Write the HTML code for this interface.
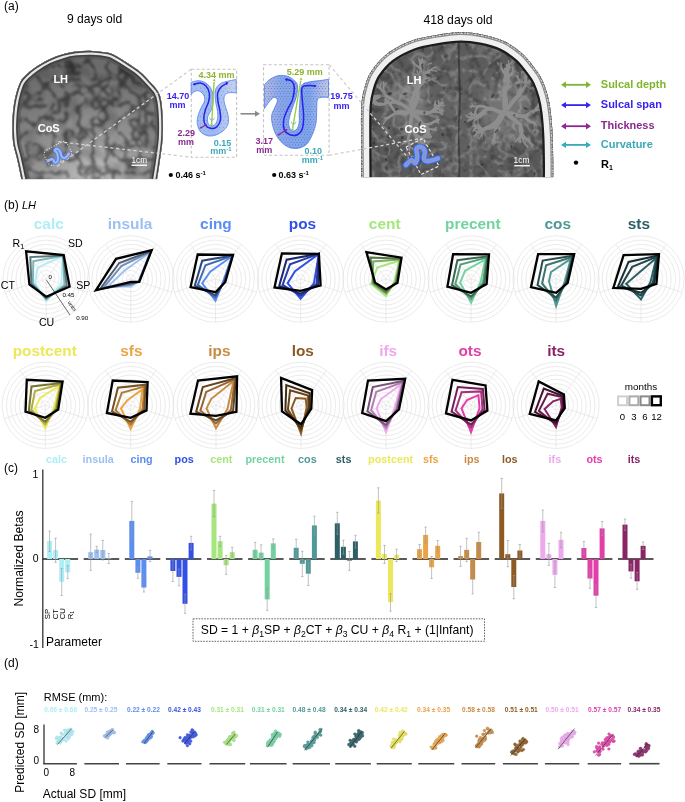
<!DOCTYPE html>
<html><head><meta charset="utf-8"><style>
html,body{margin:0;padding:0;background:#fff;}
svg{display:block;font-family:"Liberation Sans", sans-serif;will-change:transform;}
</style></head><body>
<svg width="685" height="802" viewBox="0 0 685 802" font-family='"Liberation Sans", sans-serif'>
<rect width="685" height="802" fill="#fff"/>
<text x="4.0" y="9.9" font-size="12" fill="#000" text-anchor="start" >(a)</text>
<text x="67.0" y="23.1" font-size="12.1" fill="#000" text-anchor="start" >9 days old</text>
<text x="423.4" y="23.7" font-size="12.2" fill="#000" text-anchor="start" >418 days old</text>
<clipPath id="clL"><path d="M21.5,179.8 C20.8,176.2 18.3,164.2 17.0,158.5 C15.7,152.8 14.4,149.8 13.6,145.4 C12.8,141.1 12.6,136.8 12.4,132.4 C12.2,128.1 12.3,123.7 12.5,119.3 C12.7,114.9 13.0,110.6 13.7,106.2 C14.3,101.8 15.3,97.1 16.4,93.1 C17.5,89.1 18.8,84.9 20.3,82.0 C21.8,79.1 23.0,77.9 25.5,75.5 C28.0,73.1 31.4,70.1 35.2,67.5 C39.0,64.9 43.9,61.9 48.4,59.7 C52.9,57.5 57.4,55.9 62.0,54.5 C66.6,53.1 71.0,52.2 76.0,51.6 C81.0,51.0 86.7,50.7 92.1,50.9 C97.5,51.1 104.2,51.9 108.2,52.8 C112.2,53.7 112.7,54.2 116.2,56.1 C119.7,58.0 125.0,61.4 129.0,64.1 C133.0,66.8 136.8,69.1 140.3,72.1 C143.8,75.0 147.0,78.6 149.9,81.8 C152.8,85.0 156.1,88.2 158.0,91.4 C159.9,94.6 160.4,96.2 161.2,101.0 C162.0,105.8 162.6,113.5 162.8,120.0 C163.0,126.5 163.0,133.3 162.5,140.0 C162.0,146.7 160.9,153.4 160.0,160.0 C159.1,166.6 157.5,176.2 157.0,179.5 Z"/></clipPath>
<radialGradient id="gL" cx="0.55" cy="1.0" r="0.8"><stop offset="0" stop-color="#c6c6c6"/><stop offset="0.35" stop-color="#9a9a9a"/><stop offset="0.75" stop-color="#7c7c7c"/><stop offset="1" stop-color="#6c6c6c"/></radialGradient>
<filter id="tL" x="0" y="0" width="100%" height="100%"><feTurbulence type="turbulence" baseFrequency="0.075" numOctaves="2" seed="3"/><feColorMatrix type="matrix" values="0 0 0 0 0  0 0 0 0 0  0 0 0 0 0  -3.6 0 0 0 1.05"/><feGaussianBlur stdDeviation="0.8"/></filter>
<filter id="tL2" x="0" y="0" width="100%" height="100%"><feTurbulence type="fractalNoise" baseFrequency="0.05" numOctaves="2" seed="5"/><feColorMatrix type="matrix" values="0 0 0 0 0  0 0 0 0 0  0 0 0 0 0  -2.5 0 0 0 1.3"/></filter>
<g clip-path="url(#clL)"><rect x="0" y="40" width="175" height="140" fill="url(#gL)"/><rect x="0" y="40" width="175" height="140" filter="url(#tL2)" opacity="0.25"/><rect x="0" y="40" width="175" height="140" filter="url(#tL)" opacity="0.5"/></g>
<g clip-path="url(#clL)" fill="none"><path d="M21.5,179.8 C20.8,176.2 18.3,164.2 17.0,158.5 C15.7,152.8 14.4,149.8 13.6,145.4 C12.8,141.1 12.6,136.8 12.4,132.4 C12.2,128.1 12.3,123.7 12.5,119.3 C12.7,114.9 13.0,110.6 13.7,106.2 C14.3,101.8 15.3,97.1 16.4,93.1 C17.5,89.1 18.8,84.9 20.3,82.0 C21.8,79.1 23.0,77.9 25.5,75.5 C28.0,73.1 31.4,70.1 35.2,67.5 C39.0,64.9 43.9,61.9 48.4,59.7 C52.9,57.5 57.4,55.9 62.0,54.5 C66.6,53.1 71.0,52.2 76.0,51.6 C81.0,51.0 86.7,50.7 92.1,50.9 C97.5,51.1 104.2,51.9 108.2,52.8 C112.2,53.7 112.7,54.2 116.2,56.1 C119.7,58.0 125.0,61.4 129.0,64.1 C133.0,66.8 136.8,69.1 140.3,72.1 C143.8,75.0 147.0,78.6 149.9,81.8 C152.8,85.0 156.1,88.2 158.0,91.4 C159.9,94.6 160.4,96.2 161.2,101.0 C162.0,105.8 162.6,113.5 162.8,120.0 C163.0,126.5 163.0,133.3 162.5,140.0 C162.0,146.7 160.9,153.4 160.0,160.0 C159.1,166.6 157.5,176.2 157.0,179.5" stroke="#555" stroke-width="16" opacity="0.6"/><path d="M21.5,179.8 C20.8,176.2 18.3,164.2 17.0,158.5 C15.7,152.8 14.4,149.8 13.6,145.4 C12.8,141.1 12.6,136.8 12.4,132.4 C12.2,128.1 12.3,123.7 12.5,119.3 C12.7,114.9 13.0,110.6 13.7,106.2 C14.3,101.8 15.3,97.1 16.4,93.1 C17.5,89.1 18.8,84.9 20.3,82.0 C21.8,79.1 23.0,77.9 25.5,75.5 C28.0,73.1 31.4,70.1 35.2,67.5 C39.0,64.9 43.9,61.9 48.4,59.7 C52.9,57.5 57.4,55.9 62.0,54.5 C66.6,53.1 71.0,52.2 76.0,51.6 C81.0,51.0 86.7,50.7 92.1,50.9 C97.5,51.1 104.2,51.9 108.2,52.8 C112.2,53.7 112.7,54.2 116.2,56.1 C119.7,58.0 125.0,61.4 129.0,64.1 C133.0,66.8 136.8,69.1 140.3,72.1 C143.8,75.0 147.0,78.6 149.9,81.8 C152.8,85.0 156.1,88.2 158.0,91.4 C159.9,94.6 160.4,96.2 161.2,101.0 C162.0,105.8 162.6,113.5 162.8,120.0 C163.0,126.5 163.0,133.3 162.5,140.0 C162.0,146.7 160.9,153.4 160.0,160.0 C159.1,166.6 157.5,176.2 157.0,179.5" stroke="#404040" stroke-width="11"/><path d="M21.5,179.8 C20.8,176.2 18.3,164.2 17.0,158.5 C15.7,152.8 14.4,149.8 13.6,145.4 C12.8,141.1 12.6,136.8 12.4,132.4 C12.2,128.1 12.3,123.7 12.5,119.3 C12.7,114.9 13.0,110.6 13.7,106.2 C14.3,101.8 15.3,97.1 16.4,93.1 C17.5,89.1 18.8,84.9 20.3,82.0 C21.8,79.1 23.0,77.9 25.5,75.5 C28.0,73.1 31.4,70.1 35.2,67.5 C39.0,64.9 43.9,61.9 48.4,59.7 C52.9,57.5 57.4,55.9 62.0,54.5 C66.6,53.1 71.0,52.2 76.0,51.6 C81.0,51.0 86.7,50.7 92.1,50.9 C97.5,51.1 104.2,51.9 108.2,52.8 C112.2,53.7 112.7,54.2 116.2,56.1 C119.7,58.0 125.0,61.4 129.0,64.1 C133.0,66.8 136.8,69.1 140.3,72.1 C143.8,75.0 147.0,78.6 149.9,81.8 C152.8,85.0 156.1,88.2 158.0,91.4 C159.9,94.6 160.4,96.2 161.2,101.0 C162.0,105.8 162.6,113.5 162.8,120.0 C163.0,126.5 163.0,133.3 162.5,140.0 C162.0,146.7 160.9,153.4 160.0,160.0 C159.1,166.6 157.5,176.2 157.0,179.5" stroke="#e6e6e6" stroke-width="7.6"/><path d="M21.5,179.8 C20.8,176.2 18.3,164.2 17.0,158.5 C15.7,152.8 14.4,149.8 13.6,145.4 C12.8,141.1 12.6,136.8 12.4,132.4 C12.2,128.1 12.3,123.7 12.5,119.3 C12.7,114.9 13.0,110.6 13.7,106.2 C14.3,101.8 15.3,97.1 16.4,93.1 C17.5,89.1 18.8,84.9 20.3,82.0 C21.8,79.1 23.0,77.9 25.5,75.5 C28.0,73.1 31.4,70.1 35.2,67.5 C39.0,64.9 43.9,61.9 48.4,59.7 C52.9,57.5 57.4,55.9 62.0,54.5 C66.6,53.1 71.0,52.2 76.0,51.6 C81.0,51.0 86.7,50.7 92.1,50.9 C97.5,51.1 104.2,51.9 108.2,52.8 C112.2,53.7 112.7,54.2 116.2,56.1 C119.7,58.0 125.0,61.4 129.0,64.1 C133.0,66.8 136.8,69.1 140.3,72.1 C143.8,75.0 147.0,78.6 149.9,81.8 C152.8,85.0 156.1,88.2 158.0,91.4 C159.9,94.6 160.4,96.2 161.2,101.0 C162.0,105.8 162.6,113.5 162.8,120.0 C163.0,126.5 163.0,133.3 162.5,140.0 C162.0,146.7 160.9,153.4 160.0,160.0 C159.1,166.6 157.5,176.2 157.0,179.5" stroke="#4a4a4a" stroke-width="3.2"/></g>
<rect x="0" y="179.3" width="170" height="3" fill="#fff"/>
<text x="53.4" y="83.4" font-size="11" fill="#fff" text-anchor="start" font-weight="bold" >LH</text>
<text x="37.7" y="132.3" font-size="11" fill="#fff" text-anchor="start" font-weight="bold" >CoS</text>
<text x="131.5" y="163.0" font-size="8.2" fill="#fff" text-anchor="start" >1cm</text>
<rect x="131.5" y="164.6" width="15.5" height="1.3" fill="#fff"/>
<clipPath id="clR"><path d="M361.2,177.6 C361.2,171.3 361.0,152.1 361.0,140.0 C361.0,127.9 360.8,113.9 361.4,105.1 C362.0,96.3 363.0,93.0 364.6,87.4 C366.2,81.8 367.4,77.0 371.1,71.4 C374.9,65.8 380.4,58.8 387.1,53.7 C393.8,48.6 403.2,43.9 411.2,40.8 C419.2,37.7 427.2,36.6 435.3,35.2 C443.4,33.8 452.2,32.4 460.0,32.3 C467.8,32.2 474.6,33.0 481.9,34.5 C489.2,36.0 497.2,38.1 503.8,41.1 C510.4,44.1 516.4,48.6 521.3,52.7 C526.2,56.8 529.6,61.5 533.0,65.9 C536.4,70.3 539.4,74.1 541.8,79.0 C544.2,83.9 546.1,89.5 547.6,95.1 C549.1,100.7 550.0,105.9 550.8,112.6 C551.6,119.2 552.2,127.1 552.6,135.0 C553.0,142.9 553.1,152.9 553.2,160.0 C553.3,167.1 553.2,174.7 553.2,177.6 Z"/></clipPath>
<radialGradient id="gR" cx="0.5" cy="0.55" r="0.6"><stop offset="0" stop-color="#646464"/><stop offset="1" stop-color="#575757"/></radialGradient>
<filter id="tR" x="0" y="0" width="100%" height="100%"><feTurbulence type="fractalNoise" baseFrequency="0.13" numOctaves="2" seed="8"/><feColorMatrix type="matrix" values="0 0 0 0 0  0 0 0 0 0  0 0 0 0 0  -3.0 0 0 0 1.45"/></filter>
<filter id="bl1"><feGaussianBlur stdDeviation="0.7"/></filter>
<filter id="tR2" x="0" y="0" width="100%" height="100%"><feTurbulence type="turbulence" baseFrequency="0.07" numOctaves="2" seed="17"/><feColorMatrix type="matrix" values="0 0 0 0 1  0 0 0 0 1  0 0 0 0 1  -4.0 0 0 0 1.0"/><feGaussianBlur stdDeviation="0.6"/></filter>
<filter id="bl3"><feGaussianBlur stdDeviation="4"/></filter>
<g clip-path="url(#clR)"><rect x="355" y="25" width="205" height="155" fill="url(#gR)"/>
<ellipse cx="412" cy="105" rx="16" ry="32" fill="#7a7a7a" filter="url(#bl3)" opacity="0.8"/>
<ellipse cx="505" cy="108" rx="24" ry="34" fill="#7a7a7a" filter="url(#bl3)" opacity="0.8"/>
<rect x="355" y="25" width="205" height="155" filter="url(#tR)" opacity="0.24"/>
<rect x="355" y="25" width="205" height="155" filter="url(#tR2)" opacity="0.22"/>
<g stroke="#8e8e8e" fill="none" stroke-linecap="round" filter="url(#bl1)"><path d="M412.0,112.0 C412.0,110.7 411.8,106.6 412.1,103.9 C412.3,101.3 412.7,98.6 413.5,96.0 C414.2,93.4 416.0,89.8 416.5,88.5" stroke-width="3.8"/><path d="M416.5,88.5 C417.1,87.9 419.1,86.1 420.1,84.6 C421.1,83.2 421.8,81.5 422.3,79.9 C422.9,78.2 423.2,75.5 423.4,74.7" stroke-width="2.7"/><path d="M423.4,74.7 C423.5,74.2 423.7,72.8 423.9,71.8 C424.1,70.9 424.5,69.9 424.5,69.0 C424.6,68.0 424.3,66.6 424.2,66.1" stroke-width="2.0"/><path d="M424.2,66.1 C424.2,65.8 424.2,65.1 424.2,64.6 C424.2,64.0 424.1,63.5 424.1,63.0 C424.1,62.5 424.2,61.7 424.3,61.5" stroke-width="1.4"/><path d="M424.2,66.1 C424.3,65.9 424.4,65.1 424.7,64.6 C424.9,64.1 425.2,63.7 425.6,63.3 C425.9,62.9 426.6,62.5 426.8,62.3" stroke-width="1.4"/><path d="M423.4,74.7 C423.1,74.1 422.7,72.3 422.0,71.3 C421.4,70.2 420.5,69.4 419.7,68.5 C418.9,67.6 417.6,66.3 417.1,65.8" stroke-width="2.0"/><path d="M417.1,65.8 C416.9,65.6 416.0,65.0 415.5,64.6 C415.0,64.1 414.4,63.7 413.9,63.2 C413.4,62.7 412.7,62.0 412.4,61.8" stroke-width="1.4"/><path d="M417.1,65.8 C416.9,65.6 416.0,65.1 415.5,64.7 C415.0,64.2 414.7,63.6 414.2,63.1 C413.8,62.6 413.1,61.9 412.8,61.6" stroke-width="1.4"/><path d="M423.4,74.7 C423.1,74.2 422.0,72.6 421.5,71.5 C421.0,70.4 420.5,69.3 420.3,68.1 C420.1,66.9 420.2,65.0 420.1,64.4" stroke-width="2.0"/><path d="M420.1,64.4 C420.0,64.1 419.7,63.1 419.6,62.4 C419.4,61.7 419.5,61.0 419.4,60.4 C419.2,59.7 418.8,58.7 418.7,58.4" stroke-width="1.4"/><path d="M420.1,64.4 C420.4,64.2 421.2,63.6 421.8,63.2 C422.3,62.8 422.9,62.4 423.5,62.0 C424.0,61.5 424.7,60.8 425.0,60.6" stroke-width="1.4"/><path d="M420.1,64.4 C420.2,64.1 420.5,63.2 420.8,62.7 C421.1,62.1 421.7,61.7 422.0,61.2 C422.3,60.7 422.5,59.7 422.6,59.4" stroke-width="1.4"/><path d="M416.5,88.5 C416.6,87.6 416.7,84.9 417.1,83.2 C417.4,81.4 417.8,79.6 418.6,78.0 C419.3,76.4 421.1,74.2 421.6,73.5" stroke-width="2.7"/><path d="M421.6,73.5 C421.4,73.0 420.8,71.5 420.7,70.5 C420.5,69.4 420.7,68.4 420.5,67.3 C420.4,66.3 420.1,64.7 420.0,64.2" stroke-width="2.0"/><path d="M420.0,64.2 C420.0,63.9 420.3,62.9 420.5,62.3 C420.6,61.7 420.7,61.0 421.0,60.4 C421.3,59.8 421.9,59.0 422.1,58.8" stroke-width="1.4"/><path d="M420.0,64.2 C420.1,63.9 420.7,63.1 421.0,62.5 C421.3,61.9 421.6,61.3 421.8,60.7 C422.0,60.1 422.1,59.1 422.1,58.8" stroke-width="1.4"/><path d="M420.0,64.2 C419.9,63.9 419.7,63.2 419.7,62.6 C419.6,62.1 419.5,61.6 419.4,61.0 C419.4,60.5 419.4,59.7 419.4,59.4" stroke-width="1.4"/><path d="M421.6,73.5 C422.1,73.4 423.7,73.1 424.7,72.8 C425.7,72.5 426.7,72.1 427.7,71.7 C428.7,71.3 430.0,70.4 430.5,70.1" stroke-width="2.0"/><path d="M430.5,70.1 C430.8,70.2 431.8,70.5 432.5,70.6 C433.1,70.7 433.8,70.7 434.5,70.8 C435.1,70.9 436.1,71.1 436.5,71.2" stroke-width="1.4"/><path d="M430.5,70.1 C430.7,69.9 431.4,69.2 432.0,68.9 C432.5,68.5 433.1,68.2 433.7,68.0 C434.3,67.8 435.3,67.7 435.6,67.7" stroke-width="1.4"/><path d="M430.5,70.1 C430.8,69.9 431.7,69.3 432.3,68.9 C432.9,68.5 433.5,68.0 434.1,67.7 C434.8,67.3 435.9,67.1 436.2,67.0" stroke-width="1.4"/><path d="M421.6,73.5 C421.9,73.0 422.8,71.6 423.4,70.7 C424.0,69.7 424.6,68.8 425.1,67.8 C425.6,66.8 426.1,65.1 426.3,64.6" stroke-width="2.0"/><path d="M426.3,64.6 C426.6,64.5 427.4,64.3 428.0,64.2 C428.6,64.0 429.1,63.8 429.7,63.7 C430.3,63.5 431.1,63.3 431.4,63.3" stroke-width="1.4"/><path d="M426.3,64.6 C426.1,64.3 425.6,63.5 425.2,63.0 C424.8,62.5 424.5,61.9 424.0,61.5 C423.5,61.0 422.7,60.5 422.4,60.3" stroke-width="1.4"/><path d="M412.0,112.0 C411.2,111.3 408.7,109.1 406.9,107.8 C405.2,106.4 403.4,105.1 401.5,104.1 C399.5,103.1 396.3,102.3 395.2,101.9" stroke-width="3.8"/><path d="M395.2,101.9 C394.7,101.4 393.3,99.9 392.2,99.1 C391.1,98.3 389.7,97.8 388.5,97.2 C387.3,96.5 385.6,95.3 385.0,94.9" stroke-width="2.7"/><path d="M385.0,94.9 C384.9,94.5 384.7,93.1 384.4,92.1 C384.2,91.2 383.7,90.3 383.5,89.4 C383.4,88.5 383.5,87.0 383.5,86.5" stroke-width="2.0"/><path d="M383.5,86.5 C383.5,86.2 383.5,85.4 383.6,84.9 C383.6,84.4 383.7,83.8 383.7,83.3 C383.7,82.7 383.7,81.9 383.7,81.6" stroke-width="1.4"/><path d="M383.5,86.5 C383.6,86.3 384.0,85.6 384.3,85.3 C384.6,84.9 385.1,84.5 385.4,84.2 C385.7,83.8 386.1,83.1 386.3,82.9" stroke-width="1.4"/><path d="M385.0,94.9 C384.6,95.0 383.3,95.0 382.4,95.2 C381.6,95.3 380.8,95.6 379.9,95.8 C379.0,95.9 377.7,95.8 377.3,95.8" stroke-width="2.0"/><path d="M377.3,95.8 C377.2,96.1 376.8,96.8 376.4,97.1 C376.1,97.5 375.6,97.8 375.2,98.1 C374.7,98.4 374.0,98.7 373.8,98.8" stroke-width="1.4"/><path d="M377.3,95.8 C377.0,95.9 376.1,96.0 375.5,95.9 C374.9,95.8 374.3,95.7 373.7,95.5 C373.2,95.3 372.4,94.8 372.1,94.7" stroke-width="1.4"/><path d="M377.3,95.8 C377.0,95.9 376.2,96.0 375.7,96.1 C375.1,96.3 374.6,96.5 374.1,96.6 C373.5,96.7 372.7,96.8 372.4,96.9" stroke-width="1.4"/><path d="M385.0,94.9 C384.7,94.6 383.8,93.7 383.3,93.1 C382.8,92.4 382.5,91.6 382.0,90.9 C381.6,90.2 380.9,89.1 380.6,88.8" stroke-width="2.0"/><path d="M380.6,88.8 C380.6,88.5 380.6,87.7 380.6,87.1 C380.6,86.5 380.6,86.0 380.7,85.4 C380.8,84.9 381.1,84.1 381.2,83.8" stroke-width="1.4"/><path d="M380.6,88.8 C380.5,88.6 380.2,87.9 379.9,87.5 C379.7,87.0 379.3,86.7 378.9,86.3 C378.6,85.9 378.3,85.3 378.1,85.1" stroke-width="1.4"/><path d="M380.6,88.8 C380.4,88.7 379.8,88.6 379.4,88.4 C379.0,88.2 378.7,87.9 378.3,87.6 C377.9,87.4 377.4,87.1 377.2,87.0" stroke-width="1.4"/><path d="M395.2,101.9 C394.7,101.4 393.0,99.8 391.8,98.9 C390.5,98.1 389.1,97.5 387.7,96.9 C386.3,96.3 384.1,95.7 383.4,95.5" stroke-width="2.7"/><path d="M383.4,95.5 C382.9,95.6 381.5,96.0 380.7,96.4 C379.8,96.7 379.1,97.4 378.2,97.8 C377.4,98.3 376.1,98.9 375.7,99.1" stroke-width="2.0"/><path d="M375.7,99.1 C375.4,99.1 374.5,99.3 373.9,99.4 C373.4,99.6 372.8,99.8 372.3,100.0 C371.7,100.2 370.8,100.5 370.5,100.6" stroke-width="1.4"/><path d="M375.7,99.1 C375.5,99.3 374.9,100.0 374.4,100.3 C374.0,100.6 373.4,100.8 372.8,101.1 C372.3,101.3 371.6,101.8 371.3,102.0" stroke-width="1.4"/><path d="M383.4,95.5 C382.8,95.5 381.3,95.4 380.2,95.5 C379.2,95.5 378.1,95.7 377.1,96.0 C376.2,96.4 374.8,97.2 374.4,97.5" stroke-width="2.0"/><path d="M374.4,97.5 C374.2,97.8 373.4,98.5 373.1,99.1 C372.7,99.6 372.4,100.3 372.2,100.9 C371.9,101.5 371.7,102.5 371.7,102.9" stroke-width="1.4"/><path d="M374.4,97.5 C374.3,97.8 373.9,98.8 373.7,99.5 C373.4,100.1 373.2,100.8 373.0,101.5 C372.8,102.2 372.6,103.2 372.5,103.5" stroke-width="1.4"/><path d="M383.4,95.5 C382.8,95.6 381.3,95.6 380.2,95.9 C379.2,96.1 378.2,96.4 377.3,96.8 C376.3,97.3 375.1,98.3 374.6,98.6" stroke-width="2.0"/><path d="M374.6,98.6 C374.3,98.6 373.5,98.5 373.0,98.5 C372.4,98.5 371.8,98.6 371.3,98.7 C370.8,98.8 370.0,99.0 369.7,99.1" stroke-width="1.4"/><path d="M374.6,98.6 C374.3,98.7 373.5,99.3 373.0,99.6 C372.4,100.0 371.9,100.4 371.4,100.9 C371.0,101.4 370.6,102.3 370.4,102.5" stroke-width="1.4"/><path d="M374.6,98.6 C374.4,98.7 373.9,99.3 373.5,99.7 C373.1,100.1 372.8,100.5 372.4,100.8 C372.0,101.2 371.3,101.6 371.1,101.8" stroke-width="1.4"/><path d="M395.2,101.9 C394.6,102.0 392.7,102.4 391.4,102.6 C390.1,102.7 388.7,102.5 387.5,102.8 C386.2,103.1 384.4,103.9 383.8,104.2" stroke-width="2.7"/><path d="M383.8,104.2 C383.4,104.1 382.3,103.6 381.6,103.5 C380.8,103.4 380.0,103.6 379.2,103.5 C378.5,103.5 377.4,103.1 377.0,103.0" stroke-width="2.0"/><path d="M377.0,103.0 C376.8,102.9 376.4,102.5 376.1,102.2 C375.8,102.0 375.5,101.8 375.2,101.5 C374.9,101.2 374.6,100.8 374.4,100.6" stroke-width="1.4"/><path d="M377.0,103.0 C376.8,102.9 376.2,102.6 375.9,102.3 C375.6,102.0 375.3,101.7 375.0,101.4 C374.6,101.1 374.1,100.8 373.9,100.7" stroke-width="1.4"/><path d="M377.0,103.0 C376.8,102.8 376.5,102.2 376.2,101.8 C375.9,101.4 375.5,101.1 375.1,100.7 C374.8,100.4 374.2,100.0 374.0,99.8" stroke-width="1.4"/><path d="M383.8,104.2 C383.4,104.1 382.0,104.1 381.1,104.1 C380.2,104.1 379.3,104.3 378.4,104.2 C377.6,104.1 376.3,103.5 375.9,103.4" stroke-width="2.0"/><path d="M375.9,103.4 C375.6,103.3 374.9,102.9 374.4,102.8 C373.9,102.7 373.3,102.6 372.8,102.6 C372.3,102.6 371.5,102.8 371.2,102.9" stroke-width="1.4"/><path d="M375.9,103.4 C375.6,103.2 374.9,102.8 374.5,102.4 C374.0,102.1 373.7,101.6 373.3,101.2 C372.8,100.9 372.0,100.6 371.8,100.5" stroke-width="1.4"/><path d="M383.8,104.2 C383.5,104.3 382.5,104.7 381.8,104.8 C381.1,104.9 380.4,104.9 379.7,104.9 C379.0,104.8 378.0,104.5 377.6,104.5" stroke-width="2.0"/><path d="M377.6,104.5 C377.4,104.4 376.7,104.2 376.3,104.0 C375.8,103.8 375.5,103.5 375.1,103.3 C374.6,103.0 373.9,102.8 373.7,102.7" stroke-width="1.4"/><path d="M377.6,104.5 C377.5,104.5 376.9,104.6 376.5,104.6 C376.2,104.6 375.8,104.6 375.4,104.6 C375.1,104.5 374.5,104.4 374.4,104.3" stroke-width="1.4"/><path d="M412.0,112.0 C412.4,111.0 413.8,108.0 414.6,105.9 C415.4,103.9 416.3,101.8 416.8,99.7 C417.2,97.6 417.2,94.2 417.3,93.1" stroke-width="3.8"/><path d="M417.3,93.1 C417.5,92.4 417.8,90.3 418.3,89.0 C418.9,87.8 419.8,86.6 420.6,85.5 C421.4,84.3 422.8,82.8 423.3,82.2" stroke-width="2.7"/><path d="M423.3,82.2 C423.1,81.8 422.8,80.5 422.4,79.7 C422.0,78.9 421.5,78.1 421.0,77.3 C420.5,76.6 419.6,75.6 419.3,75.3" stroke-width="2.0"/><path d="M419.3,75.3 C419.3,75.0 419.4,74.3 419.5,73.9 C419.5,73.4 419.4,73.0 419.5,72.5 C419.6,72.0 419.8,71.4 419.8,71.1" stroke-width="1.4"/><path d="M419.3,75.3 C419.1,75.0 418.5,74.4 418.2,73.9 C417.9,73.4 417.7,72.8 417.6,72.2 C417.4,71.6 417.3,70.7 417.2,70.4" stroke-width="1.4"/><path d="M419.3,75.3 C419.0,75.2 418.2,74.8 417.7,74.7 C417.1,74.6 416.5,74.7 416.0,74.6 C415.4,74.5 414.6,74.3 414.3,74.2" stroke-width="1.4"/><path d="M423.3,82.2 C423.8,82.1 425.2,81.9 426.1,81.6 C427.0,81.3 427.9,80.8 428.8,80.4 C429.7,80.0 431.0,79.3 431.4,79.1" stroke-width="2.0"/><path d="M431.4,79.1 C431.5,78.8 431.8,78.0 432.0,77.5 C432.2,77.0 432.6,76.6 432.8,76.0 C433.0,75.5 433.1,74.7 433.2,74.4" stroke-width="1.4"/><path d="M431.4,79.1 C431.7,79.0 432.5,79.0 433.1,78.9 C433.6,78.8 434.2,78.7 434.8,78.6 C435.3,78.4 436.1,78.2 436.4,78.1" stroke-width="1.4"/><path d="M431.4,79.1 C431.6,79.2 432.4,79.7 432.9,80.0 C433.4,80.3 433.8,80.8 434.3,81.0 C434.8,81.3 435.7,81.5 436.0,81.6" stroke-width="1.4"/><path d="M423.3,82.2 C423.4,81.8 423.6,80.6 423.9,79.8 C424.2,79.0 424.7,78.3 425.0,77.6 C425.4,76.8 425.7,75.6 425.8,75.2" stroke-width="2.0"/><path d="M425.8,75.2 C426.0,75.0 426.5,74.3 426.9,73.9 C427.2,73.5 427.7,73.2 428.1,72.9 C428.6,72.6 429.3,72.2 429.6,72.1" stroke-width="1.4"/><path d="M425.8,75.2 C425.9,75.0 426.0,74.4 426.0,73.9 C425.9,73.5 425.8,73.1 425.7,72.7 C425.7,72.3 425.7,71.6 425.7,71.4" stroke-width="1.4"/><path d="M425.8,75.2 C425.9,75.0 426.0,74.3 426.1,73.9 C426.2,73.5 426.4,73.1 426.5,72.7 C426.5,72.3 426.5,71.6 426.5,71.4" stroke-width="1.4"/><path d="M417.3,93.1 C417.4,92.5 417.6,90.5 417.8,89.2 C418.1,87.9 418.6,86.7 418.9,85.4 C419.2,84.1 419.6,82.2 419.8,81.5" stroke-width="2.7"/><path d="M419.8,81.5 C419.9,81.1 420.1,79.8 420.3,79.0 C420.5,78.1 420.7,77.3 421.0,76.4 C421.2,75.6 421.8,74.4 422.0,74.0" stroke-width="2.0"/><path d="M422.0,74.0 C421.9,73.8 421.8,73.1 421.6,72.7 C421.5,72.3 421.3,71.9 421.2,71.4 C421.0,71.0 420.8,70.4 420.8,70.2" stroke-width="1.4"/><path d="M422.0,74.0 C422.2,73.8 422.9,73.3 423.4,72.9 C423.9,72.6 424.4,72.3 425.0,72.1 C425.5,71.8 426.4,71.7 426.7,71.6" stroke-width="1.4"/><path d="M419.8,81.5 C420.1,81.3 421.1,80.7 421.8,80.3 C422.4,79.9 423.2,79.7 423.9,79.3 C424.6,79.0 425.5,78.4 425.9,78.2" stroke-width="2.0"/><path d="M425.9,78.2 C426.1,78.2 426.8,78.3 427.3,78.3 C427.8,78.2 428.3,78.0 428.7,78.0 C429.2,77.9 429.9,77.9 430.2,77.8" stroke-width="1.4"/><path d="M425.9,78.2 C426.1,78.2 426.7,78.3 427.1,78.4 C427.5,78.4 427.9,78.3 428.3,78.3 C428.6,78.2 429.2,78.3 429.4,78.3" stroke-width="1.4"/><path d="M412.0,112.0 C411.2,112.1 408.6,112.8 406.9,112.9 C405.3,112.9 403.6,112.1 401.9,112.0 C400.2,112.0 397.6,112.3 396.7,112.4" stroke-width="3.8"/><path d="M396.7,112.4 C396.3,112.6 395.2,113.4 394.3,113.9 C393.5,114.4 392.7,114.9 391.9,115.4 C391.1,115.9 389.9,116.7 389.5,117.0" stroke-width="2.7"/><path d="M389.5,117.0 C389.2,117.1 388.4,117.4 387.8,117.5 C387.2,117.7 386.5,117.6 386.0,117.8 C385.4,118.0 384.6,118.4 384.4,118.6" stroke-width="2.0"/><path d="M384.4,118.6 C384.3,118.7 384.1,119.3 384.1,119.6 C384.0,120.0 384.1,120.3 384.1,120.7 C384.1,121.1 384.1,121.6 384.1,121.8" stroke-width="1.4"/><path d="M384.4,118.6 C384.3,118.7 384.1,119.2 384.0,119.5 C384.0,119.8 384.0,120.1 383.9,120.4 C383.9,120.7 383.8,121.2 383.7,121.4" stroke-width="1.4"/><path d="M384.4,118.6 C384.2,118.7 383.9,119.2 383.6,119.5 C383.4,119.9 383.1,120.2 382.8,120.5 C382.5,120.7 382.0,121.0 381.8,121.2" stroke-width="1.4"/><path d="M389.5,117.0 C389.3,117.2 388.6,117.9 388.1,118.3 C387.6,118.7 387.0,119.0 386.5,119.4 C386.0,119.8 385.3,120.5 385.1,120.8" stroke-width="2.0"/><path d="M385.1,120.8 C384.9,120.9 384.6,121.3 384.4,121.5 C384.2,121.8 384.0,122.1 383.8,122.4 C383.6,122.7 383.3,123.0 383.2,123.2" stroke-width="1.4"/><path d="M385.1,120.8 C385.0,120.9 384.8,121.6 384.6,121.9 C384.4,122.3 384.1,122.7 383.9,123.0 C383.7,123.4 383.5,124.0 383.4,124.2" stroke-width="1.4"/><path d="M385.1,120.8 C384.9,120.9 384.6,121.3 384.3,121.6 C384.1,121.8 383.8,122.1 383.6,122.4 C383.4,122.7 383.2,123.2 383.1,123.4" stroke-width="1.4"/><path d="M389.5,117.0 C389.3,117.1 388.6,117.5 388.1,117.7 C387.6,117.8 387.1,117.8 386.6,118.0 C386.1,118.1 385.4,118.5 385.2,118.5" stroke-width="2.0"/><path d="M385.2,118.5 C385.1,118.7 384.8,119.1 384.6,119.4 C384.4,119.6 384.1,119.8 383.9,120.1 C383.6,120.3 383.3,120.7 383.2,120.9" stroke-width="1.4"/><path d="M385.2,118.5 C385.1,118.7 385.0,119.2 384.9,119.6 C384.7,119.9 384.5,120.2 384.3,120.5 C384.2,120.8 384.2,121.4 384.2,121.6" stroke-width="1.4"/><path d="M396.7,112.4 C396.3,112.1 395.0,111.3 394.2,110.6 C393.5,109.8 393.0,108.9 392.4,108.1 C391.9,107.2 391.1,105.9 390.9,105.4" stroke-width="2.7"/><path d="M390.9,105.4 C390.7,105.2 389.9,104.6 389.6,104.2 C389.2,103.7 388.8,103.2 388.5,102.7 C388.2,102.2 388.0,101.3 387.9,101.0" stroke-width="2.0"/><path d="M387.9,101.0 C388.0,100.9 388.2,100.5 388.5,100.2 C388.7,99.9 389.0,99.7 389.2,99.5 C389.5,99.3 390.0,99.1 390.2,99.0" stroke-width="1.4"/><path d="M387.9,101.0 C387.7,100.9 387.4,100.5 387.1,100.3 C386.8,100.1 386.5,100.0 386.2,99.8 C385.9,99.6 385.4,99.4 385.3,99.4" stroke-width="1.4"/><path d="M387.9,101.0 C387.7,100.9 387.3,100.6 387.1,100.3 C386.9,100.0 386.8,99.7 386.6,99.4 C386.4,99.1 386.1,98.7 385.9,98.6" stroke-width="1.4"/><path d="M390.9,105.4 C390.7,105.2 390.2,104.6 389.9,104.2 C389.6,103.7 389.4,103.2 389.0,102.8 C388.6,102.5 387.9,102.1 387.7,101.9" stroke-width="2.0"/><path d="M387.7,101.9 C387.6,101.9 387.2,101.8 386.9,101.8 C386.6,101.8 386.3,101.8 386.1,101.8 C385.8,101.9 385.4,102.0 385.3,102.0" stroke-width="1.4"/><path d="M387.7,101.9 C387.6,101.8 387.2,101.6 386.9,101.5 C386.6,101.4 386.3,101.3 386.1,101.1 C385.9,100.9 385.6,100.5 385.5,100.4" stroke-width="1.4"/><path d="M387.7,101.9 C387.6,101.8 387.3,101.5 387.0,101.4 C386.7,101.3 386.5,101.2 386.2,101.2 C385.9,101.2 385.4,101.2 385.3,101.3" stroke-width="1.4"/><path d="M412.0,112.0 C411.9,113.0 411.5,115.9 411.3,117.8 C411.1,119.8 410.5,121.7 410.6,123.7 C410.7,125.6 411.6,128.4 411.8,129.4" stroke-width="3.8"/><path d="M411.8,129.4 C411.5,130.0 410.7,131.7 410.1,132.9 C409.6,134.0 408.9,135.2 408.6,136.4 C408.3,137.6 408.2,139.6 408.1,140.2" stroke-width="2.7"/><path d="M408.1,140.2 C407.8,140.4 407.0,141.2 406.5,141.7 C405.9,142.1 405.3,142.6 404.6,142.9 C404.0,143.2 402.9,143.4 402.5,143.5" stroke-width="2.0"/><path d="M402.5,143.5 C402.3,143.5 401.7,143.4 401.3,143.2 C401.0,143.0 400.7,142.7 400.3,142.5 C399.9,142.4 399.3,142.3 399.1,142.2" stroke-width="1.4"/><path d="M402.5,143.5 C402.3,143.6 401.7,143.9 401.4,144.2 C401.1,144.4 400.8,144.8 400.5,145.1 C400.3,145.5 400.1,146.1 400.0,146.3" stroke-width="1.4"/><path d="M402.5,143.5 C402.3,143.5 401.7,143.4 401.3,143.3 C400.9,143.1 400.5,142.9 400.1,142.7 C399.8,142.5 399.2,142.3 399.0,142.2" stroke-width="1.4"/><path d="M408.1,140.2 C408.2,140.6 408.4,141.8 408.6,142.5 C408.9,143.3 409.4,144.0 409.6,144.8 C409.8,145.5 409.8,146.8 409.9,147.2" stroke-width="2.0"/><path d="M409.9,147.2 C409.7,147.4 409.3,148.0 409.0,148.5 C408.6,148.9 408.4,149.4 408.0,149.8 C407.6,150.1 406.9,150.6 406.7,150.7" stroke-width="1.4"/><path d="M409.9,147.2 C410.1,147.3 410.8,147.5 411.2,147.8 C411.6,148.0 412.0,148.3 412.4,148.6 C412.8,148.9 413.4,149.4 413.6,149.5" stroke-width="1.4"/><path d="M409.9,147.2 C409.8,147.4 409.7,148.0 409.7,148.4 C409.6,148.8 409.6,149.2 409.6,149.6 C409.6,150.0 409.6,150.6 409.6,150.8" stroke-width="1.4"/><path d="M411.8,129.4 C412.2,129.9 413.3,131.1 413.9,132.1 C414.5,133.1 414.7,134.3 415.2,135.3 C415.7,136.4 416.7,137.9 416.9,138.4" stroke-width="2.7"/><path d="M416.9,138.4 C417.2,138.6 417.8,139.3 418.2,139.7 C418.7,140.1 419.3,140.3 419.7,140.8 C420.1,141.2 420.6,142.0 420.8,142.3" stroke-width="2.0"/><path d="M420.8,142.3 C420.8,142.4 421.0,142.9 421.1,143.2 C421.2,143.5 421.3,143.8 421.3,144.1 C421.4,144.4 421.6,144.9 421.6,145.1" stroke-width="1.4"/><path d="M420.8,142.3 C420.8,142.4 420.9,142.9 420.9,143.2 C420.9,143.6 421.0,143.9 421.0,144.2 C421.1,144.5 421.1,145.0 421.1,145.2" stroke-width="1.4"/><path d="M416.9,138.4 C417.0,138.7 417.2,139.6 417.4,140.2 C417.6,140.8 417.9,141.4 418.2,142.0 C418.5,142.6 419.0,143.4 419.2,143.7" stroke-width="2.0"/><path d="M419.2,143.7 C419.3,143.8 419.8,144.2 420.1,144.5 C420.4,144.8 420.6,145.2 420.8,145.5 C421.0,145.9 421.3,146.5 421.4,146.6" stroke-width="1.4"/><path d="M419.2,143.7 C419.2,143.8 419.2,144.3 419.2,144.7 C419.3,145.0 419.3,145.3 419.4,145.6 C419.4,146.0 419.4,146.5 419.4,146.6" stroke-width="1.4"/><path d="M419.2,143.7 C419.2,143.9 419.1,144.4 419.2,144.8 C419.3,145.2 419.4,145.5 419.6,145.9 C419.8,146.2 420.1,146.6 420.3,146.8" stroke-width="1.4"/><path d="M416.9,138.4 C417.2,138.5 418.0,139.0 418.5,139.4 C419.0,139.8 419.5,140.2 420.0,140.5 C420.6,140.9 421.4,141.3 421.7,141.4" stroke-width="2.0"/><path d="M421.7,141.4 C421.8,141.5 422.2,141.9 422.5,142.1 C422.8,142.3 423.2,142.4 423.5,142.5 C423.9,142.6 424.4,142.8 424.5,142.8" stroke-width="1.4"/><path d="M421.7,141.4 C421.8,141.6 421.9,142.2 422.1,142.5 C422.3,142.8 422.5,143.2 422.7,143.5 C422.8,143.8 423.1,144.4 423.2,144.5" stroke-width="1.4"/><path d="M411.8,129.4 C412.1,130.0 413.0,131.8 413.9,132.8 C414.7,133.8 415.8,134.6 416.9,135.4 C417.9,136.2 419.6,137.2 420.2,137.6" stroke-width="2.7"/><path d="M420.2,137.6 C420.5,137.8 421.6,138.3 422.3,138.7 C423.0,139.1 423.6,139.7 424.3,140.0 C425.0,140.4 426.2,140.8 426.6,141.0" stroke-width="2.0"/><path d="M426.6,141.0 C426.7,141.2 427.2,141.6 427.5,141.9 C427.8,142.3 428.0,142.7 428.3,143.0 C428.5,143.4 428.8,144.0 429.0,144.2" stroke-width="1.4"/><path d="M426.6,141.0 C426.8,141.0 427.4,141.1 427.9,141.2 C428.3,141.3 428.7,141.4 429.1,141.5 C429.6,141.7 430.2,142.0 430.4,142.0" stroke-width="1.4"/><path d="M420.2,137.6 C420.5,137.5 421.7,137.3 422.4,137.3 C423.2,137.3 423.9,137.5 424.7,137.4 C425.4,137.3 426.5,136.9 426.9,136.9" stroke-width="2.0"/><path d="M426.9,136.9 C427.1,136.8 427.7,136.5 428.2,136.3 C428.6,136.1 429.0,135.9 429.5,135.8 C429.9,135.6 430.6,135.6 430.8,135.6" stroke-width="1.4"/><path d="M426.9,136.9 C427.1,136.9 427.7,136.8 428.1,136.8 C428.6,136.9 428.9,137.2 429.3,137.2 C429.8,137.3 430.4,137.2 430.6,137.2" stroke-width="1.4"/><path d="M420.2,137.6 C420.4,137.9 420.9,138.9 421.3,139.5 C421.7,140.2 422.1,140.8 422.5,141.5 C422.8,142.1 423.2,143.2 423.3,143.5" stroke-width="2.0"/><path d="M423.3,143.5 C423.5,143.6 424.2,143.8 424.6,143.9 C425.0,144.1 425.4,144.3 425.8,144.6 C426.2,144.8 426.7,145.3 426.9,145.4" stroke-width="1.4"/><path d="M423.3,143.5 C423.3,143.7 423.0,144.3 422.8,144.7 C422.7,145.0 422.4,145.4 422.2,145.8 C422.1,146.1 421.8,146.7 421.7,146.9" stroke-width="1.4"/><path d="M412.0,112.0 C412.9,111.9 415.4,111.4 417.1,111.5 C418.8,111.6 420.4,112.2 422.1,112.5 C423.8,112.7 426.4,113.0 427.2,113.0" stroke-width="3.8"/><path d="M427.2,113.0 C427.7,112.9 428.9,112.5 429.8,112.3 C430.6,112.0 431.5,111.7 432.4,111.6 C433.2,111.5 434.6,111.5 435.0,111.5" stroke-width="2.7"/><path d="M435.0,111.5 C435.3,111.5 436.1,111.7 436.6,111.9 C437.1,112.0 437.7,112.1 438.2,112.2 C438.7,112.2 439.5,112.4 439.8,112.4" stroke-width="2.0"/><path d="M439.8,112.4 C439.9,112.5 440.3,112.7 440.5,112.8 C440.7,113.0 441.0,113.1 441.2,113.3 C441.5,113.4 441.8,113.7 441.9,113.8" stroke-width="1.4"/><path d="M439.8,112.4 C439.9,112.5 440.3,112.8 440.6,113.0 C440.8,113.2 441.0,113.5 441.2,113.8 C441.5,114.0 441.9,114.3 442.0,114.4" stroke-width="1.4"/><path d="M435.0,111.5 C435.1,111.3 435.5,110.7 435.7,110.2 C436.0,109.8 436.2,109.4 436.4,108.9 C436.6,108.5 436.8,107.8 436.9,107.6" stroke-width="2.0"/><path d="M436.9,107.6 C436.9,107.4 436.8,106.9 436.8,106.6 C436.7,106.3 436.7,106.0 436.6,105.7 C436.5,105.4 436.3,105.0 436.2,104.8" stroke-width="1.4"/><path d="M436.9,107.6 C436.9,107.4 437.1,107.0 437.2,106.7 C437.4,106.4 437.6,106.2 437.8,105.9 C438.0,105.7 438.4,105.4 438.5,105.3" stroke-width="1.4"/><path d="M436.9,107.6 C437.0,107.5 437.3,107.1 437.6,107.0 C437.8,106.8 438.1,106.6 438.3,106.5 C438.6,106.3 439.0,106.0 439.1,106.0" stroke-width="1.4"/><path d="M427.2,113.0 C427.8,112.9 429.5,112.5 430.5,112.1 C431.5,111.6 432.5,110.9 433.5,110.4 C434.5,109.8 436.0,109.2 436.6,108.9" stroke-width="2.7"/><path d="M436.6,108.9 C436.8,108.7 437.5,108.1 437.8,107.7 C438.1,107.2 438.4,106.6 438.6,106.0 C438.7,105.4 438.8,104.5 438.9,104.2" stroke-width="2.0"/><path d="M438.9,104.2 C439.1,104.1 439.6,103.8 439.9,103.6 C440.2,103.4 440.5,103.2 440.9,103.0 C441.2,102.9 441.8,102.7 442.0,102.7" stroke-width="1.4"/><path d="M438.9,104.2 C438.8,104.0 438.7,103.4 438.6,103.0 C438.6,102.6 438.5,102.2 438.5,101.8 C438.5,101.4 438.6,100.8 438.6,100.6" stroke-width="1.4"/><path d="M438.9,104.2 C438.9,104.1 438.9,103.6 438.9,103.2 C438.8,102.9 438.6,102.6 438.5,102.3 C438.4,102.0 438.3,101.5 438.2,101.3" stroke-width="1.4"/><path d="M436.6,108.9 C436.8,108.7 437.4,108.0 437.8,107.6 C438.3,107.2 438.9,107.0 439.3,106.5 C439.7,106.1 440.2,105.3 440.3,105.1" stroke-width="2.0"/><path d="M440.3,105.1 C440.6,105.1 441.2,104.9 441.6,105.0 C442.0,105.0 442.4,105.1 442.8,105.2 C443.2,105.3 443.8,105.5 444.0,105.6" stroke-width="1.4"/><path d="M440.3,105.1 C440.4,104.9 440.4,104.4 440.4,104.1 C440.3,103.7 440.2,103.4 440.1,103.1 C440.0,102.7 440.0,102.2 440.0,102.1" stroke-width="1.4"/><path d="M436.6,108.9 C436.8,108.7 437.4,107.9 437.8,107.4 C438.3,106.9 438.8,106.5 439.3,106.0 C439.7,105.6 440.4,104.8 440.6,104.6" stroke-width="2.0"/><path d="M440.6,104.6 C440.8,104.5 441.3,104.2 441.6,104.0 C441.9,103.8 442.2,103.5 442.5,103.3 C442.8,103.1 443.4,103.0 443.5,102.9" stroke-width="1.4"/><path d="M440.6,104.6 C440.7,104.4 441.0,104.0 441.2,103.7 C441.4,103.4 441.7,103.1 441.9,102.8 C442.1,102.5 442.3,102.0 442.4,101.8" stroke-width="1.4"/><path d="M440.6,104.6 C440.7,104.4 441.2,104.1 441.5,103.8 C441.7,103.5 441.9,103.2 442.1,102.9 C442.4,102.6 442.7,102.1 442.8,101.9" stroke-width="1.4"/><path d="M427.2,113.0 C427.7,112.9 429.3,112.7 430.2,112.3 C431.1,111.9 432.0,111.3 432.7,110.7 C433.5,110.0 434.4,108.8 434.7,108.4" stroke-width="2.7"/><path d="M434.7,108.4 C434.8,108.2 434.9,107.4 434.9,106.9 C435.0,106.4 434.9,105.8 434.9,105.3 C434.9,104.8 435.0,104.0 435.0,103.8" stroke-width="2.0"/><path d="M435.0,103.8 C435.1,103.6 435.1,103.2 435.1,102.9 C435.2,102.6 435.2,102.3 435.3,102.0 C435.3,101.8 435.6,101.4 435.7,101.3" stroke-width="1.4"/><path d="M434.7,108.4 C435.0,108.4 435.9,108.3 436.5,108.4 C437.0,108.5 437.6,108.6 438.1,108.9 C438.7,109.1 439.3,109.7 439.6,109.8" stroke-width="2.0"/><path d="M439.6,109.8 C439.8,109.9 440.2,110.1 440.6,110.1 C440.9,110.2 441.3,110.1 441.6,110.1 C441.9,110.2 442.4,110.3 442.6,110.4" stroke-width="1.4"/><path d="M439.6,109.8 C439.7,109.9 440.2,110.1 440.4,110.2 C440.7,110.3 441.0,110.5 441.3,110.6 C441.6,110.6 442.0,110.7 442.2,110.7" stroke-width="1.4"/><path d="M439.6,109.8 C439.7,110.0 440.1,110.4 440.4,110.7 C440.7,110.9 441.0,111.2 441.3,111.4 C441.7,111.6 442.2,111.9 442.4,112.0" stroke-width="1.4"/><path d="M412.0,112.0 C412.5,112.7 414.1,114.8 415.3,116.0 C416.5,117.2 418.1,117.9 419.2,119.2 C420.3,120.5 421.4,122.9 421.9,123.6" stroke-width="3.8"/><path d="M421.9,123.6 C422.4,123.8 423.8,124.3 424.8,124.4 C425.8,124.5 426.8,124.5 427.8,124.4 C428.8,124.3 430.3,123.8 430.8,123.7" stroke-width="2.7"/><path d="M430.8,123.7 C431.0,123.5 431.8,122.7 432.3,122.3 C432.9,121.9 433.5,121.5 434.1,121.3 C434.7,121.0 435.7,120.8 436.1,120.7" stroke-width="2.0"/><path d="M436.1,120.7 C436.3,120.7 436.8,120.7 437.2,120.6 C437.6,120.6 438.0,120.5 438.3,120.4 C438.7,120.3 439.1,119.9 439.3,119.8" stroke-width="1.4"/><path d="M436.1,120.7 C436.2,120.6 436.7,120.2 437.0,120.0 C437.3,119.8 437.6,119.7 438.0,119.5 C438.3,119.4 438.9,119.3 439.1,119.2" stroke-width="1.4"/><path d="M436.1,120.7 C436.2,120.5 436.6,120.1 436.8,119.7 C437.0,119.4 437.1,119.0 437.2,118.6 C437.3,118.2 437.4,117.6 437.5,117.4" stroke-width="1.4"/><path d="M430.8,123.7 C431.1,123.6 431.9,123.4 432.4,123.1 C432.9,122.9 433.4,122.5 433.9,122.2 C434.4,122.0 435.3,121.8 435.5,121.7" stroke-width="2.0"/><path d="M435.5,121.7 C435.7,121.6 436.3,121.5 436.6,121.3 C436.9,121.2 437.2,120.9 437.5,120.8 C437.9,120.6 438.4,120.5 438.6,120.5" stroke-width="1.4"/><path d="M435.5,121.7 C435.6,121.5 435.9,121.0 436.0,120.7 C436.2,120.3 436.4,120.0 436.6,119.7 C436.8,119.4 437.1,118.9 437.2,118.8" stroke-width="1.4"/><path d="M435.5,121.7 C435.7,121.7 436.2,121.9 436.6,122.0 C436.9,122.1 437.3,122.3 437.6,122.4 C437.9,122.6 438.4,122.8 438.6,122.9" stroke-width="1.4"/><path d="M430.8,123.7 C431.0,123.6 431.7,123.1 432.2,122.8 C432.7,122.6 433.2,122.3 433.7,122.1 C434.2,121.8 435.0,121.6 435.3,121.5" stroke-width="2.0"/><path d="M435.3,121.5 C435.4,121.3 435.8,121.0 436.0,120.7 C436.3,120.5 436.6,120.3 436.9,120.2 C437.2,120.0 437.6,119.7 437.8,119.6" stroke-width="1.4"/><path d="M435.3,121.5 C435.5,121.5 435.9,121.6 436.2,121.6 C436.5,121.7 436.9,121.7 437.2,121.7 C437.5,121.7 437.9,121.8 438.1,121.8" stroke-width="1.4"/><path d="M421.9,123.6 C422.1,124.0 423.0,125.1 423.6,125.9 C424.1,126.6 424.6,127.5 425.3,128.1 C426.0,128.8 427.1,129.6 427.5,129.9" stroke-width="2.7"/><path d="M427.5,129.9 C427.5,130.1 427.4,130.8 427.3,131.3 C427.3,131.8 427.3,132.3 427.2,132.8 C427.2,133.3 427.0,134.0 427.0,134.2" stroke-width="2.0"/><path d="M427.0,134.2 C427.0,134.4 427.0,134.8 427.0,135.1 C427.0,135.4 426.9,135.7 426.8,136.0 C426.8,136.3 426.8,136.8 426.8,136.9" stroke-width="1.4"/><path d="M427.0,134.2 C427.0,134.4 427.1,134.8 427.2,135.1 C427.3,135.4 427.5,135.6 427.6,135.9 C427.8,136.2 427.9,136.6 427.9,136.7" stroke-width="1.4"/><path d="M427.5,129.9 C427.6,130.1 428.0,130.9 428.2,131.4 C428.4,132.0 428.5,132.5 428.7,133.0 C428.9,133.6 429.4,134.3 429.5,134.5" stroke-width="2.0"/><path d="M429.5,134.5 C429.6,134.7 429.8,135.2 430.0,135.5 C430.2,135.8 430.5,136.0 430.8,136.3 C431.0,136.6 431.2,137.0 431.3,137.2" stroke-width="1.4"/><path d="M429.5,134.5 C429.5,134.7 429.6,135.3 429.5,135.7 C429.4,136.1 429.2,136.4 429.2,136.8 C429.2,137.2 429.2,137.8 429.3,138.0" stroke-width="1.4"/><path d="M427.5,129.9 C427.5,130.2 427.4,131.0 427.4,131.6 C427.4,132.2 427.4,132.7 427.5,133.3 C427.6,133.9 427.8,134.7 427.9,135.0" stroke-width="2.0"/><path d="M427.9,135.0 C427.9,135.1 428.0,135.6 428.1,136.0 C428.1,136.3 428.1,136.7 428.2,137.0 C428.3,137.3 428.5,137.8 428.6,137.9" stroke-width="1.4"/><path d="M427.9,135.0 C428.0,135.1 428.4,135.5 428.6,135.8 C428.9,136.0 429.2,136.2 429.6,136.3 C429.9,136.5 430.3,136.8 430.5,136.9" stroke-width="1.4"/><path d="M421.9,123.6 C422.3,123.8 423.7,124.3 424.5,124.8 C425.3,125.3 426.0,126.0 426.6,126.7 C427.3,127.4 428.1,128.6 428.4,128.9" stroke-width="2.7"/><path d="M428.4,128.9 C428.7,129.0 429.6,129.0 430.1,129.1 C430.7,129.2 431.3,129.2 431.9,129.3 C432.5,129.4 433.3,129.6 433.6,129.7" stroke-width="2.0"/><path d="M433.6,129.7 C433.8,129.5 434.2,129.2 434.5,129.0 C434.8,128.7 435.1,128.5 435.4,128.3 C435.7,128.0 436.3,127.8 436.4,127.7" stroke-width="1.4"/><path d="M433.6,129.7 C433.7,129.7 434.2,129.6 434.5,129.6 C434.8,129.6 435.0,129.7 435.3,129.8 C435.6,129.9 436.0,130.1 436.1,130.2" stroke-width="1.4"/><path d="M428.4,128.9 C428.5,129.2 428.8,130.2 428.9,130.8 C429.0,131.5 428.8,132.1 428.7,132.8 C428.7,133.4 428.6,134.4 428.5,134.7" stroke-width="2.0"/><path d="M428.5,134.7 C428.5,134.9 428.4,135.5 428.4,135.8 C428.4,136.2 428.6,136.6 428.7,136.9 C428.8,137.3 429.0,137.9 429.0,138.0" stroke-width="1.4"/><path d="M428.5,134.7 C428.5,134.9 428.3,135.4 428.2,135.8 C428.1,136.2 428.2,136.6 428.1,137.0 C428.1,137.4 428.0,138.0 427.9,138.2" stroke-width="1.4"/><path d="M428.5,134.7 C428.7,134.8 429.1,135.3 429.4,135.6 C429.7,135.8 430.1,136.1 430.4,136.3 C430.8,136.5 431.3,136.8 431.5,136.8" stroke-width="1.4"/><path d="M428.4,128.9 C428.3,129.2 427.9,130.0 427.7,130.5 C427.5,131.1 427.3,131.6 427.1,132.2 C426.8,132.7 426.4,133.4 426.2,133.7" stroke-width="2.0"/><path d="M426.2,133.7 C426.1,133.8 425.7,134.2 425.4,134.4 C425.1,134.6 424.9,134.9 424.6,135.1 C424.3,135.4 423.8,135.6 423.6,135.7" stroke-width="1.4"/><path d="M426.2,133.7 C426.2,133.9 426.1,134.4 426.0,134.7 C425.8,135.0 425.6,135.3 425.5,135.6 C425.3,135.9 425.0,136.3 424.9,136.4" stroke-width="1.4"/><path d="M426.2,133.7 C426.2,133.8 426.0,134.2 425.9,134.5 C425.7,134.8 425.6,135.0 425.4,135.3 C425.3,135.5 425.1,136.0 425.1,136.1" stroke-width="1.4"/><path d="M505.0,112.0 C505.2,110.8 506.4,107.2 506.4,104.8 C506.5,102.4 506.0,99.9 505.5,97.5 C505.1,95.1 504.1,91.6 503.8,90.4" stroke-width="3.8"/><path d="M503.8,90.4 C504.0,89.6 504.4,87.2 504.5,85.5 C504.7,83.9 504.7,82.3 504.9,80.6 C505.1,79.0 505.5,76.6 505.7,75.8" stroke-width="2.7"/><path d="M505.7,75.8 C505.7,75.2 505.7,73.5 505.9,72.4 C506.1,71.3 506.3,70.1 506.8,69.1 C507.2,68.1 508.3,66.7 508.6,66.3" stroke-width="2.0"/><path d="M508.6,66.3 C508.7,66.0 509.1,65.2 509.4,64.7 C509.7,64.3 510.2,63.9 510.6,63.5 C511.0,63.1 511.6,62.5 511.8,62.2" stroke-width="1.4"/><path d="M508.6,66.3 C508.6,65.9 508.9,65.0 508.9,64.4 C508.9,63.7 508.9,63.1 508.8,62.5 C508.7,61.8 508.5,60.9 508.4,60.6" stroke-width="1.4"/><path d="M505.7,75.8 C505.5,75.3 504.9,73.8 504.5,72.9 C504.0,72.0 503.5,71.1 502.9,70.3 C502.3,69.4 501.3,68.3 501.0,67.9" stroke-width="2.0"/><path d="M501.0,67.9 C500.8,67.6 500.4,66.8 500.0,66.3 C499.7,65.8 499.3,65.3 499.1,64.7 C498.8,64.2 498.7,63.2 498.6,62.9" stroke-width="1.4"/><path d="M501.0,67.9 C500.9,67.6 500.6,66.9 500.5,66.3 C500.3,65.8 500.1,65.3 499.9,64.8 C499.8,64.3 499.7,63.5 499.6,63.2" stroke-width="1.4"/><path d="M501.0,67.9 C500.8,67.6 500.1,66.8 499.7,66.2 C499.3,65.6 498.9,65.1 498.5,64.5 C498.1,63.9 497.7,63.0 497.5,62.7" stroke-width="1.4"/><path d="M505.7,75.8 C505.4,75.4 504.6,74.2 504.2,73.4 C503.7,72.5 503.3,71.7 502.8,70.9 C502.4,70.0 501.7,68.8 501.5,68.4" stroke-width="2.0"/><path d="M501.5,68.4 C501.4,68.1 501.2,67.3 501.0,66.8 C500.8,66.3 500.5,65.8 500.4,65.3 C500.3,64.8 500.3,64.0 500.3,63.7" stroke-width="1.4"/><path d="M501.5,68.4 C501.5,68.1 501.4,67.2 501.4,66.6 C501.4,66.0 501.4,65.4 501.5,64.8 C501.6,64.3 501.9,63.4 502.0,63.1" stroke-width="1.4"/><path d="M501.5,68.4 C501.4,68.1 501.0,67.3 500.9,66.7 C500.8,66.1 500.8,65.5 500.8,65.0 C500.8,64.4 500.8,63.5 500.8,63.2" stroke-width="1.4"/><path d="M503.8,90.4 C503.8,89.7 503.3,87.6 503.3,86.2 C503.3,84.9 503.5,83.5 503.7,82.1 C504.0,80.7 504.7,78.7 504.9,78.1" stroke-width="2.7"/><path d="M504.9,78.1 C505.0,77.7 505.3,76.7 505.5,75.9 C505.6,75.2 505.5,74.5 505.6,73.8 C505.7,73.0 506.0,72.0 506.0,71.6" stroke-width="2.0"/><path d="M506.0,71.6 C506.0,71.4 505.9,70.9 505.9,70.5 C505.9,70.1 506.0,69.8 506.0,69.4 C506.1,69.0 506.2,68.5 506.2,68.3" stroke-width="1.4"/><path d="M506.0,71.6 C506.0,71.4 505.7,70.9 505.5,70.5 C505.4,70.2 505.1,69.9 504.9,69.5 C504.8,69.2 504.5,68.7 504.5,68.5" stroke-width="1.4"/><path d="M504.9,78.1 C505.2,77.9 506.2,77.2 506.9,76.8 C507.6,76.4 508.4,76.0 509.1,75.6 C509.8,75.2 510.9,74.6 511.2,74.4" stroke-width="2.0"/><path d="M511.2,74.4 C511.4,74.3 512.1,73.8 512.5,73.4 C512.9,73.1 513.2,72.7 513.7,72.3 C514.1,72.0 514.8,71.6 515.0,71.4" stroke-width="1.4"/><path d="M511.2,74.4 C511.5,74.4 512.2,74.2 512.7,74.0 C513.2,73.8 513.6,73.5 514.1,73.2 C514.5,72.9 515.1,72.4 515.3,72.2" stroke-width="1.4"/><path d="M511.2,74.4 C511.4,74.4 512.0,74.2 512.5,74.2 C512.9,74.2 513.3,74.3 513.8,74.4 C514.2,74.4 514.8,74.5 515.0,74.6" stroke-width="1.4"/><path d="M503.8,90.4 C504.0,89.7 504.4,87.7 504.7,86.4 C504.9,85.0 504.9,83.6 505.3,82.3 C505.6,81.0 506.5,79.1 506.7,78.4" stroke-width="2.7"/><path d="M506.7,78.4 C506.8,78.0 507.1,76.7 507.3,75.9 C507.5,75.1 507.9,74.3 508.0,73.5 C508.2,72.6 508.1,71.3 508.1,70.9" stroke-width="2.0"/><path d="M508.1,70.9 C508.2,70.7 508.3,70.0 508.4,69.6 C508.5,69.1 508.7,68.7 508.8,68.2 C509.0,67.8 509.4,67.2 509.5,67.0" stroke-width="1.4"/><path d="M508.1,70.9 C508.2,70.6 508.3,69.8 508.4,69.2 C508.5,68.7 508.6,68.1 508.8,67.6 C508.9,67.1 509.2,66.3 509.3,66.0" stroke-width="1.4"/><path d="M506.7,78.4 C506.8,78.1 507.4,77.1 507.6,76.3 C507.7,75.6 507.7,74.8 507.7,74.1 C507.7,73.3 507.5,72.2 507.4,71.8" stroke-width="2.0"/><path d="M507.4,71.8 C507.3,71.6 506.9,71.0 506.6,70.6 C506.3,70.2 506.0,69.8 505.7,69.4 C505.4,69.0 504.9,68.5 504.7,68.4" stroke-width="1.4"/><path d="M507.4,71.8 C507.5,71.7 507.8,71.2 508.0,70.8 C508.2,70.5 508.6,70.2 508.7,69.9 C508.9,69.5 509.0,68.9 509.1,68.8" stroke-width="1.4"/><path d="M507.4,71.8 C507.3,71.6 507.1,71.0 506.9,70.7 C506.7,70.3 506.4,70.0 506.1,69.6 C505.8,69.3 505.5,68.7 505.4,68.5" stroke-width="1.4"/><path d="M506.7,78.4 C507.0,78.1 507.9,77.1 508.6,76.5 C509.2,76.0 510.1,75.6 510.8,75.0 C511.4,74.5 512.2,73.3 512.4,73.0" stroke-width="2.0"/><path d="M512.4,73.0 C512.7,73.0 513.6,73.2 514.1,73.4 C514.7,73.6 515.2,73.9 515.7,74.2 C516.1,74.6 516.6,75.3 516.8,75.5" stroke-width="1.4"/><path d="M512.4,73.0 C512.7,73.0 513.7,73.0 514.3,72.9 C514.9,72.9 515.4,72.6 516.1,72.5 C516.7,72.5 517.6,72.7 517.9,72.7" stroke-width="1.4"/><path d="M512.4,73.0 C512.6,72.8 513.2,72.4 513.6,72.2 C514.1,72.0 514.6,72.0 515.0,71.9 C515.5,71.7 516.0,71.2 516.2,71.1" stroke-width="1.4"/><path d="M505.0,112.0 C504.9,110.8 504.3,107.1 504.2,104.7 C504.1,102.3 504.1,99.8 504.3,97.4 C504.5,95.0 505.2,91.3 505.4,90.1" stroke-width="3.8"/><path d="M505.4,90.1 C506.1,89.6 508.0,88.2 509.3,87.2 C510.6,86.2 511.7,85.0 513.1,84.3 C514.5,83.5 516.9,82.9 517.6,82.7" stroke-width="2.7"/><path d="M517.6,82.7 C518.1,82.6 519.4,82.5 520.3,82.5 C521.2,82.4 522.2,82.2 523.1,82.2 C523.9,82.3 525.2,82.8 525.7,82.9" stroke-width="2.0"/><path d="M525.7,82.9 C525.9,83.1 526.6,83.7 527.1,84.1 C527.6,84.4 528.2,84.6 528.8,84.8 C529.4,85.0 530.3,85.3 530.6,85.3" stroke-width="1.4"/><path d="M525.7,82.9 C525.9,82.9 526.6,83.2 527.0,83.4 C527.5,83.6 527.9,83.9 528.3,84.1 C528.8,84.2 529.5,84.3 529.8,84.4" stroke-width="1.4"/><path d="M525.7,82.9 C525.8,83.1 526.2,83.8 526.4,84.3 C526.6,84.8 526.7,85.3 527.0,85.8 C527.3,86.2 527.8,86.8 528.0,87.0" stroke-width="1.4"/><path d="M517.6,82.7 C517.9,82.3 518.7,81.3 519.4,80.8 C520.0,80.2 520.8,79.8 521.5,79.3 C522.2,78.8 523.2,78.0 523.5,77.7" stroke-width="2.0"/><path d="M523.5,77.7 C523.7,77.5 524.1,76.9 524.3,76.5 C524.5,76.0 524.6,75.6 524.7,75.1 C524.9,74.6 525.0,73.9 525.1,73.7" stroke-width="1.4"/><path d="M523.5,77.7 C523.7,77.7 524.4,77.5 524.8,77.4 C525.3,77.3 525.7,77.1 526.1,76.9 C526.5,76.7 526.9,76.2 527.1,76.0" stroke-width="1.4"/><path d="M505.4,90.1 C505.8,89.5 506.9,87.6 507.4,86.3 C507.9,85.0 508.3,83.5 508.5,82.1 C508.6,80.7 508.3,78.5 508.3,77.8" stroke-width="2.7"/><path d="M508.3,77.8 C508.5,77.5 509.2,76.4 509.7,75.8 C510.2,75.1 510.7,74.4 511.2,73.8 C511.7,73.1 512.6,72.3 512.9,72.0" stroke-width="2.0"/><path d="M512.9,72.0 C513.1,71.9 513.7,71.7 514.1,71.5 C514.6,71.4 515.0,71.4 515.4,71.3 C515.9,71.2 516.5,70.9 516.7,70.8" stroke-width="1.4"/><path d="M512.9,72.0 C512.9,71.7 513.0,70.9 513.0,70.4 C513.0,69.8 512.9,69.3 512.8,68.8 C512.8,68.2 512.9,67.4 513.0,67.2" stroke-width="1.4"/><path d="M508.3,77.8 C508.2,77.4 507.9,76.0 507.8,75.0 C507.6,74.1 507.7,73.2 507.5,72.2 C507.3,71.3 506.9,70.0 506.7,69.5" stroke-width="2.0"/><path d="M506.7,69.5 C506.8,69.2 507.2,68.4 507.3,67.8 C507.5,67.2 507.7,66.6 507.7,66.0 C507.8,65.4 507.7,64.5 507.7,64.2" stroke-width="1.4"/><path d="M506.7,69.5 C506.8,69.2 506.9,68.4 506.9,67.8 C506.9,67.3 506.7,66.7 506.7,66.1 C506.7,65.6 507.0,64.8 507.0,64.5" stroke-width="1.4"/><path d="M508.3,77.8 C508.2,77.4 507.7,76.2 507.5,75.4 C507.3,74.6 507.1,73.7 507.1,72.9 C507.0,72.0 507.2,70.7 507.2,70.3" stroke-width="2.0"/><path d="M507.2,70.3 C507.1,70.1 507.0,69.3 507.0,68.8 C506.9,68.3 506.8,67.8 506.7,67.3 C506.6,66.8 506.3,66.1 506.3,65.8" stroke-width="1.4"/><path d="M507.2,70.3 C507.4,70.1 507.9,69.6 508.3,69.2 C508.7,68.8 509.0,68.4 509.4,68.0 C509.7,67.6 510.3,67.1 510.5,66.9" stroke-width="1.4"/><path d="M507.2,70.3 C507.4,70.2 507.9,69.7 508.3,69.4 C508.6,69.1 509.0,68.8 509.3,68.4 C509.6,68.1 509.9,67.5 510.0,67.3" stroke-width="1.4"/><path d="M505.0,112.0 C505.7,111.0 507.9,108.1 509.4,106.2 C510.9,104.2 512.5,102.3 514.0,100.5 C515.6,98.6 518.0,95.8 518.8,94.9" stroke-width="3.8"/><path d="M518.8,94.9 C519.0,94.3 519.7,92.3 520.0,91.0 C520.4,89.7 520.6,88.4 520.8,87.1 C521.0,85.7 521.2,83.7 521.2,83.0" stroke-width="2.7"/><path d="M521.2,83.0 C521.0,82.7 520.4,81.9 520.0,81.4 C519.6,80.8 519.3,80.2 518.9,79.6 C518.6,79.0 518.1,78.1 518.0,77.8" stroke-width="2.0"/><path d="M518.0,77.8 C518.0,77.6 518.0,77.1 518.0,76.7 C517.9,76.4 517.8,76.1 517.7,75.7 C517.7,75.4 517.8,74.8 517.8,74.7" stroke-width="1.4"/><path d="M518.0,77.8 C517.9,77.6 517.5,77.2 517.3,76.9 C517.1,76.6 516.8,76.3 516.6,76.1 C516.3,75.9 515.8,75.6 515.6,75.6" stroke-width="1.4"/><path d="M518.0,77.8 C517.8,77.7 517.4,77.4 517.1,77.2 C516.8,77.0 516.5,76.7 516.2,76.5 C515.9,76.4 515.4,76.2 515.2,76.1" stroke-width="1.4"/><path d="M521.2,83.0 C521.4,82.7 521.9,81.6 522.1,80.9 C522.3,80.1 522.3,79.3 522.5,78.5 C522.7,77.8 523.4,76.8 523.6,76.4" stroke-width="2.0"/><path d="M523.6,76.4 C523.5,76.2 523.5,75.6 523.4,75.3 C523.3,74.9 523.1,74.5 522.9,74.2 C522.7,73.9 522.2,73.5 522.1,73.3" stroke-width="1.4"/><path d="M523.6,76.4 C523.8,76.3 524.4,75.9 524.8,75.5 C525.1,75.2 525.4,74.7 525.7,74.4 C526.1,74.0 526.7,73.6 526.9,73.4" stroke-width="1.4"/><path d="M523.6,76.4 C523.7,76.3 524.3,75.7 524.6,75.3 C524.9,74.9 525.2,74.4 525.5,74.0 C525.9,73.7 526.5,73.1 526.7,73.0" stroke-width="1.4"/><path d="M521.2,83.0 C521.3,82.6 521.2,81.4 521.3,80.5 C521.4,79.7 521.6,78.9 521.7,78.1 C521.7,77.2 521.6,76.0 521.6,75.6" stroke-width="2.0"/><path d="M521.6,75.6 C521.8,75.4 522.2,74.8 522.4,74.3 C522.7,73.9 522.7,73.4 523.0,72.9 C523.2,72.5 523.8,72.0 523.9,71.8" stroke-width="1.4"/><path d="M521.6,75.6 C521.6,75.4 521.5,74.7 521.5,74.2 C521.5,73.8 521.7,73.3 521.8,72.9 C521.9,72.5 522.0,71.8 522.1,71.6" stroke-width="1.4"/><path d="M521.6,75.6 C521.7,75.4 521.9,74.8 522.0,74.4 C522.1,73.9 522.1,73.5 522.2,73.1 C522.2,72.7 522.2,72.0 522.2,71.8" stroke-width="1.4"/><path d="M518.8,94.9 C519.2,94.3 519.9,92.4 520.8,91.3 C521.6,90.3 522.8,89.5 523.7,88.5 C524.6,87.5 525.6,85.8 526.0,85.2" stroke-width="2.7"/><path d="M526.0,85.2 C526.3,84.9 527.2,84.2 527.8,83.6 C528.3,83.0 528.6,82.3 529.1,81.6 C529.5,81.0 530.3,80.1 530.6,79.8" stroke-width="2.0"/><path d="M530.6,79.8 C530.8,79.7 531.4,79.3 531.7,79.1 C532.0,78.8 532.3,78.4 532.7,78.1 C533.0,77.8 533.5,77.3 533.7,77.2" stroke-width="1.4"/><path d="M530.6,79.8 C530.6,79.6 530.9,78.9 531.0,78.4 C531.0,77.9 531.0,77.4 531.0,77.0 C531.1,76.5 531.5,75.8 531.5,75.6" stroke-width="1.4"/><path d="M530.6,79.8 C530.8,79.9 531.4,79.9 531.8,79.9 C532.2,80.0 532.6,80.1 533.1,80.1 C533.5,80.2 534.1,80.2 534.3,80.2" stroke-width="1.4"/><path d="M526.0,85.2 C526.4,85.1 527.7,84.5 528.5,84.3 C529.3,84.0 530.3,84.0 531.1,83.7 C531.9,83.4 533.0,82.7 533.4,82.5" stroke-width="2.0"/><path d="M533.4,82.5 C533.7,82.5 534.6,82.7 535.2,82.6 C535.8,82.6 536.4,82.4 537.0,82.2 C537.6,82.0 538.4,81.6 538.6,81.4" stroke-width="1.4"/><path d="M533.4,82.5 C533.7,82.4 534.4,82.2 534.9,82.0 C535.3,81.8 535.8,81.6 536.2,81.3 C536.6,81.0 537.0,80.3 537.2,80.1" stroke-width="1.4"/><path d="M533.4,82.5 C533.6,82.3 534.3,81.9 534.6,81.5 C535.0,81.2 535.4,80.8 535.7,80.4 C536.0,80.0 536.3,79.3 536.4,79.0" stroke-width="1.4"/><path d="M526.0,85.2 C526.1,84.8 526.4,83.4 526.4,82.5 C526.5,81.6 526.4,80.7 526.3,79.8 C526.3,78.9 526.2,77.5 526.2,77.1" stroke-width="2.0"/><path d="M526.2,77.1 C526.3,76.8 526.9,76.1 527.3,75.7 C527.7,75.3 528.2,75.0 528.7,74.7 C529.1,74.3 529.8,73.8 530.1,73.6" stroke-width="1.4"/><path d="M526.2,77.1 C526.0,76.8 525.4,76.2 525.1,75.7 C524.8,75.3 524.6,74.7 524.4,74.2 C524.2,73.7 523.9,72.8 523.8,72.6" stroke-width="1.4"/><path d="M526.2,77.1 C526.0,76.8 525.6,76.1 525.4,75.5 C525.1,75.0 525.0,74.4 524.8,73.9 C524.6,73.3 524.2,72.6 524.0,72.3" stroke-width="1.4"/><path d="M518.8,94.9 C519.3,94.3 520.9,92.6 521.8,91.4 C522.8,90.2 523.8,89.0 524.5,87.7 C525.2,86.3 525.8,84.1 526.1,83.4" stroke-width="2.7"/><path d="M526.1,83.4 C525.9,83.0 525.4,81.9 525.2,81.1 C524.9,80.3 525.0,79.5 524.7,78.7 C524.5,77.9 523.9,76.8 523.8,76.5" stroke-width="2.0"/><path d="M523.8,76.5 C523.7,76.2 523.6,75.5 523.6,75.0 C523.6,74.5 523.7,74.1 523.6,73.6 C523.6,73.1 523.6,72.4 523.5,72.1" stroke-width="1.4"/><path d="M523.8,76.5 C523.7,76.2 523.6,75.4 523.5,74.9 C523.4,74.4 523.2,73.9 523.2,73.4 C523.1,72.9 523.2,72.1 523.2,71.8" stroke-width="1.4"/><path d="M523.8,76.5 C523.7,76.2 523.3,75.5 523.2,75.0 C523.1,74.5 523.0,73.9 523.0,73.4 C522.9,72.9 523.1,72.1 523.1,71.8" stroke-width="1.4"/><path d="M526.1,83.4 C526.5,83.1 527.6,82.3 528.5,82.0 C529.3,81.6 530.2,81.5 531.1,81.2 C532.0,81.0 533.3,80.6 533.7,80.5" stroke-width="2.0"/><path d="M533.7,80.5 C534.0,80.5 534.8,80.5 535.3,80.4 C535.8,80.3 536.3,80.2 536.8,79.9 C537.2,79.7 537.9,79.3 538.1,79.2" stroke-width="1.4"/><path d="M533.7,80.5 C534.0,80.3 534.7,79.7 535.2,79.5 C535.7,79.2 536.3,79.1 536.9,78.9 C537.4,78.6 538.2,78.1 538.4,77.9" stroke-width="1.4"/><path d="M533.7,80.5 C534.0,80.3 534.9,79.9 535.3,79.5 C535.8,79.1 536.1,78.5 536.5,78.0 C537.0,77.6 537.7,77.0 537.9,76.7" stroke-width="1.4"/><path d="M526.1,83.4 C526.0,82.9 525.8,81.7 525.7,80.8 C525.6,80.0 525.6,79.1 525.6,78.3 C525.7,77.5 525.8,76.2 525.8,75.8" stroke-width="2.0"/><path d="M525.8,75.8 C525.9,75.6 526.0,74.9 526.1,74.5 C526.2,74.1 526.4,73.7 526.5,73.2 C526.6,72.8 526.8,72.2 526.9,72.0" stroke-width="1.4"/><path d="M525.8,75.8 C525.9,75.5 526.1,74.7 526.1,74.1 C526.1,73.5 526.0,73.0 525.8,72.4 C525.7,71.9 525.4,71.1 525.4,70.8" stroke-width="1.4"/><path d="M525.8,75.8 C526.0,75.6 526.5,75.0 526.9,74.7 C527.2,74.3 527.6,74.0 528.0,73.6 C528.3,73.2 528.7,72.6 528.9,72.4" stroke-width="1.4"/><path d="M505.0,112.0 C506.1,112.3 509.3,113.0 511.4,113.6 C513.5,114.2 515.6,115.0 517.7,115.5 C519.9,115.9 523.2,116.2 524.3,116.4" stroke-width="3.8"/><path d="M524.3,116.4 C524.7,116.9 526.0,118.4 527.0,119.3 C528.0,120.2 529.1,121.0 530.3,121.6 C531.5,122.2 533.5,122.6 534.1,122.8" stroke-width="2.7"/><path d="M534.1,122.8 C534.2,123.2 534.5,124.2 534.6,124.8 C534.7,125.5 534.4,126.2 534.5,126.9 C534.6,127.5 535.0,128.5 535.0,128.8" stroke-width="2.0"/><path d="M535.0,128.8 C535.2,129.0 535.6,129.5 535.9,129.8 C536.3,130.0 536.7,130.2 537.1,130.4 C537.4,130.5 538.1,130.8 538.2,130.8" stroke-width="1.4"/><path d="M535.0,128.8 C534.9,129.0 534.6,129.5 534.4,129.7 C534.1,130.0 533.8,130.1 533.5,130.3 C533.3,130.6 533.0,131.1 532.9,131.2" stroke-width="1.4"/><path d="M535.0,128.8 C535.2,128.9 535.7,129.3 536.0,129.5 C536.3,129.6 536.7,129.8 537.1,129.9 C537.4,130.0 538.0,129.9 538.2,130.0" stroke-width="1.4"/><path d="M534.1,122.8 C534.3,123.1 535.1,123.8 535.5,124.3 C535.9,124.9 536.2,125.5 536.4,126.1 C536.6,126.8 536.7,127.8 536.8,128.1" stroke-width="2.0"/><path d="M536.8,128.1 C536.9,128.3 537.4,128.8 537.7,129.2 C537.9,129.6 538.1,130.0 538.3,130.4 C538.5,130.8 538.9,131.5 539.0,131.7" stroke-width="1.4"/><path d="M536.8,128.1 C536.9,128.3 537.1,128.9 537.2,129.3 C537.3,129.7 537.4,130.1 537.4,130.5 C537.4,130.9 537.3,131.5 537.3,131.7" stroke-width="1.4"/><path d="M524.3,116.4 C524.8,116.2 526.4,115.6 527.5,115.2 C528.5,114.9 529.7,114.6 530.7,114.2 C531.7,113.7 533.2,112.8 533.7,112.6" stroke-width="2.7"/><path d="M533.7,112.6 C533.8,112.3 534.4,111.7 534.7,111.2 C534.9,110.7 534.9,110.0 535.2,109.5 C535.4,109.0 536.0,108.3 536.2,108.1" stroke-width="2.0"/><path d="M536.2,108.1 C536.3,108.0 536.8,107.8 537.1,107.7 C537.4,107.5 537.8,107.4 538.1,107.2 C538.4,107.0 538.7,106.6 538.8,106.5" stroke-width="1.4"/><path d="M536.2,108.1 C536.3,108.0 536.7,107.8 536.9,107.6 C537.2,107.5 537.5,107.3 537.7,107.1 C538.0,107.0 538.3,106.6 538.4,106.5" stroke-width="1.4"/><path d="M533.7,112.6 C533.8,112.3 534.3,111.3 534.7,110.7 C535.1,110.2 535.5,109.6 535.9,109.1 C536.4,108.5 537.0,107.7 537.2,107.4" stroke-width="2.0"/><path d="M537.2,107.4 C537.3,107.2 537.7,106.7 538.0,106.3 C538.2,105.9 538.5,105.5 538.6,105.0 C538.7,104.6 538.8,103.9 538.8,103.6" stroke-width="1.4"/><path d="M537.2,107.4 C537.2,107.2 537.4,106.5 537.5,106.0 C537.7,105.6 537.8,105.1 538.0,104.7 C538.1,104.2 538.4,103.6 538.5,103.4" stroke-width="1.4"/><path d="M524.3,116.4 C524.9,116.0 527.0,114.8 528.3,114.0 C529.6,113.2 530.7,112.1 532.1,111.4 C533.5,110.8 535.8,110.3 536.5,110.1" stroke-width="2.7"/><path d="M536.5,110.1 C537.0,110.0 538.4,109.9 539.3,109.6 C540.2,109.4 541.1,109.1 542.0,108.6 C542.8,108.2 544.0,107.3 544.4,107.1" stroke-width="2.0"/><path d="M544.4,107.1 C544.6,107.1 545.4,107.2 545.9,107.2 C546.5,107.2 547.0,107.3 547.5,107.3 C548.0,107.3 548.8,107.2 549.0,107.2" stroke-width="1.4"/><path d="M544.4,107.1 C544.6,107.1 545.4,107.1 545.9,106.9 C546.4,106.8 546.8,106.5 547.2,106.3 C547.7,106.0 548.3,105.6 548.5,105.5" stroke-width="1.4"/><path d="M536.5,110.1 C536.7,109.6 537.0,108.3 537.5,107.5 C538.0,106.7 538.8,106.1 539.3,105.4 C539.9,104.6 540.4,103.3 540.7,102.9" stroke-width="2.0"/><path d="M540.7,102.9 C540.8,102.7 541.2,102.1 541.5,101.6 C541.7,101.1 541.9,100.6 542.2,100.2 C542.4,99.7 542.8,99.0 543.0,98.8" stroke-width="1.4"/><path d="M540.7,102.9 C540.9,102.9 541.8,102.7 542.4,102.5 C542.9,102.3 543.4,102.1 543.9,101.8 C544.4,101.5 545.1,100.9 545.4,100.8" stroke-width="1.4"/><path d="M540.7,102.9 C540.8,102.7 541.2,102.0 541.6,101.6 C541.9,101.1 542.2,100.7 542.6,100.2 C542.9,99.8 543.5,99.2 543.7,99.0" stroke-width="1.4"/><path d="M536.5,110.1 C536.9,110.0 538.2,109.9 539.1,109.8 C539.9,109.7 540.7,109.5 541.6,109.4 C542.4,109.3 543.7,109.4 544.2,109.4" stroke-width="2.0"/><path d="M544.2,109.4 C544.4,109.4 545.1,109.1 545.5,108.9 C546.0,108.7 546.4,108.5 546.8,108.2 C547.1,107.9 547.6,107.3 547.8,107.1" stroke-width="1.4"/><path d="M544.2,109.4 C544.4,109.4 545.3,109.2 545.8,109.1 C546.4,109.1 546.9,109.2 547.5,109.2 C548.0,109.2 548.9,109.2 549.1,109.2" stroke-width="1.4"/><path d="M505.0,112.0 C505.8,112.8 508.1,115.2 509.8,116.6 C511.5,117.9 513.5,119.0 515.2,120.3 C516.9,121.7 519.4,123.9 520.2,124.6" stroke-width="3.8"/><path d="M520.2,124.6 C520.4,125.1 521.2,126.6 521.5,127.7 C521.9,128.7 522.3,129.8 522.4,130.9 C522.4,132.0 522.1,133.6 522.0,134.2" stroke-width="2.7"/><path d="M522.0,134.2 C521.8,134.4 521.0,135.1 520.5,135.5 C520.0,136.0 519.6,136.5 519.2,137.1 C518.7,137.6 518.2,138.5 518.0,138.8" stroke-width="2.0"/><path d="M518.0,138.8 C517.8,138.9 517.3,139.3 517.0,139.7 C516.7,140.0 516.4,140.4 516.1,140.7 C515.8,141.0 515.3,141.5 515.2,141.6" stroke-width="1.4"/><path d="M518.0,138.8 C517.9,138.9 517.5,139.2 517.2,139.4 C517.0,139.7 516.9,140.0 516.7,140.3 C516.5,140.6 516.2,141.0 516.2,141.2" stroke-width="1.4"/><path d="M518.0,138.8 C517.9,139.0 517.6,139.5 517.3,139.9 C517.0,140.3 516.7,140.6 516.5,140.9 C516.2,141.3 515.8,141.9 515.7,142.1" stroke-width="1.4"/><path d="M522.0,134.2 C522.3,134.4 523.1,135.0 523.6,135.5 C524.1,136.0 524.3,136.7 524.8,137.2 C525.2,137.7 526.0,138.4 526.3,138.6" stroke-width="2.0"/><path d="M526.3,138.6 C526.5,138.6 527.2,138.7 527.6,138.6 C528.0,138.5 528.4,138.3 528.8,138.1 C529.1,137.9 529.6,137.4 529.7,137.3" stroke-width="1.4"/><path d="M526.3,138.6 C526.3,138.8 526.2,139.3 526.1,139.7 C526.1,140.0 526.0,140.4 525.9,140.7 C525.9,141.1 525.9,141.6 525.9,141.8" stroke-width="1.4"/><path d="M526.3,138.6 C526.5,138.7 527.2,138.9 527.7,139.0 C528.1,139.2 528.6,139.3 529.0,139.5 C529.5,139.7 530.1,140.0 530.3,140.1" stroke-width="1.4"/><path d="M522.0,134.2 C521.9,134.4 521.5,135.3 521.3,135.8 C521.0,136.4 520.8,136.9 520.5,137.5 C520.3,138.0 520.0,138.9 519.8,139.1" stroke-width="2.0"/><path d="M519.8,139.1 C519.9,139.3 519.9,140.0 519.9,140.4 C520.0,140.8 520.1,141.2 520.1,141.6 C520.1,142.0 520.0,142.6 520.0,142.8" stroke-width="1.4"/><path d="M519.8,139.1 C519.9,139.3 520.1,139.8 520.3,140.2 C520.4,140.5 520.6,140.8 520.7,141.2 C520.9,141.5 521.1,142.1 521.1,142.2" stroke-width="1.4"/><path d="M519.8,139.1 C519.8,139.3 519.6,139.7 519.4,140.0 C519.3,140.3 519.1,140.6 519.0,140.9 C518.8,141.3 518.7,141.7 518.6,141.9" stroke-width="1.4"/><path d="M520.2,124.6 C520.1,125.4 519.7,127.6 519.8,129.0 C519.8,130.4 520.3,131.8 520.8,133.2 C521.2,134.6 522.2,136.6 522.5,137.2" stroke-width="2.7"/><path d="M522.5,137.2 C522.9,137.5 524.1,138.2 525.0,138.7 C525.8,139.2 526.7,139.6 527.5,140.1 C528.3,140.7 529.3,141.7 529.7,142.0" stroke-width="2.0"/><path d="M529.7,142.0 C529.8,142.3 530.3,143.1 530.6,143.7 C530.9,144.3 531.1,144.9 531.5,145.4 C531.8,146.0 532.3,146.8 532.4,147.1" stroke-width="1.4"/><path d="M529.7,142.0 C529.9,142.2 530.6,142.7 531.0,143.1 C531.5,143.4 531.9,143.8 532.3,144.2 C532.8,144.5 533.4,145.1 533.7,145.3" stroke-width="1.4"/><path d="M522.5,137.2 C522.6,137.6 522.8,138.9 523.1,139.7 C523.3,140.5 523.6,141.3 524.0,142.0 C524.3,142.7 525.1,143.7 525.3,144.1" stroke-width="2.0"/><path d="M525.3,144.1 C525.5,144.3 525.7,144.9 526.0,145.2 C526.3,145.6 526.7,145.8 527.0,146.1 C527.3,146.5 527.6,147.0 527.8,147.2" stroke-width="1.4"/><path d="M525.3,144.1 C525.5,144.2 526.0,144.7 526.2,145.0 C526.5,145.3 526.7,145.7 527.0,146.0 C527.2,146.3 527.7,146.8 527.8,147.0" stroke-width="1.4"/><path d="M505.0,112.0 C504.5,112.8 503.0,115.4 502.1,117.1 C501.1,118.8 500.2,120.6 499.1,122.1 C498.0,123.7 495.9,125.8 495.2,126.5" stroke-width="3.8"/><path d="M495.2,126.5 C495.3,127.1 495.6,128.6 495.6,129.7 C495.6,130.7 495.5,131.8 495.3,132.8 C495.1,133.9 494.6,135.3 494.5,135.9" stroke-width="2.7"/><path d="M494.5,135.9 C494.4,136.1 494.4,137.0 494.3,137.6 C494.1,138.1 493.9,138.7 493.6,139.2 C493.4,139.7 492.9,140.4 492.7,140.7" stroke-width="2.0"/><path d="M492.7,140.7 C492.7,140.9 492.5,141.4 492.5,141.8 C492.4,142.2 492.3,142.6 492.2,143.0 C492.2,143.4 492.3,143.9 492.3,144.1" stroke-width="1.4"/><path d="M492.7,140.7 C492.7,140.8 492.7,141.3 492.7,141.6 C492.7,141.9 492.7,142.2 492.6,142.5 C492.6,142.7 492.4,143.2 492.4,143.3" stroke-width="1.4"/><path d="M494.5,135.9 C494.5,136.2 494.6,137.1 494.6,137.7 C494.6,138.3 494.4,138.9 494.4,139.5 C494.4,140.1 494.5,141.1 494.5,141.4" stroke-width="2.0"/><path d="M494.5,141.4 C494.5,141.5 494.6,142.0 494.5,142.3 C494.5,142.7 494.4,143.0 494.4,143.3 C494.3,143.6 494.3,144.1 494.3,144.3" stroke-width="1.4"/><path d="M494.5,141.4 C494.7,141.4 495.1,141.7 495.4,141.8 C495.7,142.0 496.0,142.1 496.4,142.1 C496.7,142.1 497.2,142.0 497.4,142.0" stroke-width="1.4"/><path d="M494.5,135.9 C494.4,136.2 494.3,137.0 494.3,137.6 C494.3,138.2 494.4,138.8 494.3,139.4 C494.2,140.0 494.0,140.9 493.9,141.2" stroke-width="2.0"/><path d="M493.9,141.2 C493.8,141.3 493.6,141.8 493.5,142.2 C493.3,142.5 493.2,142.9 493.1,143.2 C493.0,143.6 492.9,144.1 492.9,144.3" stroke-width="1.4"/><path d="M493.9,141.2 C493.9,141.3 494.2,141.9 494.2,142.3 C494.2,142.7 494.1,143.0 494.1,143.4 C494.1,143.8 494.3,144.4 494.3,144.6" stroke-width="1.4"/><path d="M493.9,141.2 C494.0,141.3 494.2,141.7 494.3,142.0 C494.5,142.3 494.8,142.5 495.0,142.7 C495.2,142.9 495.7,143.2 495.8,143.3" stroke-width="1.4"/><path d="M495.2,126.5 C494.6,126.7 492.7,127.4 491.4,127.7 C490.2,128.1 488.9,128.5 487.6,128.7 C486.3,128.9 484.3,129.1 483.7,129.1" stroke-width="2.7"/><path d="M483.7,129.1 C483.3,129.0 482.3,128.6 481.6,128.4 C480.9,128.1 480.1,128.2 479.4,127.9 C478.7,127.7 477.8,126.9 477.5,126.8" stroke-width="2.0"/><path d="M477.5,126.8 C477.3,126.6 476.8,126.0 476.5,125.7 C476.1,125.3 475.6,125.1 475.3,124.8 C474.9,124.4 474.6,123.7 474.4,123.5" stroke-width="1.4"/><path d="M477.5,126.8 C477.2,126.7 476.4,126.7 475.9,126.6 C475.4,126.6 474.9,126.4 474.4,126.3 C473.9,126.3 473.1,126.2 472.9,126.1" stroke-width="1.4"/><path d="M483.7,129.1 C483.3,129.1 482.3,128.9 481.6,128.7 C480.9,128.5 480.3,128.1 479.6,127.9 C479.0,127.7 477.9,127.7 477.5,127.7" stroke-width="2.0"/><path d="M477.5,127.7 C477.4,127.7 476.8,127.7 476.4,127.8 C476.1,127.9 475.7,128.2 475.4,128.3 C475.0,128.4 474.5,128.4 474.3,128.5" stroke-width="1.4"/><path d="M477.5,127.7 C477.3,127.8 476.7,128.0 476.3,128.2 C475.9,128.4 475.5,128.7 475.1,128.9 C474.7,129.2 474.2,129.6 474.0,129.7" stroke-width="1.4"/><path d="M505.0,112.0 C504.3,112.6 501.8,114.4 500.5,115.8 C499.3,117.3 498.5,119.2 497.2,120.6 C496.0,122.1 493.7,124.0 493.0,124.7" stroke-width="3.8"/><path d="M493.0,124.7 C492.5,125.1 491.2,126.5 490.2,127.1 C489.2,127.8 487.9,128.0 486.8,128.5 C485.7,129.0 484.1,130.0 483.5,130.3" stroke-width="2.7"/><path d="M483.5,130.3 C483.2,130.1 482.1,129.3 481.3,129.1 C480.5,128.8 479.6,128.9 478.8,128.7 C478.0,128.5 476.8,128.0 476.4,127.9" stroke-width="2.0"/><path d="M476.4,127.9 C476.1,128.0 475.4,128.4 475.0,128.8 C474.6,129.1 474.3,129.5 473.9,130.0 C473.6,130.4 473.1,131.0 473.0,131.2" stroke-width="1.4"/><path d="M476.4,127.9 C476.2,127.7 476.0,127.0 475.7,126.6 C475.4,126.2 475.0,125.9 474.6,125.6 C474.2,125.4 473.5,125.1 473.3,125.0" stroke-width="1.4"/><path d="M483.5,130.3 C483.2,130.3 482.3,130.2 481.6,130.2 C481.0,130.3 480.4,130.4 479.8,130.6 C479.2,130.9 478.4,131.5 478.2,131.6" stroke-width="2.0"/><path d="M478.2,131.6 C478.0,131.7 477.5,132.0 477.2,132.2 C476.9,132.4 476.7,132.7 476.5,133.1 C476.3,133.4 476.1,133.9 476.1,134.1" stroke-width="1.4"/><path d="M478.2,131.6 C478.0,131.6 477.3,131.6 477.0,131.4 C476.6,131.3 476.2,131.0 475.9,130.8 C475.5,130.6 475.1,130.2 474.9,130.1" stroke-width="1.4"/><path d="M493.0,124.7 C492.4,125.0 490.9,125.8 489.8,126.3 C488.7,126.7 487.5,126.8 486.5,127.3 C485.4,127.8 484.0,128.9 483.5,129.2" stroke-width="2.7"/><path d="M483.5,129.2 C483.1,129.1 482.0,128.8 481.2,128.6 C480.4,128.5 479.6,128.6 478.8,128.5 C478.0,128.3 476.9,127.8 476.5,127.7" stroke-width="2.0"/><path d="M476.5,127.7 C476.4,127.5 476.1,126.8 475.7,126.4 C475.4,126.0 474.9,125.7 474.6,125.3 C474.2,124.9 473.9,124.1 473.8,123.9" stroke-width="1.4"/><path d="M476.5,127.7 C476.4,127.6 475.8,127.3 475.4,127.1 C475.0,126.9 474.6,126.7 474.2,126.5 C473.8,126.3 473.3,126.0 473.1,125.9" stroke-width="1.4"/><path d="M476.5,127.7 C476.4,127.6 475.9,127.1 475.5,126.7 C475.2,126.4 474.8,126.0 474.5,125.7 C474.2,125.4 473.7,124.8 473.5,124.7" stroke-width="1.4"/><path d="M483.5,129.2 C483.3,129.5 482.6,130.4 482.3,131.0 C482.0,131.7 481.8,132.4 481.7,133.1 C481.6,133.8 481.7,134.9 481.7,135.3" stroke-width="2.0"/><path d="M481.7,135.3 C481.7,135.5 482.0,136.2 482.1,136.6 C482.2,137.0 482.2,137.5 482.2,138.0 C482.2,138.4 482.1,139.1 482.1,139.3" stroke-width="1.4"/><path d="M481.7,135.3 C481.5,135.4 481.0,135.9 480.7,136.2 C480.4,136.6 480.2,137.0 480.0,137.4 C479.7,137.7 479.4,138.3 479.3,138.5" stroke-width="1.4"/><path d="M483.5,129.2 C483.2,129.5 482.2,130.2 481.5,130.6 C480.9,131.1 480.2,131.5 479.5,131.9 C478.8,132.3 477.7,132.7 477.3,132.9" stroke-width="2.0"/><path d="M477.3,132.9 C477.1,133.1 476.7,133.8 476.4,134.1 C476.0,134.5 475.6,134.7 475.2,135.0 C474.7,135.3 474.1,135.8 473.9,135.9" stroke-width="1.4"/><path d="M477.3,132.9 C477.1,133.1 476.7,133.7 476.4,134.1 C476.1,134.5 475.8,134.9 475.5,135.3 C475.2,135.7 474.7,136.3 474.5,136.5" stroke-width="1.4"/><path d="M505.0,112.0 C504.0,112.0 501.0,112.1 499.1,111.7 C497.3,111.3 495.6,110.0 493.7,109.4 C491.9,108.9 488.9,108.6 487.9,108.5" stroke-width="3.8"/><path d="M487.9,108.5 C487.4,108.2 486.0,107.4 485.0,107.0 C483.9,106.6 482.8,106.3 481.7,106.2 C480.6,106.1 478.9,106.3 478.4,106.3" stroke-width="2.7"/><path d="M478.4,106.3 C478.1,106.6 477.3,107.3 476.9,107.9 C476.5,108.5 476.3,109.2 476.0,109.9 C475.7,110.6 475.4,111.6 475.2,112.0" stroke-width="2.0"/><path d="M475.2,112.0 C475.1,112.1 474.8,112.6 474.6,113.0 C474.5,113.3 474.5,113.7 474.4,114.1 C474.3,114.5 474.1,115.0 474.0,115.2" stroke-width="1.4"/><path d="M475.2,112.0 C475.3,112.1 475.5,112.7 475.6,113.0 C475.8,113.3 476.1,113.6 476.3,113.9 C476.4,114.2 476.6,114.7 476.6,114.9" stroke-width="1.4"/><path d="M475.2,112.0 C475.2,112.1 474.9,112.7 474.8,113.1 C474.7,113.4 474.6,113.8 474.4,114.2 C474.3,114.5 474.0,115.1 473.9,115.2" stroke-width="1.4"/><path d="M478.4,106.3 C478.1,106.3 477.3,106.5 476.7,106.5 C476.1,106.5 475.6,106.6 475.0,106.5 C474.5,106.5 473.6,106.3 473.4,106.2" stroke-width="2.0"/><path d="M473.4,106.2 C473.2,106.1 472.9,105.7 472.7,105.3 C472.5,105.0 472.5,104.7 472.3,104.3 C472.2,104.0 471.9,103.6 471.8,103.4" stroke-width="1.4"/><path d="M473.4,106.2 C473.2,106.2 472.7,106.0 472.3,105.9 C471.9,105.9 471.6,106.0 471.2,106.0 C470.9,106.0 470.3,105.9 470.1,105.9" stroke-width="1.4"/><path d="M473.4,106.2 C473.2,106.2 472.7,106.3 472.3,106.4 C472.0,106.5 471.7,106.7 471.4,106.8 C471.2,107.0 470.7,107.3 470.6,107.4" stroke-width="1.4"/><path d="M487.9,108.5 C487.3,108.8 485.5,109.6 484.4,110.4 C483.3,111.1 482.3,112.1 481.3,113.0 C480.3,113.9 478.9,115.3 478.4,115.8" stroke-width="2.7"/><path d="M478.4,115.8 C478.3,116.2 478.2,117.6 478.1,118.5 C478.0,119.4 477.8,120.4 477.9,121.3 C477.9,122.2 478.1,123.6 478.2,124.0" stroke-width="2.0"/><path d="M478.2,124.0 C478.0,124.2 477.5,124.9 477.2,125.3 C476.9,125.8 476.8,126.3 476.5,126.8 C476.2,127.2 475.7,127.9 475.6,128.1" stroke-width="1.4"/><path d="M478.2,124.0 C478.3,124.3 478.5,125.0 478.8,125.5 C479.0,125.9 479.4,126.3 479.7,126.7 C480.0,127.2 480.4,127.8 480.6,128.0" stroke-width="1.4"/><path d="M478.2,124.0 C478.4,124.3 479.0,125.0 479.3,125.5 C479.7,126.0 480.0,126.5 480.4,127.0 C480.8,127.5 481.4,128.1 481.7,128.3" stroke-width="1.4"/><path d="M478.4,115.8 C478.0,115.9 476.8,116.4 476.1,116.7 C475.3,117.0 474.5,117.3 473.8,117.7 C473.1,118.1 472.0,118.8 471.7,119.1" stroke-width="2.0"/><path d="M471.7,119.1 C471.5,119.0 470.9,118.7 470.5,118.4 C470.1,118.2 469.8,117.9 469.5,117.6 C469.1,117.4 468.5,117.1 468.3,117.0" stroke-width="1.4"/><path d="M471.7,119.1 C471.5,119.2 470.9,119.8 470.4,120.0 C470.0,120.3 469.4,120.3 469.0,120.5 C468.5,120.8 467.8,121.2 467.6,121.3" stroke-width="1.4"/><path d="M471.7,119.1 C471.4,119.2 470.7,119.6 470.3,119.8 C469.8,120.1 469.2,120.2 468.8,120.4 C468.3,120.7 467.8,121.3 467.6,121.5" stroke-width="1.4"/><path d="M478.4,115.8 C478.0,115.9 476.9,116.5 476.2,116.8 C475.4,117.0 474.6,117.1 473.9,117.4 C473.1,117.6 472.0,118.1 471.6,118.2" stroke-width="2.0"/><path d="M471.6,118.2 C471.3,118.1 470.5,118.0 470.0,117.8 C469.5,117.6 469.1,117.3 468.6,117.1 C468.1,116.9 467.3,116.7 467.0,116.7" stroke-width="1.4"/><path d="M471.6,118.2 C471.4,118.3 470.8,118.4 470.4,118.6 C470.0,118.8 469.7,119.1 469.4,119.4 C469.0,119.6 468.5,119.9 468.3,120.0" stroke-width="1.4"/><path d="M487.9,108.5 C487.4,108.9 485.8,109.9 484.9,110.9 C484.1,111.8 483.6,113.1 482.8,114.1 C482.0,115.0 480.5,116.3 480.0,116.7" stroke-width="2.7"/><path d="M480.0,116.7 C479.7,116.8 478.7,117.1 478.0,117.3 C477.3,117.5 476.6,117.6 475.9,117.7 C475.1,117.8 474.1,117.9 473.7,118.0" stroke-width="2.0"/><path d="M473.7,118.0 C473.5,117.9 472.9,117.8 472.4,117.7 C472.0,117.6 471.6,117.4 471.2,117.2 C470.8,117.0 470.3,116.7 470.1,116.6" stroke-width="1.4"/><path d="M473.7,118.0 C473.6,117.8 473.2,117.4 472.9,117.2 C472.7,117.0 472.4,116.7 472.1,116.5 C471.8,116.3 471.4,115.9 471.3,115.8" stroke-width="1.4"/><path d="M473.7,118.0 C473.5,118.1 473.0,118.4 472.6,118.6 C472.2,118.8 471.8,118.8 471.4,119.0 C471.0,119.2 470.4,119.5 470.3,119.7" stroke-width="1.4"/><path d="M480.0,116.7 C479.8,116.9 479.0,117.8 478.4,118.2 C477.8,118.6 477.1,118.7 476.5,119.1 C475.8,119.5 475.0,120.2 474.7,120.4" stroke-width="2.0"/><path d="M474.7,120.4 C474.6,120.6 474.4,121.1 474.2,121.5 C474.0,121.8 473.7,122.2 473.5,122.5 C473.2,122.8 472.8,123.2 472.7,123.4" stroke-width="1.4"/><path d="M474.7,120.4 C474.6,120.6 474.4,121.4 474.3,121.9 C474.3,122.4 474.3,122.9 474.3,123.4 C474.4,123.9 474.5,124.6 474.5,124.9" stroke-width="1.4"/><path d="M474.7,120.4 C474.7,120.6 474.5,121.3 474.4,121.8 C474.3,122.3 474.2,122.8 474.2,123.3 C474.2,123.7 474.4,124.5 474.4,124.7" stroke-width="1.4"/><path d="M480.0,116.7 C479.7,116.7 478.6,116.6 478.0,116.4 C477.3,116.2 476.7,115.8 476.0,115.6 C475.4,115.3 474.3,115.1 474.0,115.0" stroke-width="2.0"/><path d="M474.0,115.0 C473.8,114.9 473.3,114.4 472.9,114.1 C472.6,113.8 472.3,113.5 471.9,113.2 C471.6,112.8 471.1,112.4 470.9,112.2" stroke-width="1.4"/><path d="M474.0,115.0 C473.8,115.0 473.1,114.9 472.6,114.8 C472.2,114.7 471.8,114.4 471.4,114.3 C470.9,114.2 470.2,114.2 470.0,114.2" stroke-width="1.4"/></g>
<filter id="bl2"><feGaussianBlur stdDeviation="1.1"/></filter>
<g fill="none" stroke="#2c2c2c" stroke-width="2.6" stroke-linecap="round" filter="url(#bl2)" opacity="0.45" stroke-dasharray="7,5"><path d="M363.8,108.2 C364.5,108.2 366.7,107.9 368.1,108.1 C369.5,108.4 370.9,109.7 372.3,110.0 C373.7,110.2 375.1,109.5 376.5,109.6 C378.0,109.7 380.1,110.4 380.8,110.5"/><path d="M369.9,86.0 C370.3,86.7 371.3,89.3 372.3,90.4 C373.3,91.4 374.6,91.8 375.9,92.1 C377.2,92.4 379.0,91.6 380.1,92.3 C381.3,93.0 382.3,95.7 382.7,96.4"/><path d="M373.5,68.2 C374.2,69.0 376.2,71.7 377.7,73.4 C379.1,75.1 380.1,77.2 382.2,78.2 C384.3,79.2 388.8,77.8 390.3,79.4 C391.7,81.1 390.9,86.7 391.0,88.2"/><path d="M394.4,49.9 C394.9,51.3 396.1,55.6 397.5,58.3 C398.9,61.0 402.1,63.2 402.6,66.1 C403.2,69.1 400.6,73.2 400.8,76.3 C401.0,79.4 403.2,83.3 403.7,84.7"/><path d="M410.5,67.0 C410.1,67.4 409.0,68.8 408.3,69.8 C407.7,70.7 406.1,71.9 406.4,72.7 C406.7,73.6 409.5,74.1 410.2,74.9 C410.9,75.7 410.4,77.1 410.5,77.5"/><path d="M426.3,63.5 C426.1,64.1 425.4,65.9 425.0,67.0 C424.5,68.2 424.3,69.5 423.6,70.6 C423.0,71.7 421.4,72.5 421.0,73.6 C420.6,74.8 421.1,77.0 421.2,77.7"/><path d="M444.6,66.6 C443.9,67.5 442.8,70.7 440.9,71.9 C439.0,73.1 434.8,72.5 433.1,73.8 C431.3,75.1 431.4,77.9 430.4,79.9 C429.4,81.9 427.9,84.8 427.4,85.8"/><path d="M448.1,68.1 C447.8,69.4 448.0,74.3 446.5,75.7 C445.1,77.1 441.3,75.8 439.4,76.7 C437.4,77.6 436.3,79.4 434.9,80.9 C433.5,82.4 431.6,84.8 430.9,85.6"/><path d="M459.1,81.6 C458.4,82.6 456.8,86.8 455.0,88.0 C453.2,89.1 450.1,87.2 448.3,88.4 C446.5,89.7 446.2,94.1 444.4,95.3 C442.6,96.5 438.9,95.7 437.7,95.8"/><path d="M370.5,144.8 C371.4,144.6 374.6,145.0 375.9,143.9 C377.2,142.8 377.1,139.5 378.4,138.4 C379.6,137.3 381.9,137.8 383.6,137.3 C385.2,136.7 387.4,135.5 388.2,135.1"/><path d="M363.9,132.0 C364.6,130.8 366.2,126.1 367.7,124.6 C369.1,123.2 371.0,123.1 372.9,123.2 C374.8,123.3 377.3,125.7 379.0,125.1 C380.8,124.5 382.6,120.4 383.3,119.5"/><path d="M448.1,129.7 C447.8,129.3 447.0,127.6 446.2,126.9 C445.5,126.2 444.6,125.9 443.9,125.5 C443.1,125.0 442.2,124.7 441.5,124.1 C440.7,123.5 439.6,122.4 439.2,122.1"/><path d="M435.8,157.1 C436.2,155.8 438.5,150.9 438.3,149.1 C438.1,147.3 436.3,146.9 434.8,146.1 C433.3,145.4 430.3,145.7 429.2,144.7 C428.1,143.6 428.3,140.5 428.1,139.7"/><path d="M417.0,165.4 C417.8,164.4 422.1,161.1 422.0,159.5 C421.9,157.9 417.1,157.2 416.1,155.8 C415.2,154.3 416.0,152.5 416.4,150.8 C416.7,149.2 417.8,146.5 418.1,145.6"/><path d="M387.7,167.4 C388.4,166.4 390.1,163.0 391.7,161.0 C393.4,159.0 396.3,157.6 397.5,155.3 C398.7,153.1 398.4,150.1 399.0,147.5 C399.6,145.0 400.7,141.3 401.1,140.0"/><path d="M453.8,89.1 C455.1,89.1 459.3,88.7 461.7,89.5 C464.1,90.3 465.9,92.3 468.0,93.8 C470.1,95.4 472.0,97.4 474.1,98.8 C476.2,100.2 479.7,101.7 480.8,102.2"/><path d="M475.4,60.9 C476.1,62.1 478.5,65.5 479.6,68.1 C480.8,70.7 481.0,74.0 482.2,76.5 C483.5,79.0 485.7,80.7 487.0,83.3 C488.2,85.8 489.3,90.3 489.7,91.7"/><path d="M493.3,56.2 C493.2,57.3 492.2,60.9 492.9,62.9 C493.6,65.0 496.4,66.4 497.4,68.3 C498.3,70.3 498.8,72.3 498.6,74.6 C498.4,76.9 496.6,80.7 496.2,81.9"/><path d="M498.6,59.7 C498.8,60.7 499.6,63.8 499.7,65.9 C499.8,68.0 499.2,70.3 499.4,72.4 C499.5,74.5 500.2,76.5 500.7,78.5 C501.3,80.6 502.3,83.6 502.6,84.7"/><path d="M515.5,58.3 C516.2,59.6 519.6,64.2 519.7,66.6 C519.8,68.9 517.0,70.2 516.1,72.2 C515.3,74.2 515.2,76.6 514.7,78.7 C514.2,80.8 513.3,84.0 513.0,85.1"/><path d="M530.9,66.4 C530.5,67.5 530.5,71.1 528.9,72.6 C527.4,74.1 522.7,73.4 521.6,75.2 C520.6,77.0 523.5,81.3 522.8,83.3 C522.0,85.2 518.1,86.3 517.2,87.0"/><path d="M533.6,83.6 C533.3,84.0 533.1,85.8 532.0,86.0 C530.9,86.2 528.0,84.4 527.0,84.7 C526.1,85.1 526.5,86.8 526.4,88.1 C526.3,89.3 526.3,91.5 526.3,92.2"/><path d="M555.6,94.1 C554.5,94.4 551.0,94.8 548.9,95.7 C546.7,96.6 544.8,98.1 542.8,99.3 C540.7,100.5 538.7,101.5 536.6,102.8 C534.6,104.1 531.7,106.4 530.7,107.1"/><path d="M546.2,111.7 C545.6,112.2 543.7,114.9 542.5,115.0 C541.2,115.2 539.9,112.5 538.6,112.4 C537.3,112.3 536.1,114.2 534.9,114.5 C533.6,114.7 531.7,114.1 531.0,114.1"/><path d="M549.0,135.6 C548.1,135.6 544.9,136.8 543.4,135.9 C542.0,135.0 541.5,131.5 540.2,130.1 C538.9,128.7 537.4,127.9 535.7,127.6 C533.9,127.4 530.9,128.5 529.9,128.7"/><path d="M545.8,148.9 C544.8,148.4 542.0,147.0 540.1,146.0 C538.2,145.0 536.0,144.4 534.5,142.9 C533.0,141.3 532.6,138.2 531.1,136.6 C529.6,135.0 526.5,134.0 525.6,133.4"/><path d="M519.4,166.0 C519.6,164.8 520.8,160.9 520.8,158.7 C520.8,156.5 520.3,154.4 519.4,152.6 C518.4,150.8 516.1,149.6 515.1,147.9 C514.1,146.1 513.5,143.0 513.2,142.0"/><path d="M512.1,174.1 C511.8,173.1 510.1,170.4 510.3,168.5 C510.4,166.5 513.2,164.0 512.9,162.1 C512.6,160.2 509.1,158.8 508.6,156.9 C508.0,155.1 509.4,151.9 509.6,150.9"/><path d="M485.0,171.1 C485.0,169.8 484.2,165.4 485.5,163.4 C486.8,161.4 491.7,161.0 492.7,158.9 C493.7,156.8 491.1,153.0 491.5,150.6 C491.9,148.2 494.7,145.6 495.3,144.5"/><path d="M477.3,147.4 C477.5,146.9 478.7,145.9 478.9,144.5 C479.2,143.1 478.2,140.2 478.8,139.2 C479.3,138.2 481.2,139.0 482.2,138.6 C483.3,138.2 484.5,137.2 484.9,137.0"/><path d="M466.7,123.4 C467.3,123.5 469.3,124.3 470.4,124.0 C471.6,123.7 472.4,121.8 473.6,121.5 C474.7,121.3 476.2,122.9 477.4,122.5 C478.5,122.2 480.0,120.1 480.5,119.6"/></g>
<g fill="#262626" filter="url(#bl1)" opacity="0.55"><ellipse cx="427.7" cy="75.0" rx="2.4" ry="1.1" transform="rotate(5 427.7 75.0)"/><ellipse cx="369.8" cy="47.1" rx="2.2" ry="1.1" transform="rotate(20 369.8 47.1)"/><ellipse cx="511.4" cy="146.7" rx="2.0" ry="1.1" transform="rotate(78 511.4 146.7)"/><ellipse cx="492.6" cy="95.9" rx="2.5" ry="1.1" transform="rotate(121 492.6 95.9)"/><ellipse cx="534.6" cy="173.8" rx="1.9" ry="0.8" transform="rotate(95 534.6 173.8)"/><ellipse cx="533.4" cy="72.2" rx="1.4" ry="0.9" transform="rotate(42 533.4 72.2)"/><ellipse cx="514.2" cy="115.2" rx="1.1" ry="1.1" transform="rotate(125 514.2 115.2)"/><ellipse cx="372.8" cy="70.7" rx="1.0" ry="1.2" transform="rotate(72 372.8 70.7)"/><ellipse cx="370.5" cy="77.4" rx="1.3" ry="1.1" transform="rotate(77 370.5 77.4)"/><ellipse cx="443.8" cy="88.2" rx="1.1" ry="0.9" transform="rotate(114 443.8 88.2)"/><ellipse cx="464.8" cy="122.0" rx="1.3" ry="0.7" transform="rotate(137 464.8 122.0)"/><ellipse cx="496.4" cy="131.2" rx="2.5" ry="0.9" transform="rotate(132 496.4 131.2)"/><ellipse cx="419.9" cy="123.5" rx="2.5" ry="1.0" transform="rotate(111 419.9 123.5)"/><ellipse cx="545.7" cy="109.2" rx="1.4" ry="1.4" transform="rotate(121 545.7 109.2)"/><ellipse cx="426.6" cy="81.0" rx="1.0" ry="0.8" transform="rotate(176 426.6 81.0)"/><ellipse cx="468.6" cy="147.0" rx="1.4" ry="1.3" transform="rotate(127 468.6 147.0)"/><ellipse cx="525.5" cy="108.6" rx="2.5" ry="1.1" transform="rotate(26 525.5 108.6)"/><ellipse cx="531.6" cy="84.5" rx="2.5" ry="1.1" transform="rotate(72 531.6 84.5)"/><ellipse cx="461.5" cy="93.8" rx="1.1" ry="0.7" transform="rotate(15 461.5 93.8)"/><ellipse cx="530.5" cy="90.7" rx="1.0" ry="1.0" transform="rotate(114 530.5 90.7)"/><ellipse cx="482.2" cy="164.7" rx="1.6" ry="1.4" transform="rotate(2 482.2 164.7)"/><ellipse cx="396.5" cy="109.3" rx="2.0" ry="1.0" transform="rotate(141 396.5 109.3)"/><ellipse cx="466.3" cy="45.0" rx="1.6" ry="1.1" transform="rotate(46 466.3 45.0)"/><ellipse cx="401.5" cy="129.3" rx="1.7" ry="1.4" transform="rotate(171 401.5 129.3)"/><ellipse cx="423.3" cy="49.3" rx="1.3" ry="1.0" transform="rotate(76 423.3 49.3)"/><ellipse cx="445.8" cy="56.3" rx="1.5" ry="1.0" transform="rotate(136 445.8 56.3)"/><ellipse cx="388.8" cy="128.0" rx="1.6" ry="1.2" transform="rotate(122 388.8 128.0)"/><ellipse cx="402.5" cy="137.5" rx="1.6" ry="1.3" transform="rotate(4 402.5 137.5)"/><ellipse cx="424.4" cy="112.8" rx="1.5" ry="1.0" transform="rotate(104 424.4 112.8)"/><ellipse cx="410.9" cy="157.6" rx="1.5" ry="1.2" transform="rotate(173 410.9 157.6)"/><ellipse cx="385.9" cy="159.8" rx="1.3" ry="1.0" transform="rotate(21 385.9 159.8)"/><ellipse cx="535.0" cy="85.7" rx="1.8" ry="1.4" transform="rotate(26 535.0 85.7)"/><ellipse cx="382.1" cy="136.0" rx="1.1" ry="0.8" transform="rotate(46 382.1 136.0)"/><ellipse cx="369.9" cy="89.9" rx="1.1" ry="1.4" transform="rotate(92 369.9 89.9)"/><ellipse cx="373.6" cy="143.1" rx="1.4" ry="1.3" transform="rotate(6 373.6 143.1)"/><ellipse cx="389.9" cy="93.6" rx="2.3" ry="1.4" transform="rotate(174 389.9 93.6)"/><ellipse cx="405.1" cy="93.8" rx="2.4" ry="1.3" transform="rotate(169 405.1 93.8)"/><ellipse cx="382.6" cy="50.0" rx="1.6" ry="1.3" transform="rotate(124 382.6 50.0)"/><ellipse cx="442.7" cy="134.4" rx="1.7" ry="1.3" transform="rotate(52 442.7 134.4)"/><ellipse cx="503.4" cy="64.9" rx="1.9" ry="0.9" transform="rotate(61 503.4 64.9)"/></g>
<path d="M459,34 C457,60 462,90 459,120 C457,140 461,160 459,177" fill="none" stroke="#2a2a2a" stroke-width="1.8" filter="url(#bl1)" opacity="0.6"/>
<path d="M361.2,177.6 C361.2,171.3 361.0,152.1 361.0,140.0 C361.0,127.9 360.8,113.9 361.4,105.1 C362.0,96.3 363.0,93.0 364.6,87.4 C366.2,81.8 367.4,77.0 371.1,71.4 C374.9,65.8 380.4,58.8 387.1,53.7 C393.8,48.6 403.2,43.9 411.2,40.8 C419.2,37.7 427.2,36.6 435.3,35.2 C443.4,33.8 452.2,32.4 460.0,32.3 C467.8,32.2 474.6,33.0 481.9,34.5 C489.2,36.0 497.2,38.1 503.8,41.1 C510.4,44.1 516.4,48.6 521.3,52.7 C526.2,56.8 529.6,61.5 533.0,65.9 C536.4,70.3 539.4,74.1 541.8,79.0 C544.2,83.9 546.1,89.5 547.6,95.1 C549.1,100.7 550.0,105.9 550.8,112.6 C551.6,119.2 552.2,127.1 552.6,135.0 C553.0,142.9 553.1,152.9 553.2,160.0 C553.3,167.1 553.2,174.7 553.2,177.6" fill="none" stroke="#1c1c1c" stroke-width="21"/><path d="M361.2,177.6 C361.2,171.3 361.0,152.1 361.0,140.0 C361.0,127.9 360.8,113.9 361.4,105.1 C362.0,96.3 363.0,93.0 364.6,87.4 C366.2,81.8 367.4,77.0 371.1,71.4 C374.9,65.8 380.4,58.8 387.1,53.7 C393.8,48.6 403.2,43.9 411.2,40.8 C419.2,37.7 427.2,36.6 435.3,35.2 C443.4,33.8 452.2,32.4 460.0,32.3 C467.8,32.2 474.6,33.0 481.9,34.5 C489.2,36.0 497.2,38.1 503.8,41.1 C510.4,44.1 516.4,48.6 521.3,52.7 C526.2,56.8 529.6,61.5 533.0,65.9 C536.4,70.3 539.4,74.1 541.8,79.0 C544.2,83.9 546.1,89.5 547.6,95.1 C549.1,100.7 550.0,105.9 550.8,112.6 C551.6,119.2 552.2,127.1 552.6,135.0 C553.0,142.9 553.1,152.9 553.2,160.0 C553.3,167.1 553.2,174.7 553.2,177.6" fill="none" stroke="#f0f0f0" stroke-width="16.5"/><path d="M361.2,177.6 C361.2,171.3 361.0,152.1 361.0,140.0 C361.0,127.9 360.8,113.9 361.4,105.1 C362.0,96.3 363.0,93.0 364.6,87.4 C366.2,81.8 367.4,77.0 371.1,71.4 C374.9,65.8 380.4,58.8 387.1,53.7 C393.8,48.6 403.2,43.9 411.2,40.8 C419.2,37.7 427.2,36.6 435.3,35.2 C443.4,33.8 452.2,32.4 460.0,32.3 C467.8,32.2 474.6,33.0 481.9,34.5 C489.2,36.0 497.2,38.1 503.8,41.1 C510.4,44.1 516.4,48.6 521.3,52.7 C526.2,56.8 529.6,61.5 533.0,65.9 C536.4,70.3 539.4,74.1 541.8,79.0 C544.2,83.9 546.1,89.5 547.6,95.1 C549.1,100.7 550.0,105.9 550.8,112.6 C551.6,119.2 552.2,127.1 552.6,135.0 C553.0,142.9 553.1,152.9 553.2,160.0 C553.3,167.1 553.2,174.7 553.2,177.6" fill="none" stroke="#8a8a8a" stroke-width="5.4"/><path d="M361.2,177.6 C361.2,171.3 361.0,152.1 361.0,140.0 C361.0,127.9 360.8,113.9 361.4,105.1 C362.0,96.3 363.0,93.0 364.6,87.4 C366.2,81.8 367.4,77.0 371.1,71.4 C374.9,65.8 380.4,58.8 387.1,53.7 C393.8,48.6 403.2,43.9 411.2,40.8 C419.2,37.7 427.2,36.6 435.3,35.2 C443.4,33.8 452.2,32.4 460.0,32.3 C467.8,32.2 474.6,33.0 481.9,34.5 C489.2,36.0 497.2,38.1 503.8,41.1 C510.4,44.1 516.4,48.6 521.3,52.7 C526.2,56.8 529.6,61.5 533.0,65.9 C536.4,70.3 539.4,74.1 541.8,79.0 C544.2,83.9 546.1,89.5 547.6,95.1 C549.1,100.7 550.0,105.9 550.8,112.6 C551.6,119.2 552.2,127.1 552.6,135.0 C553.0,142.9 553.1,152.9 553.2,160.0 C553.3,167.1 553.2,174.7 553.2,177.6" fill="none" stroke="#d0d0d0" stroke-width="3.2" stroke-dasharray="1.5,1.2,3,1.4"/><path d="M361.2,177.6 C361.2,171.3 361.0,152.1 361.0,140.0 C361.0,127.9 360.8,113.9 361.4,105.1 C362.0,96.3 363.0,93.0 364.6,87.4 C366.2,81.8 367.4,77.0 371.1,71.4 C374.9,65.8 380.4,58.8 387.1,53.7 C393.8,48.6 403.2,43.9 411.2,40.8 C419.2,37.7 427.2,36.6 435.3,35.2 C443.4,33.8 452.2,32.4 460.0,32.3 C467.8,32.2 474.6,33.0 481.9,34.5 C489.2,36.0 497.2,38.1 503.8,41.1 C510.4,44.1 516.4,48.6 521.3,52.7 C526.2,56.8 529.6,61.5 533.0,65.9 C536.4,70.3 539.4,74.1 541.8,79.0 C544.2,83.9 546.1,89.5 547.6,95.1 C549.1,100.7 550.0,105.9 550.8,112.6 C551.6,119.2 552.2,127.1 552.6,135.0 C553.0,142.9 553.1,152.9 553.2,160.0 C553.3,167.1 553.2,174.7 553.2,177.6" fill="none" stroke="#444" stroke-width="1.2" stroke-dasharray="1.2,0.8,2.5,1"/></g>
<rect x="355" y="177.5" width="205" height="5" fill="#fff"/>
<text x="406.7" y="83.9" font-size="11" fill="#fff" text-anchor="start" font-weight="bold" >LH</text>
<text x="404.6" y="132.9" font-size="11" fill="#fff" text-anchor="start" font-weight="bold" >CoS</text>
<text x="513.6" y="163.1" font-size="8.4" fill="#fff" text-anchor="start" >1cm</text>
<rect x="514.3" y="165.1" width="15.6" height="1.3" fill="#fff"/>
<g stroke="#d0d0d0" stroke-width="1.3" stroke-dasharray="3.2,2.6" fill="none"><line x1="58.4" y1="141.7" x2="191.3" y2="157.2"/><line x1="57" y1="166.5" x2="191.3" y2="69.2"/><line x1="329.1" y1="155.3" x2="421" y2="138.4"/><line x1="329.1" y1="64.7" x2="415" y2="166"/></g>
<rect x="191.3" y="69.2" width="45.3" height="88" fill="none" stroke="#c4c4c4" stroke-width="1.1" stroke-dasharray="3,2.2"/>
<rect x="263.5" y="64.7" width="65.6" height="90.6" fill="none" stroke="#c4c4c4" stroke-width="1.1" stroke-dasharray="3,2.2"/>
<line x1="240.5" y1="113.8" x2="256" y2="113.8" stroke="#8a8a8a" stroke-width="1.6"/>
<path d="M260,113.8 l-5,-3 v6 z" fill="#8a8a8a"/>
<linearGradient id="ribL" x1="0" x2="1" y1="0" y2="0"><stop offset="0" stop-color="#a6c0f2"/><stop offset="0.5" stop-color="#9ab9f1"/><stop offset="1" stop-color="#c9d2f1"/></linearGradient>
<path d="M191.2,82.3 C192.3,82.0 195.9,80.7 198.1,80.7 C200.3,80.7 202.7,81.4 204.6,82.3 C206.5,83.2 208.1,84.7 209.4,86.3 C210.7,87.9 211.7,89.8 212.3,92.0 C212.9,94.2 213.1,96.7 213.1,99.3 C213.1,101.9 212.9,105.1 212.3,107.4 C211.7,109.7 210.2,111.3 209.4,113.1 C208.6,114.9 207.6,116.2 207.4,118.0 C207.2,119.8 207.6,122.2 208.2,123.6 C208.8,124.9 209.9,126.0 211.1,126.1 C212.2,126.2 214.0,125.6 215.1,124.4 C216.2,123.2 217.2,121.0 217.6,118.8 C218.0,116.6 217.9,114.1 217.6,111.5 C217.3,108.9 216.3,106.1 215.9,103.4 C215.5,100.7 215.1,97.7 215.1,95.3 C215.1,92.9 215.1,90.7 215.9,88.8 C216.7,86.9 218.2,85.1 220.0,83.9 C221.8,82.7 223.8,82.2 226.5,81.5 C229.2,80.8 234.6,79.8 236.2,79.5 L236.2,92.8  C235.0,92.8 230.8,92.4 228.9,92.8 C227.0,93.2 225.6,93.9 224.8,95.3 C224.0,96.7 223.8,98.9 224.0,100.9 C224.2,102.9 225.0,105.0 225.7,107.4 C226.4,109.8 227.7,112.8 228.1,115.5 C228.5,118.2 228.8,121.2 228.1,123.6 C227.4,126.0 226.0,128.2 224.0,130.1 C222.0,132.0 218.6,134.1 215.9,135.0 C213.2,135.9 210.4,136.4 207.8,135.8 C205.2,135.2 202.2,133.7 200.5,131.7 C198.8,129.7 197.7,126.3 197.3,123.6 C196.9,120.9 197.4,118.2 198.1,115.5 C198.8,112.8 200.2,109.8 201.3,107.4 C202.4,105.0 204.2,102.9 204.6,100.9 C205.0,98.9 204.6,96.9 203.8,95.3 C203.0,93.7 201.2,91.9 199.7,91.2 C198.2,90.5 196.3,90.7 194.9,91.2 C193.5,91.7 191.8,93.9 191.2,94.4 Z" fill="url(#ribL)" stroke="#4f7ff0" stroke-width="0.8"/>
<clipPath id="dotL"><path d="M191.2,82.3 C192.3,82.0 195.9,80.7 198.1,80.7 C200.3,80.7 202.7,81.4 204.6,82.3 C206.5,83.2 208.1,84.7 209.4,86.3 C210.7,87.9 211.7,89.8 212.3,92.0 C212.9,94.2 213.1,96.7 213.1,99.3 C213.1,101.9 212.9,105.1 212.3,107.4 C211.7,109.7 210.2,111.3 209.4,113.1 C208.6,114.9 207.6,116.2 207.4,118.0 C207.2,119.8 207.6,122.2 208.2,123.6 C208.8,124.9 209.9,126.0 211.1,126.1 C212.2,126.2 214.0,125.6 215.1,124.4 C216.2,123.2 217.2,121.0 217.6,118.8 C218.0,116.6 217.9,114.1 217.6,111.5 C217.3,108.9 216.3,106.1 215.9,103.4 C215.5,100.7 215.1,97.7 215.1,95.3 C215.1,92.9 215.1,90.7 215.9,88.8 C216.7,86.9 218.2,85.1 220.0,83.9 C221.8,82.7 223.8,82.2 226.5,81.5 C229.2,80.8 234.6,79.8 236.2,79.5 L236.2,92.8  C235.0,92.8 230.8,92.4 228.9,92.8 C227.0,93.2 225.6,93.9 224.8,95.3 C224.0,96.7 223.8,98.9 224.0,100.9 C224.2,102.9 225.0,105.0 225.7,107.4 C226.4,109.8 227.7,112.8 228.1,115.5 C228.5,118.2 228.8,121.2 228.1,123.6 C227.4,126.0 226.0,128.2 224.0,130.1 C222.0,132.0 218.6,134.1 215.9,135.0 C213.2,135.9 210.4,136.4 207.8,135.8 C205.2,135.2 202.2,133.7 200.5,131.7 C198.8,129.7 197.7,126.3 197.3,123.6 C196.9,120.9 197.4,118.2 198.1,115.5 C198.8,112.8 200.2,109.8 201.3,107.4 C202.4,105.0 204.2,102.9 204.6,100.9 C205.0,98.9 204.6,96.9 203.8,95.3 C203.0,93.7 201.2,91.9 199.7,91.2 C198.2,90.5 196.3,90.7 194.9,91.2 C193.5,91.7 191.8,93.9 191.2,94.4 Z"/></clipPath>
<g clip-path="url(#dotL)" fill="#555"><circle cx="192.0" cy="81.0" r="0.33"/><circle cx="196.2" cy="81.0" r="0.33"/><circle cx="200.4" cy="81.0" r="0.33"/><circle cx="204.6" cy="81.0" r="0.33"/><circle cx="208.8" cy="81.0" r="0.33"/><circle cx="213.0" cy="81.0" r="0.33"/><circle cx="217.2" cy="81.0" r="0.33"/><circle cx="221.4" cy="81.0" r="0.33"/><circle cx="225.6" cy="81.0" r="0.33"/><circle cx="229.8" cy="81.0" r="0.33"/><circle cx="234.0" cy="81.0" r="0.33"/><circle cx="194.1" cy="84.6" r="0.33"/><circle cx="198.3" cy="84.6" r="0.33"/><circle cx="202.5" cy="84.6" r="0.33"/><circle cx="206.7" cy="84.6" r="0.33"/><circle cx="210.9" cy="84.6" r="0.33"/><circle cx="215.1" cy="84.6" r="0.33"/><circle cx="219.3" cy="84.6" r="0.33"/><circle cx="223.5" cy="84.6" r="0.33"/><circle cx="227.7" cy="84.6" r="0.33"/><circle cx="231.9" cy="84.6" r="0.33"/><circle cx="192.0" cy="88.1" r="0.33"/><circle cx="196.2" cy="88.1" r="0.33"/><circle cx="200.4" cy="88.1" r="0.33"/><circle cx="204.6" cy="88.1" r="0.33"/><circle cx="208.8" cy="88.1" r="0.33"/><circle cx="213.0" cy="88.1" r="0.33"/><circle cx="217.2" cy="88.1" r="0.33"/><circle cx="221.4" cy="88.1" r="0.33"/><circle cx="225.6" cy="88.1" r="0.33"/><circle cx="229.8" cy="88.1" r="0.33"/><circle cx="234.0" cy="88.1" r="0.33"/><circle cx="194.1" cy="91.7" r="0.33"/><circle cx="198.3" cy="91.7" r="0.33"/><circle cx="202.5" cy="91.7" r="0.33"/><circle cx="206.7" cy="91.7" r="0.33"/><circle cx="210.9" cy="91.7" r="0.33"/><circle cx="215.1" cy="91.7" r="0.33"/><circle cx="219.3" cy="91.7" r="0.33"/><circle cx="223.5" cy="91.7" r="0.33"/><circle cx="227.7" cy="91.7" r="0.33"/><circle cx="231.9" cy="91.7" r="0.33"/><circle cx="192.0" cy="95.3" r="0.33"/><circle cx="196.2" cy="95.3" r="0.33"/><circle cx="200.4" cy="95.3" r="0.33"/><circle cx="204.6" cy="95.3" r="0.33"/><circle cx="208.8" cy="95.3" r="0.33"/><circle cx="213.0" cy="95.3" r="0.33"/><circle cx="217.2" cy="95.3" r="0.33"/><circle cx="221.4" cy="95.3" r="0.33"/><circle cx="225.6" cy="95.3" r="0.33"/><circle cx="229.8" cy="95.3" r="0.33"/><circle cx="234.0" cy="95.3" r="0.33"/><circle cx="194.1" cy="98.8" r="0.33"/><circle cx="198.3" cy="98.8" r="0.33"/><circle cx="202.5" cy="98.8" r="0.33"/><circle cx="206.7" cy="98.8" r="0.33"/><circle cx="210.9" cy="98.8" r="0.33"/><circle cx="215.1" cy="98.8" r="0.33"/><circle cx="219.3" cy="98.8" r="0.33"/><circle cx="223.5" cy="98.8" r="0.33"/><circle cx="227.7" cy="98.8" r="0.33"/><circle cx="231.9" cy="98.8" r="0.33"/><circle cx="192.0" cy="102.4" r="0.33"/><circle cx="196.2" cy="102.4" r="0.33"/><circle cx="200.4" cy="102.4" r="0.33"/><circle cx="204.6" cy="102.4" r="0.33"/><circle cx="208.8" cy="102.4" r="0.33"/><circle cx="213.0" cy="102.4" r="0.33"/><circle cx="217.2" cy="102.4" r="0.33"/><circle cx="221.4" cy="102.4" r="0.33"/><circle cx="225.6" cy="102.4" r="0.33"/><circle cx="229.8" cy="102.4" r="0.33"/><circle cx="234.0" cy="102.4" r="0.33"/><circle cx="194.1" cy="106.0" r="0.33"/><circle cx="198.3" cy="106.0" r="0.33"/><circle cx="202.5" cy="106.0" r="0.33"/><circle cx="206.7" cy="106.0" r="0.33"/><circle cx="210.9" cy="106.0" r="0.33"/><circle cx="215.1" cy="106.0" r="0.33"/><circle cx="219.3" cy="106.0" r="0.33"/><circle cx="223.5" cy="106.0" r="0.33"/><circle cx="227.7" cy="106.0" r="0.33"/><circle cx="231.9" cy="106.0" r="0.33"/><circle cx="192.0" cy="109.6" r="0.33"/><circle cx="196.2" cy="109.6" r="0.33"/><circle cx="200.4" cy="109.6" r="0.33"/><circle cx="204.6" cy="109.6" r="0.33"/><circle cx="208.8" cy="109.6" r="0.33"/><circle cx="213.0" cy="109.6" r="0.33"/><circle cx="217.2" cy="109.6" r="0.33"/><circle cx="221.4" cy="109.6" r="0.33"/><circle cx="225.6" cy="109.6" r="0.33"/><circle cx="229.8" cy="109.6" r="0.33"/><circle cx="234.0" cy="109.6" r="0.33"/><circle cx="194.1" cy="113.1" r="0.33"/><circle cx="198.3" cy="113.1" r="0.33"/><circle cx="202.5" cy="113.1" r="0.33"/><circle cx="206.7" cy="113.1" r="0.33"/><circle cx="210.9" cy="113.1" r="0.33"/><circle cx="215.1" cy="113.1" r="0.33"/><circle cx="219.3" cy="113.1" r="0.33"/><circle cx="223.5" cy="113.1" r="0.33"/><circle cx="227.7" cy="113.1" r="0.33"/><circle cx="231.9" cy="113.1" r="0.33"/><circle cx="192.0" cy="116.7" r="0.33"/><circle cx="196.2" cy="116.7" r="0.33"/><circle cx="200.4" cy="116.7" r="0.33"/><circle cx="204.6" cy="116.7" r="0.33"/><circle cx="208.8" cy="116.7" r="0.33"/><circle cx="213.0" cy="116.7" r="0.33"/><circle cx="217.2" cy="116.7" r="0.33"/><circle cx="221.4" cy="116.7" r="0.33"/><circle cx="225.6" cy="116.7" r="0.33"/><circle cx="229.8" cy="116.7" r="0.33"/><circle cx="234.0" cy="116.7" r="0.33"/><circle cx="194.1" cy="120.3" r="0.33"/><circle cx="198.3" cy="120.3" r="0.33"/><circle cx="202.5" cy="120.3" r="0.33"/><circle cx="206.7" cy="120.3" r="0.33"/><circle cx="210.9" cy="120.3" r="0.33"/><circle cx="215.1" cy="120.3" r="0.33"/><circle cx="219.3" cy="120.3" r="0.33"/><circle cx="223.5" cy="120.3" r="0.33"/><circle cx="227.7" cy="120.3" r="0.33"/><circle cx="231.9" cy="120.3" r="0.33"/><circle cx="192.0" cy="123.8" r="0.33"/><circle cx="196.2" cy="123.8" r="0.33"/><circle cx="200.4" cy="123.8" r="0.33"/><circle cx="204.6" cy="123.8" r="0.33"/><circle cx="208.8" cy="123.8" r="0.33"/><circle cx="213.0" cy="123.8" r="0.33"/><circle cx="217.2" cy="123.8" r="0.33"/><circle cx="221.4" cy="123.8" r="0.33"/><circle cx="225.6" cy="123.8" r="0.33"/><circle cx="229.8" cy="123.8" r="0.33"/><circle cx="234.0" cy="123.8" r="0.33"/><circle cx="194.1" cy="127.4" r="0.33"/><circle cx="198.3" cy="127.4" r="0.33"/><circle cx="202.5" cy="127.4" r="0.33"/><circle cx="206.7" cy="127.4" r="0.33"/><circle cx="210.9" cy="127.4" r="0.33"/><circle cx="215.1" cy="127.4" r="0.33"/><circle cx="219.3" cy="127.4" r="0.33"/><circle cx="223.5" cy="127.4" r="0.33"/><circle cx="227.7" cy="127.4" r="0.33"/><circle cx="231.9" cy="127.4" r="0.33"/><circle cx="192.0" cy="131.0" r="0.33"/><circle cx="196.2" cy="131.0" r="0.33"/><circle cx="200.4" cy="131.0" r="0.33"/><circle cx="204.6" cy="131.0" r="0.33"/><circle cx="208.8" cy="131.0" r="0.33"/><circle cx="213.0" cy="131.0" r="0.33"/><circle cx="217.2" cy="131.0" r="0.33"/><circle cx="221.4" cy="131.0" r="0.33"/><circle cx="225.6" cy="131.0" r="0.33"/><circle cx="229.8" cy="131.0" r="0.33"/><circle cx="234.0" cy="131.0" r="0.33"/><circle cx="194.1" cy="134.5" r="0.33"/><circle cx="198.3" cy="134.5" r="0.33"/><circle cx="202.5" cy="134.5" r="0.33"/><circle cx="206.7" cy="134.5" r="0.33"/><circle cx="210.9" cy="134.5" r="0.33"/><circle cx="215.1" cy="134.5" r="0.33"/><circle cx="219.3" cy="134.5" r="0.33"/><circle cx="223.5" cy="134.5" r="0.33"/><circle cx="227.7" cy="134.5" r="0.33"/><circle cx="231.9" cy="134.5" r="0.33"/></g>
<path d="M193.6,84.3 C194.8,84.1 198.4,82.8 200.5,83.1 C202.6,83.4 204.7,84.5 206.2,86.3 C207.7,88.0 209.0,91.0 209.4,93.6 C209.8,96.2 209.3,99.0 208.6,101.7 C207.9,104.4 206.2,107.1 205.4,109.8 C204.6,112.5 203.8,115.4 203.8,118.0 C203.8,120.6 204.2,123.5 205.4,125.2 C206.6,127.0 209.2,128.2 211.1,128.5 C213.0,128.8 215.1,128.2 216.7,126.9 C218.2,125.6 219.8,123.0 220.4,120.4 C221.0,117.8 220.4,114.6 220.0,111.5 C219.6,108.4 218.4,104.7 218.0,101.7 C217.6,98.7 217.1,96.0 217.6,93.6 C218.1,91.2 219.2,89.0 220.8,87.2 C222.4,85.5 226.2,83.8 227.3,83.1" fill="none" stroke="#2a1ef0" stroke-width="1.5"/>
<path d="M192.6,84.5 L195.0,82.7 L195.3,85.8 Z" fill="#2a1ef0"/>
<path d="M228.5,82.6 L226.5,84.9 L225.6,81.8 Z" fill="#2a1ef0"/>
<line x1="214.1" y1="82" x2="211.6" y2="124" stroke="#9ccc3c" stroke-width="1.4"/>
<path d="M214.3,78.8 L215.7,81.3 L212.7,81.1 Z" fill="#95c83a"/>
<path d="M211.5,126.6 L210.1,124.1 L213.1,124.3 Z" fill="#95c83a"/>
<path d="M209.6,117.5 a2.4,2.6 0 0 0 4.8,0" fill="none" stroke="#49b7c8" stroke-width="0.7"/>
<line x1="201" y1="127.7" x2="205.5" y2="125" stroke="#8a2a8f" stroke-width="1.2"/>
<path d="M199.4,128.6 L200.5,126.4 L201.9,128.6 Z" fill="#8a2a8f"/>
<path d="M207.0,124.1 L205.9,126.3 L204.5,124.1 Z" fill="#8a2a8f"/>
<linearGradient id="ribR" x1="0" x2="1" y1="0" y2="0"><stop offset="0" stop-color="#b3b9e6"/><stop offset="0.25" stop-color="#86a6ee"/><stop offset="0.7" stop-color="#7ea4ef"/><stop offset="1" stop-color="#c3c6ea"/></linearGradient>
<path d="M264.4,84.9 C265.3,84.0 267.6,80.8 270.0,79.3 C272.4,77.8 275.8,76.1 278.7,75.6 C281.6,75.1 284.9,75.5 287.4,76.2 C289.9,76.9 291.9,78.5 293.6,79.9 C295.3,81.4 296.9,82.4 297.4,84.9 C297.9,87.4 297.4,91.6 296.8,94.9 C296.2,98.2 294.7,101.7 293.6,104.8 C292.6,107.9 291.3,110.7 290.5,113.6 C289.7,116.5 288.8,119.8 288.7,122.3 C288.6,124.8 289.2,127.0 289.9,128.5 C290.6,129.9 291.9,130.9 293.0,131.0 C294.1,131.1 295.8,130.5 296.8,129.1 C297.8,127.6 298.8,125.1 299.2,122.3 C299.6,119.5 299.1,115.8 299.2,112.3 C299.3,108.8 299.7,104.6 299.9,101.1 C300.1,97.6 300.1,93.9 300.5,91.1 C300.9,88.3 300.8,85.8 302.4,84.3 C303.9,82.8 306.9,82.4 309.8,81.8 C312.7,81.2 316.7,81.0 319.8,80.6 C322.9,80.2 327.1,79.5 328.5,79.3 L328.5,97.4  C327.2,97.4 322.9,97.0 321.0,97.4 C319.1,97.8 318.0,97.8 317.3,99.9 C316.6,102.0 316.9,106.1 316.7,109.8 C316.5,113.5 316.8,118.2 316.1,122.3 C315.4,126.4 314.0,131.0 312.3,134.7 C310.6,138.4 308.8,142.4 306.1,144.7 C303.4,147.0 299.4,148.3 296.1,148.5 C292.8,148.7 289.3,147.9 286.2,146.0 C283.1,144.1 279.7,140.7 277.4,137.2 C275.1,133.7 273.4,128.5 272.5,124.8 C271.6,121.1 271.4,117.7 271.8,114.8 C272.2,111.9 274.1,109.8 275.0,107.3 C275.9,104.8 277.6,101.6 277.4,99.9 C277.2,98.2 275.1,97.0 273.7,97.4 C272.2,97.8 270.2,100.5 268.7,102.4 C267.1,104.3 265.1,107.6 264.4,108.6 Z" fill="url(#ribR)" stroke="#4a7ef0" stroke-width="0.8"/>
<clipPath id="dotR"><path d="M264.4,84.9 C265.3,84.0 267.6,80.8 270.0,79.3 C272.4,77.8 275.8,76.1 278.7,75.6 C281.6,75.1 284.9,75.5 287.4,76.2 C289.9,76.9 291.9,78.5 293.6,79.9 C295.3,81.4 296.9,82.4 297.4,84.9 C297.9,87.4 297.4,91.6 296.8,94.9 C296.2,98.2 294.7,101.7 293.6,104.8 C292.6,107.9 291.3,110.7 290.5,113.6 C289.7,116.5 288.8,119.8 288.7,122.3 C288.6,124.8 289.2,127.0 289.9,128.5 C290.6,129.9 291.9,130.9 293.0,131.0 C294.1,131.1 295.8,130.5 296.8,129.1 C297.8,127.6 298.8,125.1 299.2,122.3 C299.6,119.5 299.1,115.8 299.2,112.3 C299.3,108.8 299.7,104.6 299.9,101.1 C300.1,97.6 300.1,93.9 300.5,91.1 C300.9,88.3 300.8,85.8 302.4,84.3 C303.9,82.8 306.9,82.4 309.8,81.8 C312.7,81.2 316.7,81.0 319.8,80.6 C322.9,80.2 327.1,79.5 328.5,79.3 L328.5,97.4  C327.2,97.4 322.9,97.0 321.0,97.4 C319.1,97.8 318.0,97.8 317.3,99.9 C316.6,102.0 316.9,106.1 316.7,109.8 C316.5,113.5 316.8,118.2 316.1,122.3 C315.4,126.4 314.0,131.0 312.3,134.7 C310.6,138.4 308.8,142.4 306.1,144.7 C303.4,147.0 299.4,148.3 296.1,148.5 C292.8,148.7 289.3,147.9 286.2,146.0 C283.1,144.1 279.7,140.7 277.4,137.2 C275.1,133.7 273.4,128.5 272.5,124.8 C271.6,121.1 271.4,117.7 271.8,114.8 C272.2,111.9 274.1,109.8 275.0,107.3 C275.9,104.8 277.6,101.6 277.4,99.9 C277.2,98.2 275.1,97.0 273.7,97.4 C272.2,97.8 270.2,100.5 268.7,102.4 C267.1,104.3 265.1,107.6 264.4,108.6 Z"/></clipPath>
<g clip-path="url(#dotR)" fill="#333"><circle cx="264.0" cy="76.0" r="0.36"/><circle cx="267.0" cy="76.0" r="0.36"/><circle cx="270.0" cy="76.0" r="0.36"/><circle cx="273.0" cy="76.0" r="0.36"/><circle cx="276.0" cy="76.0" r="0.36"/><circle cx="279.0" cy="76.0" r="0.36"/><circle cx="282.0" cy="76.0" r="0.36"/><circle cx="285.0" cy="76.0" r="0.36"/><circle cx="288.0" cy="76.0" r="0.36"/><circle cx="291.0" cy="76.0" r="0.36"/><circle cx="294.0" cy="76.0" r="0.36"/><circle cx="297.0" cy="76.0" r="0.36"/><circle cx="300.0" cy="76.0" r="0.36"/><circle cx="303.0" cy="76.0" r="0.36"/><circle cx="306.0" cy="76.0" r="0.36"/><circle cx="309.0" cy="76.0" r="0.36"/><circle cx="312.0" cy="76.0" r="0.36"/><circle cx="315.0" cy="76.0" r="0.36"/><circle cx="318.0" cy="76.0" r="0.36"/><circle cx="321.0" cy="76.0" r="0.36"/><circle cx="324.0" cy="76.0" r="0.36"/><circle cx="327.0" cy="76.0" r="0.36"/><circle cx="265.5" cy="78.5" r="0.36"/><circle cx="268.5" cy="78.5" r="0.36"/><circle cx="271.5" cy="78.5" r="0.36"/><circle cx="274.5" cy="78.5" r="0.36"/><circle cx="277.5" cy="78.5" r="0.36"/><circle cx="280.5" cy="78.5" r="0.36"/><circle cx="283.5" cy="78.5" r="0.36"/><circle cx="286.5" cy="78.5" r="0.36"/><circle cx="289.5" cy="78.5" r="0.36"/><circle cx="292.5" cy="78.5" r="0.36"/><circle cx="295.5" cy="78.5" r="0.36"/><circle cx="298.5" cy="78.5" r="0.36"/><circle cx="301.5" cy="78.5" r="0.36"/><circle cx="304.5" cy="78.5" r="0.36"/><circle cx="307.5" cy="78.5" r="0.36"/><circle cx="310.5" cy="78.5" r="0.36"/><circle cx="313.5" cy="78.5" r="0.36"/><circle cx="316.5" cy="78.5" r="0.36"/><circle cx="319.5" cy="78.5" r="0.36"/><circle cx="322.5" cy="78.5" r="0.36"/><circle cx="325.5" cy="78.5" r="0.36"/><circle cx="328.5" cy="78.5" r="0.36"/><circle cx="264.0" cy="81.1" r="0.36"/><circle cx="267.0" cy="81.1" r="0.36"/><circle cx="270.0" cy="81.1" r="0.36"/><circle cx="273.0" cy="81.1" r="0.36"/><circle cx="276.0" cy="81.1" r="0.36"/><circle cx="279.0" cy="81.1" r="0.36"/><circle cx="282.0" cy="81.1" r="0.36"/><circle cx="285.0" cy="81.1" r="0.36"/><circle cx="288.0" cy="81.1" r="0.36"/><circle cx="291.0" cy="81.1" r="0.36"/><circle cx="294.0" cy="81.1" r="0.36"/><circle cx="297.0" cy="81.1" r="0.36"/><circle cx="300.0" cy="81.1" r="0.36"/><circle cx="303.0" cy="81.1" r="0.36"/><circle cx="306.0" cy="81.1" r="0.36"/><circle cx="309.0" cy="81.1" r="0.36"/><circle cx="312.0" cy="81.1" r="0.36"/><circle cx="315.0" cy="81.1" r="0.36"/><circle cx="318.0" cy="81.1" r="0.36"/><circle cx="321.0" cy="81.1" r="0.36"/><circle cx="324.0" cy="81.1" r="0.36"/><circle cx="327.0" cy="81.1" r="0.36"/><circle cx="265.5" cy="83.6" r="0.36"/><circle cx="268.5" cy="83.6" r="0.36"/><circle cx="271.5" cy="83.6" r="0.36"/><circle cx="274.5" cy="83.6" r="0.36"/><circle cx="277.5" cy="83.6" r="0.36"/><circle cx="280.5" cy="83.6" r="0.36"/><circle cx="283.5" cy="83.6" r="0.36"/><circle cx="286.5" cy="83.6" r="0.36"/><circle cx="289.5" cy="83.6" r="0.36"/><circle cx="292.5" cy="83.6" r="0.36"/><circle cx="295.5" cy="83.6" r="0.36"/><circle cx="298.5" cy="83.6" r="0.36"/><circle cx="301.5" cy="83.6" r="0.36"/><circle cx="304.5" cy="83.6" r="0.36"/><circle cx="307.5" cy="83.6" r="0.36"/><circle cx="310.5" cy="83.6" r="0.36"/><circle cx="313.5" cy="83.6" r="0.36"/><circle cx="316.5" cy="83.6" r="0.36"/><circle cx="319.5" cy="83.6" r="0.36"/><circle cx="322.5" cy="83.6" r="0.36"/><circle cx="325.5" cy="83.6" r="0.36"/><circle cx="328.5" cy="83.6" r="0.36"/><circle cx="264.0" cy="86.2" r="0.36"/><circle cx="267.0" cy="86.2" r="0.36"/><circle cx="270.0" cy="86.2" r="0.36"/><circle cx="273.0" cy="86.2" r="0.36"/><circle cx="276.0" cy="86.2" r="0.36"/><circle cx="279.0" cy="86.2" r="0.36"/><circle cx="282.0" cy="86.2" r="0.36"/><circle cx="285.0" cy="86.2" r="0.36"/><circle cx="288.0" cy="86.2" r="0.36"/><circle cx="291.0" cy="86.2" r="0.36"/><circle cx="294.0" cy="86.2" r="0.36"/><circle cx="297.0" cy="86.2" r="0.36"/><circle cx="300.0" cy="86.2" r="0.36"/><circle cx="303.0" cy="86.2" r="0.36"/><circle cx="306.0" cy="86.2" r="0.36"/><circle cx="309.0" cy="86.2" r="0.36"/><circle cx="312.0" cy="86.2" r="0.36"/><circle cx="315.0" cy="86.2" r="0.36"/><circle cx="318.0" cy="86.2" r="0.36"/><circle cx="321.0" cy="86.2" r="0.36"/><circle cx="324.0" cy="86.2" r="0.36"/><circle cx="327.0" cy="86.2" r="0.36"/><circle cx="265.5" cy="88.7" r="0.36"/><circle cx="268.5" cy="88.7" r="0.36"/><circle cx="271.5" cy="88.7" r="0.36"/><circle cx="274.5" cy="88.7" r="0.36"/><circle cx="277.5" cy="88.7" r="0.36"/><circle cx="280.5" cy="88.7" r="0.36"/><circle cx="283.5" cy="88.7" r="0.36"/><circle cx="286.5" cy="88.7" r="0.36"/><circle cx="289.5" cy="88.7" r="0.36"/><circle cx="292.5" cy="88.7" r="0.36"/><circle cx="295.5" cy="88.7" r="0.36"/><circle cx="298.5" cy="88.7" r="0.36"/><circle cx="301.5" cy="88.7" r="0.36"/><circle cx="304.5" cy="88.7" r="0.36"/><circle cx="307.5" cy="88.7" r="0.36"/><circle cx="310.5" cy="88.7" r="0.36"/><circle cx="313.5" cy="88.7" r="0.36"/><circle cx="316.5" cy="88.7" r="0.36"/><circle cx="319.5" cy="88.7" r="0.36"/><circle cx="322.5" cy="88.7" r="0.36"/><circle cx="325.5" cy="88.7" r="0.36"/><circle cx="328.5" cy="88.7" r="0.36"/><circle cx="264.0" cy="91.3" r="0.36"/><circle cx="267.0" cy="91.3" r="0.36"/><circle cx="270.0" cy="91.3" r="0.36"/><circle cx="273.0" cy="91.3" r="0.36"/><circle cx="276.0" cy="91.3" r="0.36"/><circle cx="279.0" cy="91.3" r="0.36"/><circle cx="282.0" cy="91.3" r="0.36"/><circle cx="285.0" cy="91.3" r="0.36"/><circle cx="288.0" cy="91.3" r="0.36"/><circle cx="291.0" cy="91.3" r="0.36"/><circle cx="294.0" cy="91.3" r="0.36"/><circle cx="297.0" cy="91.3" r="0.36"/><circle cx="300.0" cy="91.3" r="0.36"/><circle cx="303.0" cy="91.3" r="0.36"/><circle cx="306.0" cy="91.3" r="0.36"/><circle cx="309.0" cy="91.3" r="0.36"/><circle cx="312.0" cy="91.3" r="0.36"/><circle cx="315.0" cy="91.3" r="0.36"/><circle cx="318.0" cy="91.3" r="0.36"/><circle cx="321.0" cy="91.3" r="0.36"/><circle cx="324.0" cy="91.3" r="0.36"/><circle cx="327.0" cy="91.3" r="0.36"/><circle cx="265.5" cy="93.8" r="0.36"/><circle cx="268.5" cy="93.8" r="0.36"/><circle cx="271.5" cy="93.8" r="0.36"/><circle cx="274.5" cy="93.8" r="0.36"/><circle cx="277.5" cy="93.8" r="0.36"/><circle cx="280.5" cy="93.8" r="0.36"/><circle cx="283.5" cy="93.8" r="0.36"/><circle cx="286.5" cy="93.8" r="0.36"/><circle cx="289.5" cy="93.8" r="0.36"/><circle cx="292.5" cy="93.8" r="0.36"/><circle cx="295.5" cy="93.8" r="0.36"/><circle cx="298.5" cy="93.8" r="0.36"/><circle cx="301.5" cy="93.8" r="0.36"/><circle cx="304.5" cy="93.8" r="0.36"/><circle cx="307.5" cy="93.8" r="0.36"/><circle cx="310.5" cy="93.8" r="0.36"/><circle cx="313.5" cy="93.8" r="0.36"/><circle cx="316.5" cy="93.8" r="0.36"/><circle cx="319.5" cy="93.8" r="0.36"/><circle cx="322.5" cy="93.8" r="0.36"/><circle cx="325.5" cy="93.8" r="0.36"/><circle cx="328.5" cy="93.8" r="0.36"/><circle cx="264.0" cy="96.4" r="0.36"/><circle cx="267.0" cy="96.4" r="0.36"/><circle cx="270.0" cy="96.4" r="0.36"/><circle cx="273.0" cy="96.4" r="0.36"/><circle cx="276.0" cy="96.4" r="0.36"/><circle cx="279.0" cy="96.4" r="0.36"/><circle cx="282.0" cy="96.4" r="0.36"/><circle cx="285.0" cy="96.4" r="0.36"/><circle cx="288.0" cy="96.4" r="0.36"/><circle cx="291.0" cy="96.4" r="0.36"/><circle cx="294.0" cy="96.4" r="0.36"/><circle cx="297.0" cy="96.4" r="0.36"/><circle cx="300.0" cy="96.4" r="0.36"/><circle cx="303.0" cy="96.4" r="0.36"/><circle cx="306.0" cy="96.4" r="0.36"/><circle cx="309.0" cy="96.4" r="0.36"/><circle cx="312.0" cy="96.4" r="0.36"/><circle cx="315.0" cy="96.4" r="0.36"/><circle cx="318.0" cy="96.4" r="0.36"/><circle cx="321.0" cy="96.4" r="0.36"/><circle cx="324.0" cy="96.4" r="0.36"/><circle cx="327.0" cy="96.4" r="0.36"/><circle cx="265.5" cy="98.9" r="0.36"/><circle cx="268.5" cy="98.9" r="0.36"/><circle cx="271.5" cy="98.9" r="0.36"/><circle cx="274.5" cy="98.9" r="0.36"/><circle cx="277.5" cy="98.9" r="0.36"/><circle cx="280.5" cy="98.9" r="0.36"/><circle cx="283.5" cy="98.9" r="0.36"/><circle cx="286.5" cy="98.9" r="0.36"/><circle cx="289.5" cy="98.9" r="0.36"/><circle cx="292.5" cy="98.9" r="0.36"/><circle cx="295.5" cy="98.9" r="0.36"/><circle cx="298.5" cy="98.9" r="0.36"/><circle cx="301.5" cy="98.9" r="0.36"/><circle cx="304.5" cy="98.9" r="0.36"/><circle cx="307.5" cy="98.9" r="0.36"/><circle cx="310.5" cy="98.9" r="0.36"/><circle cx="313.5" cy="98.9" r="0.36"/><circle cx="316.5" cy="98.9" r="0.36"/><circle cx="319.5" cy="98.9" r="0.36"/><circle cx="322.5" cy="98.9" r="0.36"/><circle cx="325.5" cy="98.9" r="0.36"/><circle cx="328.5" cy="98.9" r="0.36"/><circle cx="264.0" cy="101.5" r="0.36"/><circle cx="267.0" cy="101.5" r="0.36"/><circle cx="270.0" cy="101.5" r="0.36"/><circle cx="273.0" cy="101.5" r="0.36"/><circle cx="276.0" cy="101.5" r="0.36"/><circle cx="279.0" cy="101.5" r="0.36"/><circle cx="282.0" cy="101.5" r="0.36"/><circle cx="285.0" cy="101.5" r="0.36"/><circle cx="288.0" cy="101.5" r="0.36"/><circle cx="291.0" cy="101.5" r="0.36"/><circle cx="294.0" cy="101.5" r="0.36"/><circle cx="297.0" cy="101.5" r="0.36"/><circle cx="300.0" cy="101.5" r="0.36"/><circle cx="303.0" cy="101.5" r="0.36"/><circle cx="306.0" cy="101.5" r="0.36"/><circle cx="309.0" cy="101.5" r="0.36"/><circle cx="312.0" cy="101.5" r="0.36"/><circle cx="315.0" cy="101.5" r="0.36"/><circle cx="318.0" cy="101.5" r="0.36"/><circle cx="321.0" cy="101.5" r="0.36"/><circle cx="324.0" cy="101.5" r="0.36"/><circle cx="327.0" cy="101.5" r="0.36"/><circle cx="265.5" cy="104.0" r="0.36"/><circle cx="268.5" cy="104.0" r="0.36"/><circle cx="271.5" cy="104.0" r="0.36"/><circle cx="274.5" cy="104.0" r="0.36"/><circle cx="277.5" cy="104.0" r="0.36"/><circle cx="280.5" cy="104.0" r="0.36"/><circle cx="283.5" cy="104.0" r="0.36"/><circle cx="286.5" cy="104.0" r="0.36"/><circle cx="289.5" cy="104.0" r="0.36"/><circle cx="292.5" cy="104.0" r="0.36"/><circle cx="295.5" cy="104.0" r="0.36"/><circle cx="298.5" cy="104.0" r="0.36"/><circle cx="301.5" cy="104.0" r="0.36"/><circle cx="304.5" cy="104.0" r="0.36"/><circle cx="307.5" cy="104.0" r="0.36"/><circle cx="310.5" cy="104.0" r="0.36"/><circle cx="313.5" cy="104.0" r="0.36"/><circle cx="316.5" cy="104.0" r="0.36"/><circle cx="319.5" cy="104.0" r="0.36"/><circle cx="322.5" cy="104.0" r="0.36"/><circle cx="325.5" cy="104.0" r="0.36"/><circle cx="328.5" cy="104.0" r="0.36"/><circle cx="264.0" cy="106.6" r="0.36"/><circle cx="267.0" cy="106.6" r="0.36"/><circle cx="270.0" cy="106.6" r="0.36"/><circle cx="273.0" cy="106.6" r="0.36"/><circle cx="276.0" cy="106.6" r="0.36"/><circle cx="279.0" cy="106.6" r="0.36"/><circle cx="282.0" cy="106.6" r="0.36"/><circle cx="285.0" cy="106.6" r="0.36"/><circle cx="288.0" cy="106.6" r="0.36"/><circle cx="291.0" cy="106.6" r="0.36"/><circle cx="294.0" cy="106.6" r="0.36"/><circle cx="297.0" cy="106.6" r="0.36"/><circle cx="300.0" cy="106.6" r="0.36"/><circle cx="303.0" cy="106.6" r="0.36"/><circle cx="306.0" cy="106.6" r="0.36"/><circle cx="309.0" cy="106.6" r="0.36"/><circle cx="312.0" cy="106.6" r="0.36"/><circle cx="315.0" cy="106.6" r="0.36"/><circle cx="318.0" cy="106.6" r="0.36"/><circle cx="321.0" cy="106.6" r="0.36"/><circle cx="324.0" cy="106.6" r="0.36"/><circle cx="327.0" cy="106.6" r="0.36"/><circle cx="265.5" cy="109.1" r="0.36"/><circle cx="268.5" cy="109.1" r="0.36"/><circle cx="271.5" cy="109.1" r="0.36"/><circle cx="274.5" cy="109.1" r="0.36"/><circle cx="277.5" cy="109.1" r="0.36"/><circle cx="280.5" cy="109.1" r="0.36"/><circle cx="283.5" cy="109.1" r="0.36"/><circle cx="286.5" cy="109.1" r="0.36"/><circle cx="289.5" cy="109.1" r="0.36"/><circle cx="292.5" cy="109.1" r="0.36"/><circle cx="295.5" cy="109.1" r="0.36"/><circle cx="298.5" cy="109.1" r="0.36"/><circle cx="301.5" cy="109.1" r="0.36"/><circle cx="304.5" cy="109.1" r="0.36"/><circle cx="307.5" cy="109.1" r="0.36"/><circle cx="310.5" cy="109.1" r="0.36"/><circle cx="313.5" cy="109.1" r="0.36"/><circle cx="316.5" cy="109.1" r="0.36"/><circle cx="319.5" cy="109.1" r="0.36"/><circle cx="322.5" cy="109.1" r="0.36"/><circle cx="325.5" cy="109.1" r="0.36"/><circle cx="328.5" cy="109.1" r="0.36"/><circle cx="264.0" cy="111.7" r="0.36"/><circle cx="267.0" cy="111.7" r="0.36"/><circle cx="270.0" cy="111.7" r="0.36"/><circle cx="273.0" cy="111.7" r="0.36"/><circle cx="276.0" cy="111.7" r="0.36"/><circle cx="279.0" cy="111.7" r="0.36"/><circle cx="282.0" cy="111.7" r="0.36"/><circle cx="285.0" cy="111.7" r="0.36"/><circle cx="288.0" cy="111.7" r="0.36"/><circle cx="291.0" cy="111.7" r="0.36"/><circle cx="294.0" cy="111.7" r="0.36"/><circle cx="297.0" cy="111.7" r="0.36"/><circle cx="300.0" cy="111.7" r="0.36"/><circle cx="303.0" cy="111.7" r="0.36"/><circle cx="306.0" cy="111.7" r="0.36"/><circle cx="309.0" cy="111.7" r="0.36"/><circle cx="312.0" cy="111.7" r="0.36"/><circle cx="315.0" cy="111.7" r="0.36"/><circle cx="318.0" cy="111.7" r="0.36"/><circle cx="321.0" cy="111.7" r="0.36"/><circle cx="324.0" cy="111.7" r="0.36"/><circle cx="327.0" cy="111.7" r="0.36"/><circle cx="265.5" cy="114.2" r="0.36"/><circle cx="268.5" cy="114.2" r="0.36"/><circle cx="271.5" cy="114.2" r="0.36"/><circle cx="274.5" cy="114.2" r="0.36"/><circle cx="277.5" cy="114.2" r="0.36"/><circle cx="280.5" cy="114.2" r="0.36"/><circle cx="283.5" cy="114.2" r="0.36"/><circle cx="286.5" cy="114.2" r="0.36"/><circle cx="289.5" cy="114.2" r="0.36"/><circle cx="292.5" cy="114.2" r="0.36"/><circle cx="295.5" cy="114.2" r="0.36"/><circle cx="298.5" cy="114.2" r="0.36"/><circle cx="301.5" cy="114.2" r="0.36"/><circle cx="304.5" cy="114.2" r="0.36"/><circle cx="307.5" cy="114.2" r="0.36"/><circle cx="310.5" cy="114.2" r="0.36"/><circle cx="313.5" cy="114.2" r="0.36"/><circle cx="316.5" cy="114.2" r="0.36"/><circle cx="319.5" cy="114.2" r="0.36"/><circle cx="322.5" cy="114.2" r="0.36"/><circle cx="325.5" cy="114.2" r="0.36"/><circle cx="328.5" cy="114.2" r="0.36"/><circle cx="264.0" cy="116.8" r="0.36"/><circle cx="267.0" cy="116.8" r="0.36"/><circle cx="270.0" cy="116.8" r="0.36"/><circle cx="273.0" cy="116.8" r="0.36"/><circle cx="276.0" cy="116.8" r="0.36"/><circle cx="279.0" cy="116.8" r="0.36"/><circle cx="282.0" cy="116.8" r="0.36"/><circle cx="285.0" cy="116.8" r="0.36"/><circle cx="288.0" cy="116.8" r="0.36"/><circle cx="291.0" cy="116.8" r="0.36"/><circle cx="294.0" cy="116.8" r="0.36"/><circle cx="297.0" cy="116.8" r="0.36"/><circle cx="300.0" cy="116.8" r="0.36"/><circle cx="303.0" cy="116.8" r="0.36"/><circle cx="306.0" cy="116.8" r="0.36"/><circle cx="309.0" cy="116.8" r="0.36"/><circle cx="312.0" cy="116.8" r="0.36"/><circle cx="315.0" cy="116.8" r="0.36"/><circle cx="318.0" cy="116.8" r="0.36"/><circle cx="321.0" cy="116.8" r="0.36"/><circle cx="324.0" cy="116.8" r="0.36"/><circle cx="327.0" cy="116.8" r="0.36"/><circle cx="265.5" cy="119.3" r="0.36"/><circle cx="268.5" cy="119.3" r="0.36"/><circle cx="271.5" cy="119.3" r="0.36"/><circle cx="274.5" cy="119.3" r="0.36"/><circle cx="277.5" cy="119.3" r="0.36"/><circle cx="280.5" cy="119.3" r="0.36"/><circle cx="283.5" cy="119.3" r="0.36"/><circle cx="286.5" cy="119.3" r="0.36"/><circle cx="289.5" cy="119.3" r="0.36"/><circle cx="292.5" cy="119.3" r="0.36"/><circle cx="295.5" cy="119.3" r="0.36"/><circle cx="298.5" cy="119.3" r="0.36"/><circle cx="301.5" cy="119.3" r="0.36"/><circle cx="304.5" cy="119.3" r="0.36"/><circle cx="307.5" cy="119.3" r="0.36"/><circle cx="310.5" cy="119.3" r="0.36"/><circle cx="313.5" cy="119.3" r="0.36"/><circle cx="316.5" cy="119.3" r="0.36"/><circle cx="319.5" cy="119.3" r="0.36"/><circle cx="322.5" cy="119.3" r="0.36"/><circle cx="325.5" cy="119.3" r="0.36"/><circle cx="328.5" cy="119.3" r="0.36"/><circle cx="264.0" cy="121.9" r="0.36"/><circle cx="267.0" cy="121.9" r="0.36"/><circle cx="270.0" cy="121.9" r="0.36"/><circle cx="273.0" cy="121.9" r="0.36"/><circle cx="276.0" cy="121.9" r="0.36"/><circle cx="279.0" cy="121.9" r="0.36"/><circle cx="282.0" cy="121.9" r="0.36"/><circle cx="285.0" cy="121.9" r="0.36"/><circle cx="288.0" cy="121.9" r="0.36"/><circle cx="291.0" cy="121.9" r="0.36"/><circle cx="294.0" cy="121.9" r="0.36"/><circle cx="297.0" cy="121.9" r="0.36"/><circle cx="300.0" cy="121.9" r="0.36"/><circle cx="303.0" cy="121.9" r="0.36"/><circle cx="306.0" cy="121.9" r="0.36"/><circle cx="309.0" cy="121.9" r="0.36"/><circle cx="312.0" cy="121.9" r="0.36"/><circle cx="315.0" cy="121.9" r="0.36"/><circle cx="318.0" cy="121.9" r="0.36"/><circle cx="321.0" cy="121.9" r="0.36"/><circle cx="324.0" cy="121.9" r="0.36"/><circle cx="327.0" cy="121.9" r="0.36"/><circle cx="265.5" cy="124.4" r="0.36"/><circle cx="268.5" cy="124.4" r="0.36"/><circle cx="271.5" cy="124.4" r="0.36"/><circle cx="274.5" cy="124.4" r="0.36"/><circle cx="277.5" cy="124.4" r="0.36"/><circle cx="280.5" cy="124.4" r="0.36"/><circle cx="283.5" cy="124.4" r="0.36"/><circle cx="286.5" cy="124.4" r="0.36"/><circle cx="289.5" cy="124.4" r="0.36"/><circle cx="292.5" cy="124.4" r="0.36"/><circle cx="295.5" cy="124.4" r="0.36"/><circle cx="298.5" cy="124.4" r="0.36"/><circle cx="301.5" cy="124.4" r="0.36"/><circle cx="304.5" cy="124.4" r="0.36"/><circle cx="307.5" cy="124.4" r="0.36"/><circle cx="310.5" cy="124.4" r="0.36"/><circle cx="313.5" cy="124.4" r="0.36"/><circle cx="316.5" cy="124.4" r="0.36"/><circle cx="319.5" cy="124.4" r="0.36"/><circle cx="322.5" cy="124.4" r="0.36"/><circle cx="325.5" cy="124.4" r="0.36"/><circle cx="328.5" cy="124.4" r="0.36"/><circle cx="264.0" cy="127.0" r="0.36"/><circle cx="267.0" cy="127.0" r="0.36"/><circle cx="270.0" cy="127.0" r="0.36"/><circle cx="273.0" cy="127.0" r="0.36"/><circle cx="276.0" cy="127.0" r="0.36"/><circle cx="279.0" cy="127.0" r="0.36"/><circle cx="282.0" cy="127.0" r="0.36"/><circle cx="285.0" cy="127.0" r="0.36"/><circle cx="288.0" cy="127.0" r="0.36"/><circle cx="291.0" cy="127.0" r="0.36"/><circle cx="294.0" cy="127.0" r="0.36"/><circle cx="297.0" cy="127.0" r="0.36"/><circle cx="300.0" cy="127.0" r="0.36"/><circle cx="303.0" cy="127.0" r="0.36"/><circle cx="306.0" cy="127.0" r="0.36"/><circle cx="309.0" cy="127.0" r="0.36"/><circle cx="312.0" cy="127.0" r="0.36"/><circle cx="315.0" cy="127.0" r="0.36"/><circle cx="318.0" cy="127.0" r="0.36"/><circle cx="321.0" cy="127.0" r="0.36"/><circle cx="324.0" cy="127.0" r="0.36"/><circle cx="327.0" cy="127.0" r="0.36"/><circle cx="265.5" cy="129.5" r="0.36"/><circle cx="268.5" cy="129.5" r="0.36"/><circle cx="271.5" cy="129.5" r="0.36"/><circle cx="274.5" cy="129.5" r="0.36"/><circle cx="277.5" cy="129.5" r="0.36"/><circle cx="280.5" cy="129.5" r="0.36"/><circle cx="283.5" cy="129.5" r="0.36"/><circle cx="286.5" cy="129.5" r="0.36"/><circle cx="289.5" cy="129.5" r="0.36"/><circle cx="292.5" cy="129.5" r="0.36"/><circle cx="295.5" cy="129.5" r="0.36"/><circle cx="298.5" cy="129.5" r="0.36"/><circle cx="301.5" cy="129.5" r="0.36"/><circle cx="304.5" cy="129.5" r="0.36"/><circle cx="307.5" cy="129.5" r="0.36"/><circle cx="310.5" cy="129.5" r="0.36"/><circle cx="313.5" cy="129.5" r="0.36"/><circle cx="316.5" cy="129.5" r="0.36"/><circle cx="319.5" cy="129.5" r="0.36"/><circle cx="322.5" cy="129.5" r="0.36"/><circle cx="325.5" cy="129.5" r="0.36"/><circle cx="328.5" cy="129.5" r="0.36"/><circle cx="264.0" cy="132.1" r="0.36"/><circle cx="267.0" cy="132.1" r="0.36"/><circle cx="270.0" cy="132.1" r="0.36"/><circle cx="273.0" cy="132.1" r="0.36"/><circle cx="276.0" cy="132.1" r="0.36"/><circle cx="279.0" cy="132.1" r="0.36"/><circle cx="282.0" cy="132.1" r="0.36"/><circle cx="285.0" cy="132.1" r="0.36"/><circle cx="288.0" cy="132.1" r="0.36"/><circle cx="291.0" cy="132.1" r="0.36"/><circle cx="294.0" cy="132.1" r="0.36"/><circle cx="297.0" cy="132.1" r="0.36"/><circle cx="300.0" cy="132.1" r="0.36"/><circle cx="303.0" cy="132.1" r="0.36"/><circle cx="306.0" cy="132.1" r="0.36"/><circle cx="309.0" cy="132.1" r="0.36"/><circle cx="312.0" cy="132.1" r="0.36"/><circle cx="315.0" cy="132.1" r="0.36"/><circle cx="318.0" cy="132.1" r="0.36"/><circle cx="321.0" cy="132.1" r="0.36"/><circle cx="324.0" cy="132.1" r="0.36"/><circle cx="327.0" cy="132.1" r="0.36"/><circle cx="265.5" cy="134.6" r="0.36"/><circle cx="268.5" cy="134.6" r="0.36"/><circle cx="271.5" cy="134.6" r="0.36"/><circle cx="274.5" cy="134.6" r="0.36"/><circle cx="277.5" cy="134.6" r="0.36"/><circle cx="280.5" cy="134.6" r="0.36"/><circle cx="283.5" cy="134.6" r="0.36"/><circle cx="286.5" cy="134.6" r="0.36"/><circle cx="289.5" cy="134.6" r="0.36"/><circle cx="292.5" cy="134.6" r="0.36"/><circle cx="295.5" cy="134.6" r="0.36"/><circle cx="298.5" cy="134.6" r="0.36"/><circle cx="301.5" cy="134.6" r="0.36"/><circle cx="304.5" cy="134.6" r="0.36"/><circle cx="307.5" cy="134.6" r="0.36"/><circle cx="310.5" cy="134.6" r="0.36"/><circle cx="313.5" cy="134.6" r="0.36"/><circle cx="316.5" cy="134.6" r="0.36"/><circle cx="319.5" cy="134.6" r="0.36"/><circle cx="322.5" cy="134.6" r="0.36"/><circle cx="325.5" cy="134.6" r="0.36"/><circle cx="328.5" cy="134.6" r="0.36"/><circle cx="264.0" cy="137.2" r="0.36"/><circle cx="267.0" cy="137.2" r="0.36"/><circle cx="270.0" cy="137.2" r="0.36"/><circle cx="273.0" cy="137.2" r="0.36"/><circle cx="276.0" cy="137.2" r="0.36"/><circle cx="279.0" cy="137.2" r="0.36"/><circle cx="282.0" cy="137.2" r="0.36"/><circle cx="285.0" cy="137.2" r="0.36"/><circle cx="288.0" cy="137.2" r="0.36"/><circle cx="291.0" cy="137.2" r="0.36"/><circle cx="294.0" cy="137.2" r="0.36"/><circle cx="297.0" cy="137.2" r="0.36"/><circle cx="300.0" cy="137.2" r="0.36"/><circle cx="303.0" cy="137.2" r="0.36"/><circle cx="306.0" cy="137.2" r="0.36"/><circle cx="309.0" cy="137.2" r="0.36"/><circle cx="312.0" cy="137.2" r="0.36"/><circle cx="315.0" cy="137.2" r="0.36"/><circle cx="318.0" cy="137.2" r="0.36"/><circle cx="321.0" cy="137.2" r="0.36"/><circle cx="324.0" cy="137.2" r="0.36"/><circle cx="327.0" cy="137.2" r="0.36"/><circle cx="265.5" cy="139.8" r="0.36"/><circle cx="268.5" cy="139.8" r="0.36"/><circle cx="271.5" cy="139.8" r="0.36"/><circle cx="274.5" cy="139.8" r="0.36"/><circle cx="277.5" cy="139.8" r="0.36"/><circle cx="280.5" cy="139.8" r="0.36"/><circle cx="283.5" cy="139.8" r="0.36"/><circle cx="286.5" cy="139.8" r="0.36"/><circle cx="289.5" cy="139.8" r="0.36"/><circle cx="292.5" cy="139.8" r="0.36"/><circle cx="295.5" cy="139.8" r="0.36"/><circle cx="298.5" cy="139.8" r="0.36"/><circle cx="301.5" cy="139.8" r="0.36"/><circle cx="304.5" cy="139.8" r="0.36"/><circle cx="307.5" cy="139.8" r="0.36"/><circle cx="310.5" cy="139.8" r="0.36"/><circle cx="313.5" cy="139.8" r="0.36"/><circle cx="316.5" cy="139.8" r="0.36"/><circle cx="319.5" cy="139.8" r="0.36"/><circle cx="322.5" cy="139.8" r="0.36"/><circle cx="325.5" cy="139.8" r="0.36"/><circle cx="328.5" cy="139.8" r="0.36"/><circle cx="264.0" cy="142.3" r="0.36"/><circle cx="267.0" cy="142.3" r="0.36"/><circle cx="270.0" cy="142.3" r="0.36"/><circle cx="273.0" cy="142.3" r="0.36"/><circle cx="276.0" cy="142.3" r="0.36"/><circle cx="279.0" cy="142.3" r="0.36"/><circle cx="282.0" cy="142.3" r="0.36"/><circle cx="285.0" cy="142.3" r="0.36"/><circle cx="288.0" cy="142.3" r="0.36"/><circle cx="291.0" cy="142.3" r="0.36"/><circle cx="294.0" cy="142.3" r="0.36"/><circle cx="297.0" cy="142.3" r="0.36"/><circle cx="300.0" cy="142.3" r="0.36"/><circle cx="303.0" cy="142.3" r="0.36"/><circle cx="306.0" cy="142.3" r="0.36"/><circle cx="309.0" cy="142.3" r="0.36"/><circle cx="312.0" cy="142.3" r="0.36"/><circle cx="315.0" cy="142.3" r="0.36"/><circle cx="318.0" cy="142.3" r="0.36"/><circle cx="321.0" cy="142.3" r="0.36"/><circle cx="324.0" cy="142.3" r="0.36"/><circle cx="327.0" cy="142.3" r="0.36"/><circle cx="265.5" cy="144.9" r="0.36"/><circle cx="268.5" cy="144.9" r="0.36"/><circle cx="271.5" cy="144.9" r="0.36"/><circle cx="274.5" cy="144.9" r="0.36"/><circle cx="277.5" cy="144.9" r="0.36"/><circle cx="280.5" cy="144.9" r="0.36"/><circle cx="283.5" cy="144.9" r="0.36"/><circle cx="286.5" cy="144.9" r="0.36"/><circle cx="289.5" cy="144.9" r="0.36"/><circle cx="292.5" cy="144.9" r="0.36"/><circle cx="295.5" cy="144.9" r="0.36"/><circle cx="298.5" cy="144.9" r="0.36"/><circle cx="301.5" cy="144.9" r="0.36"/><circle cx="304.5" cy="144.9" r="0.36"/><circle cx="307.5" cy="144.9" r="0.36"/><circle cx="310.5" cy="144.9" r="0.36"/><circle cx="313.5" cy="144.9" r="0.36"/><circle cx="316.5" cy="144.9" r="0.36"/><circle cx="319.5" cy="144.9" r="0.36"/><circle cx="322.5" cy="144.9" r="0.36"/><circle cx="325.5" cy="144.9" r="0.36"/><circle cx="328.5" cy="144.9" r="0.36"/><circle cx="264.0" cy="147.4" r="0.36"/><circle cx="267.0" cy="147.4" r="0.36"/><circle cx="270.0" cy="147.4" r="0.36"/><circle cx="273.0" cy="147.4" r="0.36"/><circle cx="276.0" cy="147.4" r="0.36"/><circle cx="279.0" cy="147.4" r="0.36"/><circle cx="282.0" cy="147.4" r="0.36"/><circle cx="285.0" cy="147.4" r="0.36"/><circle cx="288.0" cy="147.4" r="0.36"/><circle cx="291.0" cy="147.4" r="0.36"/><circle cx="294.0" cy="147.4" r="0.36"/><circle cx="297.0" cy="147.4" r="0.36"/><circle cx="300.0" cy="147.4" r="0.36"/><circle cx="303.0" cy="147.4" r="0.36"/><circle cx="306.0" cy="147.4" r="0.36"/><circle cx="309.0" cy="147.4" r="0.36"/><circle cx="312.0" cy="147.4" r="0.36"/><circle cx="315.0" cy="147.4" r="0.36"/><circle cx="318.0" cy="147.4" r="0.36"/><circle cx="321.0" cy="147.4" r="0.36"/><circle cx="324.0" cy="147.4" r="0.36"/><circle cx="327.0" cy="147.4" r="0.36"/></g>
<path d="M285.5,79.3 C286.6,79.6 290.3,79.8 291.8,81.2 C293.3,82.6 294.2,84.3 294.3,87.4 C294.4,90.5 293.5,96.2 292.4,99.9 C291.2,103.6 288.8,106.5 287.4,109.8 C285.9,113.1 284.2,116.5 283.7,119.8 C283.2,123.1 283.3,127.3 284.3,129.8 C285.3,132.3 287.7,133.9 289.9,134.7 C292.1,135.5 295.3,135.7 297.4,134.7 C299.5,133.7 301.4,131.6 302.4,128.5 C303.4,125.4 303.6,120.7 303.6,116.1 C303.6,111.5 302.7,105.5 302.4,101.1 C302.1,96.7 301.5,92.4 301.7,89.9 C301.9,87.4 302.2,86.9 303.6,86.2 C305.0,85.5 307.8,85.5 309.8,85.5 C311.8,85.5 314.5,85.8 315.4,85.9" fill="none" stroke="#2a1ef0" stroke-width="1.5"/>
<path d="M284.8,79.1 L287.7,78.3 L286.8,81.4 Z" fill="#2a1ef0"/>
<path d="M316.8,86.0 L314.2,87.6 L314.2,84.4 Z" fill="#2a1ef0"/>
<line x1="300.8" y1="80.5" x2="292.6" y2="128.5" stroke="#9ccc3c" stroke-width="1.4"/>
<path d="M301.3,77.4 L302.4,80.0 L299.4,79.5 Z" fill="#95c83a"/>
<path d="M292.2,131.2 L291.1,128.6 L294.1,129.1 Z" fill="#95c83a"/>
<path d="M291.2,121.5 a2.4,2.6 0 0 0 4.8,0" fill="none" stroke="#49b7c8" stroke-width="0.7"/>
<line x1="279" y1="134.5" x2="286" y2="130" stroke="#8a2a8f" stroke-width="1.2"/>
<path d="M277.3,135.5 L278.4,133.3 L279.8,135.5 Z" fill="#8a2a8f"/>
<path d="M287.6,129.0 L286.5,131.2 L285.1,129.0 Z" fill="#8a2a8f"/>
<text x="198.4" y="78.2" font-size="9" fill="#8db32e" text-anchor="start" font-weight="bold" >4.34 mm</text>
<text x="178.0" y="99.0" font-size="9" fill="#3a22ee" text-anchor="middle" font-weight="bold" >14.70</text>
<text x="177.5" y="108.4" font-size="9" fill="#3a22ee" text-anchor="middle" font-weight="bold" >mm</text>
<text x="186.2" y="136.4" font-size="9" fill="#8a2a8f" text-anchor="middle" font-weight="bold" >2.29</text>
<text x="186.0" y="145.2" font-size="9" fill="#8a2a8f" text-anchor="middle" font-weight="bold" >mm</text>
<text x="222.4" y="145.6" font-size="9" fill="#3aa9b9" text-anchor="middle" font-weight="bold" >0.15</text>
<text x="221.0" y="154.2" font-size="9" fill="#3aa9b9" text-anchor="middle" font-weight="bold" >mm<tspan font-size="6" dy="-3">-1</tspan></text>
<circle cx="170.8" cy="175" r="2.1" fill="#000"/>
<text x="175.5" y="178.2" font-size="9" fill="#000" text-anchor="start" font-weight="bold" >0.46 s<tspan font-size="6" dy="-3">-1</tspan></text>
<text x="304.8" y="75.1" font-size="9" fill="#8db32e" text-anchor="middle" font-weight="bold" >5.29 mm</text>
<text x="341.6" y="99.0" font-size="9" fill="#3a22ee" text-anchor="middle" font-weight="bold" >19.75</text>
<text x="341.6" y="108.9" font-size="9" fill="#3a22ee" text-anchor="middle" font-weight="bold" >mm</text>
<text x="264.2" y="143.5" font-size="9" fill="#8a2a8f" text-anchor="middle" font-weight="bold" >3.17</text>
<text x="264.3" y="152.7" font-size="9" fill="#8a2a8f" text-anchor="middle" font-weight="bold" >mm</text>
<text x="313.2" y="154.2" font-size="9" fill="#3aa9b9" text-anchor="middle" font-weight="bold" >0.10</text>
<text x="312.5" y="162.8" font-size="9" fill="#3aa9b9" text-anchor="middle" font-weight="bold" >mm<tspan font-size="6" dy="-3">-1</tspan></text>
<circle cx="274.2" cy="175" r="2.1" fill="#000"/>
<text x="278.4" y="178.2" font-size="9" fill="#000" text-anchor="start" font-weight="bold" >0.63 s<tspan font-size="6" dy="-3">-1</tspan></text>
<g transform="rotate(-28 58 154)"><rect x="45" y="145" width="26" height="17" rx="5" fill="none" stroke="#f0f0f0" stroke-width="1" stroke-dasharray="1,1.6"/></g>
<path d="M47.8,161.0 C48.6,160.7 51.3,158.9 52.5,159.2 C53.7,159.5 54.0,162.5 54.9,162.7 C55.8,162.9 57.4,161.9 57.8,160.4 C58.2,158.9 57.7,155.1 57.2,153.4 C56.7,151.7 54.9,151.2 54.9,150.4 C54.9,149.6 56.3,148.5 57.2,148.7 C58.1,148.9 59.4,150.4 60.1,151.6 C60.8,152.8 60.7,154.6 61.3,155.7 C61.9,156.8 62.7,157.8 63.6,158.0 C64.5,158.2 65.6,157.7 66.5,156.9 C67.4,156.1 68.5,154.0 68.9,153.4" fill="none" stroke="#4f7ff0" stroke-width="4" stroke-linecap="round"/>
<path d="M47.8,161.0 C48.6,160.7 51.3,158.9 52.5,159.2 C53.7,159.5 54.0,162.5 54.9,162.7 C55.8,162.9 57.4,161.9 57.8,160.4 C58.2,158.9 57.7,155.1 57.2,153.4 C56.7,151.7 54.9,151.2 54.9,150.4 C54.9,149.6 56.3,148.5 57.2,148.7 C58.1,148.9 59.4,150.4 60.1,151.6 C60.8,152.8 60.7,154.6 61.3,155.7 C61.9,156.8 62.7,157.8 63.6,158.0 C64.5,158.2 65.6,157.7 66.5,156.9 C67.4,156.1 68.5,154.0 68.9,153.4" fill="none" stroke="#9cb8f0" stroke-width="2.2" stroke-linecap="round"/>
<circle cx="48.4" cy="160.6" r="1.3" fill="#d8a8b0"/><circle cx="68.3" cy="154.5" r="1.3" fill="#d8a8b0"/>
<polygon points="406,147 423,138.4 439,166 421,174.5" fill="none" stroke="#eee" stroke-width="1.1" stroke-dasharray="3,2.2"/>
<path d="M405.9,165.0 C406.8,164.2 410.0,160.5 411.6,160.2 C413.2,159.9 414.4,163.7 415.4,163.1 C416.3,162.5 417.1,158.8 417.3,156.4 C417.5,154.0 415.8,150.4 416.4,148.8 C417.0,147.2 419.7,146.4 421.1,146.9 C422.5,147.4 424.4,149.8 424.9,151.7 C425.4,153.6 423.6,156.7 423.9,158.3 C424.2,159.9 425.4,160.9 426.8,161.2 C428.2,161.5 430.6,160.7 432.5,160.2 C434.4,159.7 437.1,158.6 438.0,158.3" fill="none" stroke="#3b6be8" stroke-width="6.4" stroke-linecap="round" stroke-linejoin="round"/>
<path d="M405.9,165.0 C406.8,164.2 410.0,160.5 411.6,160.2 C413.2,159.9 414.4,163.7 415.4,163.1 C416.3,162.5 417.1,158.8 417.3,156.4 C417.5,154.0 415.8,150.4 416.4,148.8 C417.0,147.2 419.7,146.4 421.1,146.9 C422.5,147.4 424.4,149.8 424.9,151.7 C425.4,153.6 423.6,156.7 423.9,158.3 C424.2,159.9 425.4,160.9 426.8,161.2 C428.2,161.5 430.6,160.7 432.5,160.2 C434.4,159.7 437.1,158.6 438.0,158.3" fill="none" stroke="#7a9cf0" stroke-width="4.4" stroke-linecap="round" stroke-linejoin="round"/>
<path d="M405.9,165.0 C406.8,164.2 410.0,160.5 411.6,160.2 C413.2,159.9 414.4,163.7 415.4,163.1 C416.3,162.5 417.1,158.8 417.3,156.4 C417.5,154.0 415.8,150.4 416.4,148.8 C417.0,147.2 419.7,146.4 421.1,146.9 C422.5,147.4 424.4,149.8 424.9,151.7 C425.4,153.6 423.6,156.7 423.9,158.3 C424.2,159.9 425.4,160.9 426.8,161.2 C428.2,161.5 430.6,160.7 432.5,160.2 C434.4,159.7 437.1,158.6 438.0,158.3" fill="none" stroke="#a88890" stroke-width="1.2" stroke-linecap="round" opacity="0.6"/>
<line x1="564" y1="84.8" x2="588" y2="84.8" stroke="#7fb52c" stroke-width="1.8"/>
<path d="M561,84.8 l5,-3.2 v6.4 z M591,84.8 l-5,-3.2 v6.4 z" fill="#7fb52c"/>
<text x="600.8" y="88.0" font-size="11" fill="#7fb52c" text-anchor="start" font-weight="bold" >Sulcal depth</text>
<line x1="564" y1="105.1" x2="588" y2="105.1" stroke="#3a22ee" stroke-width="1.8"/>
<path d="M561,105.1 l5,-3.2 v6.4 z M591,105.1 l-5,-3.2 v6.4 z" fill="#3a22ee"/>
<text x="600.8" y="108.3" font-size="11" fill="#3a22ee" text-anchor="start" font-weight="bold" >Sulcal span</text>
<line x1="564" y1="126.2" x2="588" y2="126.2" stroke="#8a2a8f" stroke-width="1.8"/>
<path d="M561,126.2 l5,-3.2 v6.4 z M591,126.2 l-5,-3.2 v6.4 z" fill="#8a2a8f"/>
<text x="600.8" y="129.4" font-size="11" fill="#8a2a8f" text-anchor="start" font-weight="bold" >Thickness</text>
<line x1="564" y1="144.9" x2="588" y2="144.9" stroke="#3aa9b9" stroke-width="1.8"/>
<path d="M561,144.9 l5,-3.2 v6.4 z M591,144.9 l-5,-3.2 v6.4 z" fill="#3aa9b9"/>
<text x="600.8" y="148.1" font-size="11" fill="#3aa9b9" text-anchor="start" font-weight="bold" >Curvature</text>
<circle cx="576" cy="162.6" r="2.2" fill="#000"/>
<text x="601.0" y="167.8" font-size="11" fill="#000" text-anchor="start" font-weight="bold" >R<tspan font-size="7" dy="2">1</tspan></text>
<text x="4.0" y="208.5" font-size="12" fill="#000" text-anchor="start" >(b)</text>
<text x="21.9" y="208.9" font-size="11" fill="#000" text-anchor="start" font-style="italic" >LH</text>
<g fill="none" stroke="#e0e0e0" stroke-width="0.65"><circle cx="46.2" cy="279.0" r="4.32"/><circle cx="46.2" cy="279.0" r="8.64"/><circle cx="46.2" cy="279.0" r="12.96"/><circle cx="46.2" cy="279.0" r="17.28"/><circle cx="46.2" cy="279.0" r="21.60"/><circle cx="46.2" cy="279.0" r="25.92"/><circle cx="46.2" cy="279.0" r="30.24"/><circle cx="46.2" cy="279.0" r="34.56"/><circle cx="46.2" cy="279.0" r="38.88"/><circle cx="46.2" cy="279.0" r="43.20"/><line x1="46.2" y1="279.0" x2="71.6" y2="244.1"/><line x1="46.2" y1="279.0" x2="87.3" y2="292.3"/><line x1="46.2" y1="279.0" x2="46.2" y2="322.2"/><line x1="46.2" y1="279.0" x2="5.1" y2="292.3"/><line x1="46.2" y1="279.0" x2="20.8" y2="244.1"/></g>
<polygon points="62.7,256.3 61.4,283.9 46.2,301.0 35.0,282.6 37.7,267.4" fill="none" stroke="#aeeef6" stroke-width="2.0" stroke-linejoin="miter" stroke-miterlimit="10"/>
<polygon points="63.0,255.8 64.5,285.0 46.2,299.4 32.8,283.3 33.3,261.3" fill="none" stroke="#82b2b8" stroke-width="2.0" stroke-linejoin="miter" stroke-miterlimit="10"/>
<polygon points="63.3,255.5 66.7,285.6 46.2,298.3 31.4,283.8 30.3,257.1" fill="none" stroke="#57777b" stroke-width="2.0" stroke-linejoin="miter" stroke-miterlimit="10"/>
<polygon points="63.7,255.0 69.6,286.6 46.2,296.8 29.4,284.5 26.1,251.3" fill="none" stroke="#000" stroke-width="2.3" stroke-linejoin="miter" stroke-miterlimit="10"/>
<text x="48.8" y="228.9" font-size="15.4" fill="#aeeef6" text-anchor="middle" font-weight="bold" >calc</text>
<g fill="none" stroke="#e0e0e0" stroke-width="0.65"><circle cx="130.8" cy="279.0" r="4.32"/><circle cx="130.8" cy="279.0" r="8.64"/><circle cx="130.8" cy="279.0" r="12.96"/><circle cx="130.8" cy="279.0" r="17.28"/><circle cx="130.8" cy="279.0" r="21.60"/><circle cx="130.8" cy="279.0" r="25.92"/><circle cx="130.8" cy="279.0" r="30.24"/><circle cx="130.8" cy="279.0" r="34.56"/><circle cx="130.8" cy="279.0" r="38.88"/><circle cx="130.8" cy="279.0" r="43.20"/><line x1="130.8" y1="279.0" x2="156.2" y2="244.1"/><line x1="130.8" y1="279.0" x2="171.9" y2="292.3"/><line x1="130.8" y1="279.0" x2="130.8" y2="322.2"/><line x1="130.8" y1="279.0" x2="89.7" y2="292.3"/><line x1="130.8" y1="279.0" x2="105.4" y2="244.1"/></g>
<polygon points="150.2,252.3 138.4,281.5 130.8,286.5 108.0,286.4 124.6,270.5" fill="none" stroke="#9dbff2" stroke-width="2.0" stroke-linejoin="miter" stroke-miterlimit="10"/>
<polygon points="150.8,251.5 138.7,281.6 130.8,284.8 103.4,287.9 121.4,266.0" fill="none" stroke="#768fb6" stroke-width="2.0" stroke-linejoin="miter" stroke-miterlimit="10"/>
<polygon points="151.2,251.0 139.0,281.7 130.8,283.6 100.2,288.9 119.2,263.0" fill="none" stroke="#4e6079" stroke-width="2.0" stroke-linejoin="miter" stroke-miterlimit="10"/>
<polygon points="151.7,250.2 139.3,281.8 130.8,282.0 95.9,290.3 116.1,258.8" fill="none" stroke="#000" stroke-width="2.3" stroke-linejoin="miter" stroke-miterlimit="10"/>
<text x="130.0" y="228.9" font-size="15.4" fill="#9dbff2" text-anchor="middle" font-weight="bold" >insula</text>
<g fill="none" stroke="#e0e0e0" stroke-width="0.65"><circle cx="215.5" cy="279.0" r="4.32"/><circle cx="215.5" cy="279.0" r="8.64"/><circle cx="215.5" cy="279.0" r="12.96"/><circle cx="215.5" cy="279.0" r="17.28"/><circle cx="215.5" cy="279.0" r="21.60"/><circle cx="215.5" cy="279.0" r="25.92"/><circle cx="215.5" cy="279.0" r="30.24"/><circle cx="215.5" cy="279.0" r="34.56"/><circle cx="215.5" cy="279.0" r="38.88"/><circle cx="215.5" cy="279.0" r="43.20"/><line x1="215.5" y1="279.0" x2="240.9" y2="244.1"/><line x1="215.5" y1="279.0" x2="256.6" y2="292.3"/><line x1="215.5" y1="279.0" x2="215.5" y2="322.2"/><line x1="215.5" y1="279.0" x2="174.4" y2="292.3"/><line x1="215.5" y1="279.0" x2="190.1" y2="244.1"/></g>
<polygon points="232.0,256.3 223.1,281.5 215.5,300.7 202.2,283.3 210.2,271.7" fill="none" stroke="#5b8ef2" stroke-width="2.0" stroke-linejoin="miter" stroke-miterlimit="10"/>
<polygon points="232.4,255.8 223.9,281.7 215.5,297.5 197.8,284.8 205.5,265.2" fill="none" stroke="#446ab6" stroke-width="2.0" stroke-linejoin="miter" stroke-miterlimit="10"/>
<polygon points="232.7,255.4 224.4,281.9 215.5,295.3 194.8,285.7 202.2,260.7" fill="none" stroke="#2e4779" stroke-width="2.0" stroke-linejoin="miter" stroke-miterlimit="10"/>
<polygon points="233.1,254.8 225.2,282.2 215.5,292.2 190.6,287.1 197.7,254.5" fill="none" stroke="#000" stroke-width="2.3" stroke-linejoin="miter" stroke-miterlimit="10"/>
<text x="215.9" y="228.9" font-size="15.4" fill="#5b8ef2" text-anchor="middle" font-weight="bold" >cing</text>
<g fill="none" stroke="#e0e0e0" stroke-width="0.65"><circle cx="300.6" cy="279.0" r="4.32"/><circle cx="300.6" cy="279.0" r="8.64"/><circle cx="300.6" cy="279.0" r="12.96"/><circle cx="300.6" cy="279.0" r="17.28"/><circle cx="300.6" cy="279.0" r="21.60"/><circle cx="300.6" cy="279.0" r="25.92"/><circle cx="300.6" cy="279.0" r="30.24"/><circle cx="300.6" cy="279.0" r="34.56"/><circle cx="300.6" cy="279.0" r="38.88"/><circle cx="300.6" cy="279.0" r="43.20"/><line x1="300.6" y1="279.0" x2="326.0" y2="244.1"/><line x1="300.6" y1="279.0" x2="341.7" y2="292.3"/><line x1="300.6" y1="279.0" x2="300.6" y2="322.2"/><line x1="300.6" y1="279.0" x2="259.5" y2="292.3"/><line x1="300.6" y1="279.0" x2="275.2" y2="244.1"/></g>
<polygon points="318.8,253.9 313.9,283.3 300.6,298.7 287.6,283.2 295.0,271.2" fill="none" stroke="#3350e6" stroke-width="2.0" stroke-linejoin="miter" stroke-miterlimit="10"/>
<polygon points="318.9,253.9 316.4,284.1 300.6,295.7 282.6,284.8 290.0,264.4" fill="none" stroke="#263cac" stroke-width="2.0" stroke-linejoin="miter" stroke-miterlimit="10"/>
<polygon points="318.9,253.8 318.2,284.7 300.6,293.6 279.2,285.9 286.6,259.7" fill="none" stroke="#1a2873" stroke-width="2.0" stroke-linejoin="miter" stroke-miterlimit="10"/>
<polygon points="318.9,253.8 320.6,285.5 300.6,290.8 274.5,287.5 281.9,253.3" fill="none" stroke="#000" stroke-width="2.3" stroke-linejoin="miter" stroke-miterlimit="10"/>
<text x="302.5" y="228.9" font-size="15.4" fill="#3350e6" text-anchor="middle" font-weight="bold" >pos</text>
<g fill="none" stroke="#e0e0e0" stroke-width="0.65"><circle cx="386.0" cy="279.0" r="4.32"/><circle cx="386.0" cy="279.0" r="8.64"/><circle cx="386.0" cy="279.0" r="12.96"/><circle cx="386.0" cy="279.0" r="17.28"/><circle cx="386.0" cy="279.0" r="21.60"/><circle cx="386.0" cy="279.0" r="25.92"/><circle cx="386.0" cy="279.0" r="30.24"/><circle cx="386.0" cy="279.0" r="34.56"/><circle cx="386.0" cy="279.0" r="38.88"/><circle cx="386.0" cy="279.0" r="43.20"/><line x1="386.0" y1="279.0" x2="411.4" y2="244.1"/><line x1="386.0" y1="279.0" x2="427.1" y2="292.3"/><line x1="386.0" y1="279.0" x2="386.0" y2="322.2"/><line x1="386.0" y1="279.0" x2="344.9" y2="292.3"/><line x1="386.0" y1="279.0" x2="360.6" y2="244.1"/></g>
<polygon points="399.3,260.7 394.2,281.7 386.0,296.1 371.1,283.9 377.4,267.2" fill="none" stroke="#a6e67e" stroke-width="2.0" stroke-linejoin="miter" stroke-miterlimit="10"/>
<polygon points="400.1,259.6 395.4,282.1 386.0,293.6 372.6,283.4 373.2,261.4" fill="none" stroke="#7cac5e" stroke-width="2.0" stroke-linejoin="miter" stroke-miterlimit="10"/>
<polygon points="400.7,258.8 396.3,282.3 386.0,291.9 373.6,283.0 370.4,257.5" fill="none" stroke="#53733f" stroke-width="2.0" stroke-linejoin="miter" stroke-miterlimit="10"/>
<polygon points="401.5,257.7 397.5,282.7 386.0,289.5 375.1,282.6 366.4,252.1" fill="none" stroke="#000" stroke-width="2.3" stroke-linejoin="miter" stroke-miterlimit="10"/>
<text x="384.7" y="228.9" font-size="15.4" fill="#a6e67e" text-anchor="middle" font-weight="bold" >cent</text>
<g fill="none" stroke="#e0e0e0" stroke-width="0.65"><circle cx="471.1" cy="279.0" r="4.32"/><circle cx="471.1" cy="279.0" r="8.64"/><circle cx="471.1" cy="279.0" r="12.96"/><circle cx="471.1" cy="279.0" r="17.28"/><circle cx="471.1" cy="279.0" r="21.60"/><circle cx="471.1" cy="279.0" r="25.92"/><circle cx="471.1" cy="279.0" r="30.24"/><circle cx="471.1" cy="279.0" r="34.56"/><circle cx="471.1" cy="279.0" r="38.88"/><circle cx="471.1" cy="279.0" r="43.20"/><line x1="471.1" y1="279.0" x2="496.5" y2="244.1"/><line x1="471.1" y1="279.0" x2="512.2" y2="292.3"/><line x1="471.1" y1="279.0" x2="471.1" y2="322.2"/><line x1="471.1" y1="279.0" x2="430.0" y2="292.3"/><line x1="471.1" y1="279.0" x2="445.7" y2="244.1"/></g>
<polygon points="485.2,259.6 480.6,282.1 471.1,302.7 460.1,282.6 465.1,270.7" fill="none" stroke="#72d3a0" stroke-width="2.0" stroke-linejoin="miter" stroke-miterlimit="10"/>
<polygon points="486.6,257.6 482.9,282.8 471.1,298.9 455.3,284.1 460.5,264.5" fill="none" stroke="#569e78" stroke-width="2.0" stroke-linejoin="miter" stroke-miterlimit="10"/>
<polygon points="487.6,256.3 484.4,283.3 471.1,296.4 452.0,285.2 457.4,260.2" fill="none" stroke="#396a50" stroke-width="2.0" stroke-linejoin="miter" stroke-miterlimit="10"/>
<polygon points="489.0,254.4 486.6,284.0 471.1,292.8 447.4,286.7 453.1,254.2" fill="none" stroke="#000" stroke-width="2.3" stroke-linejoin="miter" stroke-miterlimit="10"/>
<text x="472.8" y="228.9" font-size="15.4" fill="#72d3a0" text-anchor="middle" font-weight="bold" >precent</text>
<g fill="none" stroke="#e0e0e0" stroke-width="0.65"><circle cx="556.1" cy="279.0" r="4.32"/><circle cx="556.1" cy="279.0" r="8.64"/><circle cx="556.1" cy="279.0" r="12.96"/><circle cx="556.1" cy="279.0" r="17.28"/><circle cx="556.1" cy="279.0" r="21.60"/><circle cx="556.1" cy="279.0" r="25.92"/><circle cx="556.1" cy="279.0" r="30.24"/><circle cx="556.1" cy="279.0" r="34.56"/><circle cx="556.1" cy="279.0" r="38.88"/><circle cx="556.1" cy="279.0" r="43.20"/><line x1="556.1" y1="279.0" x2="581.5" y2="244.1"/><line x1="556.1" y1="279.0" x2="597.2" y2="292.3"/><line x1="556.1" y1="279.0" x2="556.1" y2="322.2"/><line x1="556.1" y1="279.0" x2="515.0" y2="292.3"/><line x1="556.1" y1="279.0" x2="530.7" y2="244.1"/></g>
<polygon points="570.8,258.8 564.7,281.8 556.1,305.9 549.0,281.3 551.0,272.0" fill="none" stroke="#4f9a97" stroke-width="2.0" stroke-linejoin="miter" stroke-miterlimit="10"/>
<polygon points="572.1,257.0 565.8,282.2 556.1,300.9 542.1,283.5 546.1,265.2" fill="none" stroke="#3b7471" stroke-width="2.0" stroke-linejoin="miter" stroke-miterlimit="10"/>
<polygon points="573.0,255.8 566.6,282.4 556.1,297.5 537.5,285.1 542.7,260.6" fill="none" stroke="#284d4c" stroke-width="2.0" stroke-linejoin="miter" stroke-miterlimit="10"/>
<polygon points="574.2,254.1 567.7,282.8 556.1,292.8 531.0,287.2 538.1,254.2" fill="none" stroke="#000" stroke-width="2.3" stroke-linejoin="miter" stroke-miterlimit="10"/>
<text x="557.8" y="228.9" font-size="15.4" fill="#4f9a97" text-anchor="middle" font-weight="bold" >cos</text>
<g fill="none" stroke="#e0e0e0" stroke-width="0.65"><circle cx="641.0" cy="279.0" r="4.32"/><circle cx="641.0" cy="279.0" r="8.64"/><circle cx="641.0" cy="279.0" r="12.96"/><circle cx="641.0" cy="279.0" r="17.28"/><circle cx="641.0" cy="279.0" r="21.60"/><circle cx="641.0" cy="279.0" r="25.92"/><circle cx="641.0" cy="279.0" r="30.24"/><circle cx="641.0" cy="279.0" r="34.56"/><circle cx="641.0" cy="279.0" r="38.88"/><circle cx="641.0" cy="279.0" r="43.20"/><line x1="641.0" y1="279.0" x2="666.4" y2="244.1"/><line x1="641.0" y1="279.0" x2="682.1" y2="292.3"/><line x1="641.0" y1="279.0" x2="641.0" y2="322.2"/><line x1="641.0" y1="279.0" x2="599.9" y2="292.3"/><line x1="641.0" y1="279.0" x2="615.6" y2="244.1"/></g>
<polygon points="656.3,258.0 650.5,282.1 641.0,299.4 626.2,283.8 637.5,274.1" fill="none" stroke="#2d5f66" stroke-width="2.0" stroke-linejoin="miter" stroke-miterlimit="10"/>
<polygon points="657.3,256.5 652.8,282.8 641.0,295.4 621.3,285.4 632.2,266.9" fill="none" stroke="#22474c" stroke-width="2.0" stroke-linejoin="miter" stroke-miterlimit="10"/>
<polygon points="658.1,255.5 654.3,283.3 641.0,292.7 617.9,286.5 628.6,261.9" fill="none" stroke="#163033" stroke-width="2.0" stroke-linejoin="miter" stroke-miterlimit="10"/>
<polygon points="659.0,254.2 656.4,284.0 641.0,288.9 613.3,288.0 623.6,255.1" fill="none" stroke="#000" stroke-width="2.3" stroke-linejoin="miter" stroke-miterlimit="10"/>
<text x="638.9" y="228.9" font-size="15.4" fill="#2d5f66" text-anchor="middle" font-weight="bold" >sts</text>
<g fill="none" stroke="#e0e0e0" stroke-width="0.65"><circle cx="45.3" cy="405.3" r="4.32"/><circle cx="45.3" cy="405.3" r="8.64"/><circle cx="45.3" cy="405.3" r="12.96"/><circle cx="45.3" cy="405.3" r="17.28"/><circle cx="45.3" cy="405.3" r="21.60"/><circle cx="45.3" cy="405.3" r="25.92"/><circle cx="45.3" cy="405.3" r="30.24"/><circle cx="45.3" cy="405.3" r="34.56"/><circle cx="45.3" cy="405.3" r="38.88"/><circle cx="45.3" cy="405.3" r="43.20"/><line x1="45.3" y1="405.3" x2="70.7" y2="370.4"/><line x1="45.3" y1="405.3" x2="86.4" y2="418.6"/><line x1="45.3" y1="405.3" x2="45.3" y2="448.5"/><line x1="45.3" y1="405.3" x2="4.2" y2="418.6"/><line x1="45.3" y1="405.3" x2="19.9" y2="370.4"/></g>
<polygon points="59.4,385.9 53.9,408.1 45.3,428.3 34.8,408.7 40.0,398.0" fill="none" stroke="#ece85a" stroke-width="2.0" stroke-linejoin="miter" stroke-miterlimit="10"/>
<polygon points="60.6,384.2 55.5,408.6 45.3,424.3 31.3,409.8 35.0,391.1" fill="none" stroke="#b1ae44" stroke-width="2.0" stroke-linejoin="miter" stroke-miterlimit="10"/>
<polygon points="61.4,383.1 56.7,409.0 45.3,421.6 28.9,410.6 31.5,386.4" fill="none" stroke="#76742d" stroke-width="2.0" stroke-linejoin="miter" stroke-miterlimit="10"/>
<polygon points="62.6,381.5 58.2,409.5 45.3,417.8 25.5,411.7 26.8,379.8" fill="none" stroke="#000" stroke-width="2.3" stroke-linejoin="miter" stroke-miterlimit="10"/>
<text x="44.7" y="356.0" font-size="15.4" fill="#ece85a" text-anchor="middle" font-weight="bold" >postcent</text>
<g fill="none" stroke="#e0e0e0" stroke-width="0.65"><circle cx="130.7" cy="405.3" r="4.32"/><circle cx="130.7" cy="405.3" r="8.64"/><circle cx="130.7" cy="405.3" r="12.96"/><circle cx="130.7" cy="405.3" r="17.28"/><circle cx="130.7" cy="405.3" r="21.60"/><circle cx="130.7" cy="405.3" r="25.92"/><circle cx="130.7" cy="405.3" r="30.24"/><circle cx="130.7" cy="405.3" r="34.56"/><circle cx="130.7" cy="405.3" r="38.88"/><circle cx="130.7" cy="405.3" r="43.20"/><line x1="130.7" y1="405.3" x2="156.1" y2="370.4"/><line x1="130.7" y1="405.3" x2="171.8" y2="418.6"/><line x1="130.7" y1="405.3" x2="130.7" y2="448.5"/><line x1="130.7" y1="405.3" x2="89.6" y2="418.6"/><line x1="130.7" y1="405.3" x2="105.3" y2="370.4"/></g>
<polygon points="142.2,389.4 140.2,408.4 130.7,428.9 120.9,408.5 127.2,400.4" fill="none" stroke="#eaa447" stroke-width="2.0" stroke-linejoin="miter" stroke-miterlimit="10"/>
<polygon points="144.3,386.6 142.6,409.2 130.7,424.7 115.6,410.2 121.7,392.9" fill="none" stroke="#b07b35" stroke-width="2.0" stroke-linejoin="miter" stroke-miterlimit="10"/>
<polygon points="145.6,384.7 144.2,409.7 130.7,421.8 112.0,411.4 117.9,387.7" fill="none" stroke="#755224" stroke-width="2.0" stroke-linejoin="miter" stroke-miterlimit="10"/>
<polygon points="147.6,382.1 146.5,410.4 130.7,417.8 106.9,413.0 112.7,380.5" fill="none" stroke="#000" stroke-width="2.3" stroke-linejoin="miter" stroke-miterlimit="10"/>
<text x="131.4" y="356.0" font-size="15.4" fill="#eaa447" text-anchor="middle" font-weight="bold" >sfs</text>
<g fill="none" stroke="#e0e0e0" stroke-width="0.65"><circle cx="216.0" cy="405.3" r="4.32"/><circle cx="216.0" cy="405.3" r="8.64"/><circle cx="216.0" cy="405.3" r="12.96"/><circle cx="216.0" cy="405.3" r="17.28"/><circle cx="216.0" cy="405.3" r="21.60"/><circle cx="216.0" cy="405.3" r="25.92"/><circle cx="216.0" cy="405.3" r="30.24"/><circle cx="216.0" cy="405.3" r="34.56"/><circle cx="216.0" cy="405.3" r="38.88"/><circle cx="216.0" cy="405.3" r="43.20"/><line x1="216.0" y1="405.3" x2="241.4" y2="370.4"/><line x1="216.0" y1="405.3" x2="257.1" y2="418.6"/><line x1="216.0" y1="405.3" x2="216.0" y2="448.5"/><line x1="216.0" y1="405.3" x2="174.9" y2="418.6"/><line x1="216.0" y1="405.3" x2="190.6" y2="370.4"/></g>
<polygon points="233.6,381.0 227.4,409.0 216.0,428.2 206.5,408.4 211.3,398.8" fill="none" stroke="#c98a44" stroke-width="2.0" stroke-linejoin="miter" stroke-miterlimit="10"/>
<polygon points="235.0,379.2 230.8,410.1 216.0,423.5 200.4,410.4 206.2,391.9" fill="none" stroke="#976833" stroke-width="2.0" stroke-linejoin="miter" stroke-miterlimit="10"/>
<polygon points="235.9,378.0 233.1,410.9 216.0,420.3 196.2,411.7 202.8,387.1" fill="none" stroke="#644522" stroke-width="2.0" stroke-linejoin="miter" stroke-miterlimit="10"/>
<polygon points="237.1,376.3 236.4,411.9 216.0,415.8 190.4,413.6 198.0,380.5" fill="none" stroke="#000" stroke-width="2.3" stroke-linejoin="miter" stroke-miterlimit="10"/>
<text x="219.4" y="356.0" font-size="15.4" fill="#c98a44" text-anchor="middle" font-weight="bold" >ips</text>
<g fill="none" stroke="#e0e0e0" stroke-width="0.65"><circle cx="301.0" cy="405.3" r="4.32"/><circle cx="301.0" cy="405.3" r="8.64"/><circle cx="301.0" cy="405.3" r="12.96"/><circle cx="301.0" cy="405.3" r="17.28"/><circle cx="301.0" cy="405.3" r="21.60"/><circle cx="301.0" cy="405.3" r="25.92"/><circle cx="301.0" cy="405.3" r="30.24"/><circle cx="301.0" cy="405.3" r="34.56"/><circle cx="301.0" cy="405.3" r="38.88"/><circle cx="301.0" cy="405.3" r="43.20"/><line x1="301.0" y1="405.3" x2="326.4" y2="370.4"/><line x1="301.0" y1="405.3" x2="342.1" y2="418.6"/><line x1="301.0" y1="405.3" x2="301.0" y2="448.5"/><line x1="301.0" y1="405.3" x2="259.9" y2="418.6"/><line x1="301.0" y1="405.3" x2="275.6" y2="370.4"/></g>
<polygon points="305.7,398.8 306.7,407.2 301.0,433.5 291.5,408.4 295.7,398.0" fill="none" stroke="#8c5a22" stroke-width="2.0" stroke-linejoin="miter" stroke-miterlimit="10"/>
<polygon points="308.1,395.5 308.4,407.7 301.0,430.0 287.9,409.6 290.1,390.4" fill="none" stroke="#69441a" stroke-width="2.0" stroke-linejoin="miter" stroke-miterlimit="10"/>
<polygon points="309.8,393.2 309.6,408.1 301.0,427.6 285.4,410.4 286.3,385.1" fill="none" stroke="#462d11" stroke-width="2.0" stroke-linejoin="miter" stroke-miterlimit="10"/>
<polygon points="312.1,390.1 311.3,408.6 301.0,424.3 282.0,411.5 281.1,377.9" fill="none" stroke="#000" stroke-width="2.3" stroke-linejoin="miter" stroke-miterlimit="10"/>
<text x="302.8" y="356.0" font-size="15.4" fill="#8c5a22" text-anchor="middle" font-weight="bold" >los</text>
<g fill="none" stroke="#e0e0e0" stroke-width="0.65"><circle cx="386.0" cy="405.3" r="4.32"/><circle cx="386.0" cy="405.3" r="8.64"/><circle cx="386.0" cy="405.3" r="12.96"/><circle cx="386.0" cy="405.3" r="17.28"/><circle cx="386.0" cy="405.3" r="21.60"/><circle cx="386.0" cy="405.3" r="25.92"/><circle cx="386.0" cy="405.3" r="30.24"/><circle cx="386.0" cy="405.3" r="34.56"/><circle cx="386.0" cy="405.3" r="38.88"/><circle cx="386.0" cy="405.3" r="43.20"/><line x1="386.0" y1="405.3" x2="411.4" y2="370.4"/><line x1="386.0" y1="405.3" x2="427.1" y2="418.6"/><line x1="386.0" y1="405.3" x2="386.0" y2="448.5"/><line x1="386.0" y1="405.3" x2="344.9" y2="418.6"/><line x1="386.0" y1="405.3" x2="360.6" y2="370.4"/></g>
<polygon points="401.3,384.3 394.6,408.1 386.0,432.2 376.5,408.4 381.3,398.8" fill="none" stroke="#eea8ee" stroke-width="2.0" stroke-linejoin="miter" stroke-miterlimit="10"/>
<polygon points="402.8,382.2 396.3,408.6 386.0,428.0 371.1,410.2 376.2,391.9" fill="none" stroke="#b27eb2" stroke-width="2.0" stroke-linejoin="miter" stroke-miterlimit="10"/>
<polygon points="403.8,380.8 397.4,409.0 386.0,425.1 367.4,411.4 372.8,387.1" fill="none" stroke="#775477" stroke-width="2.0" stroke-linejoin="miter" stroke-miterlimit="10"/>
<polygon points="405.2,378.8 399.0,409.5 386.0,421.1 362.2,413.0 368.0,380.5" fill="none" stroke="#000" stroke-width="2.3" stroke-linejoin="miter" stroke-miterlimit="10"/>
<text x="388.2" y="356.0" font-size="15.4" fill="#eea8ee" text-anchor="middle" font-weight="bold" >ifs</text>
<g fill="none" stroke="#e0e0e0" stroke-width="0.65"><circle cx="471.0" cy="405.3" r="4.32"/><circle cx="471.0" cy="405.3" r="8.64"/><circle cx="471.0" cy="405.3" r="12.96"/><circle cx="471.0" cy="405.3" r="17.28"/><circle cx="471.0" cy="405.3" r="21.60"/><circle cx="471.0" cy="405.3" r="25.92"/><circle cx="471.0" cy="405.3" r="30.24"/><circle cx="471.0" cy="405.3" r="34.56"/><circle cx="471.0" cy="405.3" r="38.88"/><circle cx="471.0" cy="405.3" r="43.20"/><line x1="471.0" y1="405.3" x2="496.4" y2="370.4"/><line x1="471.0" y1="405.3" x2="512.1" y2="418.6"/><line x1="471.0" y1="405.3" x2="471.0" y2="448.5"/><line x1="471.0" y1="405.3" x2="429.9" y2="418.6"/><line x1="471.0" y1="405.3" x2="445.6" y2="370.4"/></g>
<polygon points="478.4,395.1 479.6,408.1 471.0,432.2 461.5,408.4 467.1,400.0" fill="none" stroke="#e23fa8" stroke-width="2.0" stroke-linejoin="miter" stroke-miterlimit="10"/>
<polygon points="481.1,391.4 482.5,409.0 471.0,427.7 455.6,410.3 461.6,392.3" fill="none" stroke="#aa2f7e" stroke-width="2.0" stroke-linejoin="miter" stroke-miterlimit="10"/>
<polygon points="482.9,388.9 484.6,409.7 471.0,424.6 451.6,411.6 457.8,387.1" fill="none" stroke="#712054" stroke-width="2.0" stroke-linejoin="miter" stroke-miterlimit="10"/>
<polygon points="485.5,385.4 487.4,410.6 471.0,420.4 446.0,413.4 452.5,379.8" fill="none" stroke="#000" stroke-width="2.3" stroke-linejoin="miter" stroke-miterlimit="10"/>
<text x="470.0" y="356.0" font-size="15.4" fill="#e23fa8" text-anchor="middle" font-weight="bold" >ots</text>
<g fill="none" stroke="#e0e0e0" stroke-width="0.65"><circle cx="556.0" cy="405.3" r="4.32"/><circle cx="556.0" cy="405.3" r="8.64"/><circle cx="556.0" cy="405.3" r="12.96"/><circle cx="556.0" cy="405.3" r="17.28"/><circle cx="556.0" cy="405.3" r="21.60"/><circle cx="556.0" cy="405.3" r="25.92"/><circle cx="556.0" cy="405.3" r="30.24"/><circle cx="556.0" cy="405.3" r="34.56"/><circle cx="556.0" cy="405.3" r="38.88"/><circle cx="556.0" cy="405.3" r="43.20"/><line x1="556.0" y1="405.3" x2="581.4" y2="370.4"/><line x1="556.0" y1="405.3" x2="597.1" y2="418.6"/><line x1="556.0" y1="405.3" x2="556.0" y2="448.5"/><line x1="556.0" y1="405.3" x2="514.9" y2="418.6"/><line x1="556.0" y1="405.3" x2="530.6" y2="370.4"/></g>
<polygon points="560.7,398.8 561.7,407.2 556.0,427.0 544.6,409.0 553.1,401.3" fill="none" stroke="#8a2565" stroke-width="2.0" stroke-linejoin="miter" stroke-miterlimit="10"/>
<polygon points="561.9,397.1 562.9,407.5 556.0,424.5 538.9,410.9 547.6,393.7" fill="none" stroke="#681c4c" stroke-width="2.0" stroke-linejoin="miter" stroke-miterlimit="10"/>
<polygon points="562.8,396.0 563.7,407.8 556.0,422.8 535.0,412.1 543.8,388.6" fill="none" stroke="#451232" stroke-width="2.0" stroke-linejoin="miter" stroke-miterlimit="10"/>
<polygon points="563.9,394.4 564.8,408.2 556.0,420.4 529.7,413.9 538.7,381.4" fill="none" stroke="#000" stroke-width="2.3" stroke-linejoin="miter" stroke-miterlimit="10"/>
<text x="556.2" y="356.0" font-size="15.4" fill="#8a2565" text-anchor="middle" font-weight="bold" >its</text>
<text x="12.6" y="247.0" font-size="10.6" fill="#000" text-anchor="start" >R<tspan font-size="7.5" dy="2">1</tspan></text>
<text x="68.0" y="247.0" font-size="10.6" fill="#000" text-anchor="start" >SD</text>
<text x="76.2" y="288.8" font-size="10.6" fill="#000" text-anchor="start" >SP</text>
<text x="0.8" y="288.8" font-size="10.6" fill="#000" text-anchor="start" >CT</text>
<text x="38.9" y="326.1" font-size="10.6" fill="#000" text-anchor="start" >CU</text>
<text x="48.6" y="279.0" font-size="6.2" fill="#000" text-anchor="start" >0</text>
<text x="62.4" y="297.2" font-size="6.2" fill="#000" text-anchor="start" >0.45</text>
<text x="76.2" y="320.3" font-size="6.2" fill="#000" text-anchor="start" >0.90</text>
<line x1="46.5" y1="280.2" x2="70" y2="315" stroke="#000" stroke-width="0.6"/>
<text x="0" y="0" font-size="5.2" transform="translate(67.5,302.5) rotate(56)">units</text>
<text x="624.8" y="389.6" font-size="9.9" fill="#000" text-anchor="start" >months</text>
<rect x="618.1" y="396.4" width="8.9" height="8.8" fill="none" stroke="#cfcfcf" stroke-width="2"/>
<rect x="629.4" y="396.4" width="8.9" height="8.8" fill="none" stroke="#ababab" stroke-width="2"/>
<rect x="640.6" y="396.4" width="8.9" height="8.8" fill="none" stroke="#8a8a8a" stroke-width="2"/>
<rect x="651.9" y="396.4" width="8.9" height="8.8" fill="none" stroke="#000" stroke-width="2.4"/>
<text x="622.3" y="419.6" font-size="9.6" fill="#000" text-anchor="middle" >0</text>
<text x="633.8" y="419.6" font-size="9.6" fill="#000" text-anchor="middle" >3</text>
<text x="644.9" y="419.6" font-size="9.6" fill="#000" text-anchor="middle" >6</text>
<text x="656.5" y="419.6" font-size="9.6" fill="#000" text-anchor="middle" >12</text>
<text x="4.0" y="471.7" font-size="12" fill="#000" text-anchor="start" >(c)</text>
<text x="45.9" y="462.8" font-size="10.8" fill="#aeeef6" text-anchor="start" font-weight="bold" >calc</text>
<text x="82.6" y="462.8" font-size="10.8" fill="#9dbff2" text-anchor="start" font-weight="bold" >insula</text>
<text x="130.4" y="462.8" font-size="10.8" fill="#5b8ef2" text-anchor="start" font-weight="bold" >cing</text>
<text x="174.6" y="462.8" font-size="10.8" fill="#3350e6" text-anchor="start" font-weight="bold" >pos</text>
<text x="210.2" y="462.8" font-size="10.8" fill="#a6e67e" text-anchor="start" font-weight="bold" >cent</text>
<text x="245.5" y="462.8" font-size="10.8" fill="#72d3a0" text-anchor="start" font-weight="bold" >precent</text>
<text x="298.1" y="462.8" font-size="10.8" fill="#4f9a97" text-anchor="start" font-weight="bold" >cos</text>
<text x="335.8" y="462.8" font-size="10.8" fill="#2d5f66" text-anchor="start" font-weight="bold" >sts</text>
<text x="368.1" y="462.8" font-size="10.8" fill="#ece85a" text-anchor="start" font-weight="bold" >postcent</text>
<text x="423.0" y="462.8" font-size="10.8" fill="#eaa447" text-anchor="start" font-weight="bold" >sfs</text>
<text x="463.9" y="462.8" font-size="10.8" fill="#c98a44" text-anchor="start" font-weight="bold" >ips</text>
<text x="502.0" y="462.8" font-size="10.8" fill="#8c5a22" text-anchor="start" font-weight="bold" >los</text>
<text x="548.6" y="462.8" font-size="10.8" fill="#eea8ee" text-anchor="start" font-weight="bold" >ifs</text>
<text x="586.4" y="462.8" font-size="10.8" fill="#e23fa8" text-anchor="start" font-weight="bold" >ots</text>
<text x="627.7" y="462.8" font-size="10.8" fill="#8a2565" text-anchor="start" font-weight="bold" >its</text>
<line x1="42.8" y1="469.5" x2="42.8" y2="648" stroke="#333" stroke-width="1.3"/>
<text x="38.3" y="477.9" font-size="10.5" fill="#000" text-anchor="end" >1</text>
<text x="38.5" y="561.5" font-size="10.5" fill="#000" text-anchor="end" >0</text>
<text x="38.9" y="647.5" font-size="10.5" fill="#000" text-anchor="end" >-1</text>
<text x="0" y="0" font-size="12.2" text-anchor="middle" transform="translate(23.2,558.5) rotate(-90)">Normalized Betas</text>
<line x1="42.6" y1="559" x2="78.1" y2="559" stroke="#222" stroke-width="1.3"/>
<rect x="47.1" y="541.0" width="5.0" height="18.0" fill="#aeeef6"/>
<path d="M49.6,531.2 V551.5 M48.4,531.2 h2.4 M48.4,551.5 h2.4" stroke="#999" stroke-width="0.6" fill="none"/>
<rect x="53.1" y="550.0" width="5.0" height="9.0" fill="#aeeef6"/>
<path d="M55.6,538.1 V562.3 M54.4,538.1 h2.4 M54.4,562.3 h2.4" stroke="#999" stroke-width="0.6" fill="none"/>
<rect x="59.2" y="559.0" width="5.0" height="22.8" fill="#aeeef6"/>
<path d="M61.7,568.4 V595.5 M60.5,568.4 h2.4 M60.5,595.5 h2.4" stroke="#999" stroke-width="0.6" fill="none"/>
<rect x="65.2" y="559.0" width="5.0" height="13.3" fill="#aeeef6"/>
<path d="M67.8,565.7 V578.6 M66.5,565.7 h2.4 M66.5,578.6 h2.4" stroke="#999" stroke-width="0.6" fill="none"/>
<line x1="83.7" y1="559" x2="119.2" y2="559" stroke="#222" stroke-width="1.3"/>
<rect x="88.2" y="552.2" width="5.0" height="6.8" fill="#9dbff2"/>
<path d="M90.7,534.2 V570.3 M89.5,534.2 h2.4 M89.5,570.3 h2.4" stroke="#999" stroke-width="0.6" fill="none"/>
<rect x="94.2" y="549.6" width="5.0" height="9.4" fill="#9dbff2"/>
<path d="M96.8,546.3 V552.8 M95.5,546.3 h2.4 M95.5,552.8 h2.4" stroke="#999" stroke-width="0.6" fill="none"/>
<rect x="100.3" y="550.0" width="5.0" height="9.0" fill="#9dbff2"/>
<path d="M102.8,540.4 V560.0 M101.6,540.4 h2.4 M101.6,560.0 h2.4" stroke="#999" stroke-width="0.6" fill="none"/>
<rect x="106.3" y="558.3" width="5.0" height="0.7" fill="#9dbff2"/>
<path d="M108.8,553.5 V563.6 M107.6,553.5 h2.4 M107.6,563.6 h2.4" stroke="#999" stroke-width="0.6" fill="none"/>
<line x1="124.8" y1="559" x2="160.3" y2="559" stroke="#222" stroke-width="1.3"/>
<rect x="129.3" y="520.9" width="5.0" height="38.1" fill="#5b8ef2"/>
<path d="M131.8,501.6 V539.7 M130.6,501.6 h2.4 M130.6,539.7 h2.4" stroke="#999" stroke-width="0.6" fill="none"/>
<rect x="135.4" y="559.0" width="5.0" height="13.8" fill="#5b8ef2"/>
<path d="M137.9,567.5 V578.3 M136.7,567.5 h2.4 M136.7,578.3 h2.4" stroke="#999" stroke-width="0.6" fill="none"/>
<rect x="141.4" y="559.0" width="5.0" height="28.5" fill="#5b8ef2"/>
<path d="M143.9,575.0 V592.0 M142.7,575.0 h2.4 M142.7,592.0 h2.4" stroke="#999" stroke-width="0.6" fill="none"/>
<rect x="147.5" y="556.4" width="5.0" height="2.6" fill="#5b8ef2"/>
<path d="M150.0,550.4 V561.6 M148.8,550.4 h2.4 M148.8,561.6 h2.4" stroke="#999" stroke-width="0.6" fill="none"/>
<line x1="165.9" y1="559" x2="201.4" y2="559" stroke="#222" stroke-width="1.3"/>
<rect x="170.4" y="559.0" width="5.0" height="12.0" fill="#3350e6"/>
<path d="M172.9,560.2 V581.5 M171.7,560.2 h2.4 M171.7,581.5 h2.4" stroke="#999" stroke-width="0.6" fill="none"/>
<rect x="176.5" y="559.0" width="5.0" height="17.9" fill="#3350e6"/>
<path d="M179.0,569.2 V585.8 M177.8,569.2 h2.4 M177.8,585.8 h2.4" stroke="#999" stroke-width="0.6" fill="none"/>
<rect x="182.5" y="559.0" width="5.0" height="44.8" fill="#3350e6"/>
<path d="M185.0,594.4 V613.4 M183.8,594.4 h2.4 M183.8,613.4 h2.4" stroke="#999" stroke-width="0.6" fill="none"/>
<rect x="188.6" y="542.9" width="5.0" height="16.1" fill="#3350e6"/>
<path d="M191.1,536.3 V549.7 M189.9,536.3 h2.4 M189.9,549.7 h2.4" stroke="#999" stroke-width="0.6" fill="none"/>
<line x1="207.0" y1="559" x2="242.5" y2="559" stroke="#222" stroke-width="1.3"/>
<rect x="211.5" y="503.6" width="5.0" height="55.4" fill="#a6e67e"/>
<path d="M214.0,490.5 V516.7 M212.8,490.5 h2.4 M212.8,516.7 h2.4" stroke="#999" stroke-width="0.6" fill="none"/>
<rect x="217.6" y="541.2" width="5.0" height="17.8" fill="#a6e67e"/>
<path d="M220.1,536.3 V546.4 M218.9,536.3 h2.4 M218.9,546.4 h2.4" stroke="#999" stroke-width="0.6" fill="none"/>
<rect x="223.6" y="559.0" width="5.0" height="6.2" fill="#a6e67e"/>
<path d="M226.1,555.6 V574.4 M224.9,555.6 h2.4 M224.9,574.4 h2.4" stroke="#999" stroke-width="0.6" fill="none"/>
<rect x="229.7" y="552.1" width="5.0" height="6.9" fill="#a6e67e"/>
<path d="M232.2,547.3 V556.9 M231.0,547.3 h2.4 M231.0,556.9 h2.4" stroke="#999" stroke-width="0.6" fill="none"/>
<line x1="248.1" y1="559" x2="283.6" y2="559" stroke="#222" stroke-width="1.3"/>
<rect x="252.6" y="549.8" width="5.0" height="9.2" fill="#72d3a0"/>
<path d="M255.1,542.3 V557.0 M253.9,542.3 h2.4 M253.9,557.0 h2.4" stroke="#999" stroke-width="0.6" fill="none"/>
<rect x="258.6" y="552.6" width="5.0" height="6.4" fill="#72d3a0"/>
<path d="M261.1,544.8 V559.8 M259.9,544.8 h2.4 M259.9,559.8 h2.4" stroke="#999" stroke-width="0.6" fill="none"/>
<rect x="264.7" y="559.0" width="5.0" height="40.4" fill="#72d3a0"/>
<path d="M267.2,588.2 V610.3 M266.0,588.2 h2.4 M266.0,610.3 h2.4" stroke="#999" stroke-width="0.6" fill="none"/>
<rect x="270.8" y="543.4" width="5.0" height="15.6" fill="#72d3a0"/>
<path d="M273.2,538.9 V548.6 M272.1,538.9 h2.4 M272.1,548.6 h2.4" stroke="#999" stroke-width="0.6" fill="none"/>
<line x1="289.2" y1="559" x2="324.7" y2="559" stroke="#222" stroke-width="1.3"/>
<rect x="293.7" y="547.8" width="5.0" height="11.2" fill="#4f9a97"/>
<path d="M296.2,539.2 V557.6 M295.0,539.2 h2.4 M295.0,557.6 h2.4" stroke="#999" stroke-width="0.6" fill="none"/>
<rect x="299.8" y="559.0" width="5.0" height="4.8" fill="#4f9a97"/>
<path d="M302.3,551.3 V576.5 M301.1,551.3 h2.4 M301.1,576.5 h2.4" stroke="#999" stroke-width="0.6" fill="none"/>
<rect x="305.8" y="559.0" width="5.0" height="14.7" fill="#4f9a97"/>
<path d="M308.3,562.8 V585.5 M307.1,562.8 h2.4 M307.1,585.5 h2.4" stroke="#999" stroke-width="0.6" fill="none"/>
<rect x="311.9" y="525.4" width="5.0" height="33.6" fill="#4f9a97"/>
<path d="M314.4,516.1 V535.1 M313.2,516.1 h2.4 M313.2,535.1 h2.4" stroke="#999" stroke-width="0.6" fill="none"/>
<line x1="330.3" y1="559" x2="365.8" y2="559" stroke="#222" stroke-width="1.3"/>
<rect x="334.8" y="523.3" width="5.0" height="35.7" fill="#2d5f66"/>
<path d="M337.3,512.3 V534.1 M336.1,512.3 h2.4 M336.1,534.1 h2.4" stroke="#999" stroke-width="0.6" fill="none"/>
<rect x="340.9" y="546.8" width="5.0" height="12.2" fill="#2d5f66"/>
<path d="M343.4,540.2 V554.1 M342.2,540.2 h2.4 M342.2,554.1 h2.4" stroke="#999" stroke-width="0.6" fill="none"/>
<rect x="346.9" y="559.0" width="5.0" height="1.6" fill="#2d5f66"/>
<path d="M349.4,551.5 V570.4 M348.2,551.5 h2.4 M348.2,570.4 h2.4" stroke="#999" stroke-width="0.6" fill="none"/>
<rect x="352.9" y="541.4" width="5.0" height="17.6" fill="#2d5f66"/>
<path d="M355.4,535.3 V548.0 M354.2,535.3 h2.4 M354.2,548.0 h2.4" stroke="#999" stroke-width="0.6" fill="none"/>
<line x1="371.4" y1="559" x2="406.9" y2="559" stroke="#222" stroke-width="1.3"/>
<rect x="375.9" y="500.6" width="5.0" height="58.4" fill="#ece85a"/>
<path d="M378.4,487.8 V513.1 M377.2,487.8 h2.4 M377.2,513.1 h2.4" stroke="#999" stroke-width="0.6" fill="none"/>
<rect x="382.0" y="554.1" width="5.0" height="4.9" fill="#ece85a"/>
<path d="M384.5,545.4 V563.4 M383.3,545.4 h2.4 M383.3,563.4 h2.4" stroke="#999" stroke-width="0.6" fill="none"/>
<rect x="388.0" y="559.0" width="5.0" height="43.1" fill="#ece85a"/>
<path d="M390.5,593.7 V611.2 M389.3,593.7 h2.4 M389.3,611.2 h2.4" stroke="#999" stroke-width="0.6" fill="none"/>
<rect x="394.1" y="555.0" width="5.0" height="4.0" fill="#ece85a"/>
<path d="M396.6,549.2 V561.6 M395.4,549.2 h2.4 M395.4,561.6 h2.4" stroke="#999" stroke-width="0.6" fill="none"/>
<line x1="412.5" y1="559" x2="448.0" y2="559" stroke="#222" stroke-width="1.3"/>
<rect x="417.0" y="549.2" width="5.0" height="9.8" fill="#eaa447"/>
<path d="M419.5,544.5 V556.0 M418.3,544.5 h2.4 M418.3,556.0 h2.4" stroke="#999" stroke-width="0.6" fill="none"/>
<rect x="423.1" y="534.9" width="5.0" height="24.1" fill="#eaa447"/>
<path d="M425.6,527.1 V543.0 M424.4,527.1 h2.4 M424.4,543.0 h2.4" stroke="#999" stroke-width="0.6" fill="none"/>
<rect x="429.1" y="559.0" width="5.0" height="8.3" fill="#eaa447"/>
<path d="M431.6,556.5 V578.5 M430.4,556.5 h2.4 M430.4,578.5 h2.4" stroke="#999" stroke-width="0.6" fill="none"/>
<rect x="435.2" y="545.8" width="5.0" height="13.2" fill="#eaa447"/>
<path d="M437.7,540.5 V551.8 M436.5,540.5 h2.4 M436.5,551.8 h2.4" stroke="#999" stroke-width="0.6" fill="none"/>
<line x1="453.6" y1="559" x2="489.1" y2="559" stroke="#222" stroke-width="1.3"/>
<rect x="458.1" y="556.1" width="5.0" height="2.9" fill="#c98a44"/>
<path d="M460.6,546.3 V566.4 M459.4,546.3 h2.4 M459.4,566.4 h2.4" stroke="#999" stroke-width="0.6" fill="none"/>
<rect x="464.2" y="549.9" width="5.0" height="9.1" fill="#c98a44"/>
<path d="M466.7,538.3 V561.7 M465.5,538.3 h2.4 M465.5,561.7 h2.4" stroke="#999" stroke-width="0.6" fill="none"/>
<rect x="470.2" y="559.0" width="5.0" height="20.5" fill="#c98a44"/>
<path d="M472.7,565.4 V593.9 M471.5,565.4 h2.4 M471.5,593.9 h2.4" stroke="#999" stroke-width="0.6" fill="none"/>
<rect x="476.2" y="542.0" width="5.0" height="17.0" fill="#c98a44"/>
<path d="M478.8,532.3 V553.3 M477.6,532.3 h2.4 M477.6,553.3 h2.4" stroke="#999" stroke-width="0.6" fill="none"/>
<line x1="494.7" y1="559" x2="530.2" y2="559" stroke="#222" stroke-width="1.3"/>
<rect x="499.2" y="493.4" width="5.0" height="65.6" fill="#8c5a22"/>
<path d="M501.7,478.4 V508.4 M500.5,478.4 h2.4 M500.5,508.4 h2.4" stroke="#999" stroke-width="0.6" fill="none"/>
<rect x="505.3" y="554.2" width="5.0" height="4.8" fill="#8c5a22"/>
<path d="M507.8,540.5 V566.7 M506.6,540.5 h2.4 M506.6,566.7 h2.4" stroke="#999" stroke-width="0.6" fill="none"/>
<rect x="511.3" y="559.0" width="5.0" height="28.0" fill="#8c5a22"/>
<path d="M513.8,575.4 V598.7 M512.6,575.4 h2.4 M512.6,598.7 h2.4" stroke="#999" stroke-width="0.6" fill="none"/>
<rect x="517.4" y="550.5" width="5.0" height="8.5" fill="#8c5a22"/>
<path d="M519.9,544.5 V557.0 M518.6,544.5 h2.4 M518.6,557.0 h2.4" stroke="#999" stroke-width="0.6" fill="none"/>
<line x1="535.8" y1="559" x2="571.3" y2="559" stroke="#222" stroke-width="1.3"/>
<rect x="540.3" y="520.9" width="5.0" height="38.1" fill="#eea8ee"/>
<path d="M542.8,510.2 V531.8 M541.6,510.2 h2.4 M541.6,531.8 h2.4" stroke="#999" stroke-width="0.6" fill="none"/>
<rect x="546.4" y="554.2" width="5.0" height="4.8" fill="#eea8ee"/>
<path d="M548.9,543.4 V565.4 M547.6,543.4 h2.4 M547.6,565.4 h2.4" stroke="#999" stroke-width="0.6" fill="none"/>
<rect x="552.4" y="559.0" width="5.0" height="15.8" fill="#eea8ee"/>
<path d="M554.9,561.3 V587.5 M553.7,561.3 h2.4 M553.7,587.5 h2.4" stroke="#999" stroke-width="0.6" fill="none"/>
<rect x="558.5" y="539.8" width="5.0" height="19.2" fill="#eea8ee"/>
<path d="M561.0,532.3 V547.7 M559.8,532.3 h2.4 M559.8,547.7 h2.4" stroke="#999" stroke-width="0.6" fill="none"/>
<line x1="576.9" y1="559" x2="612.4" y2="559" stroke="#222" stroke-width="1.3"/>
<rect x="581.4" y="548.0" width="5.0" height="11.0" fill="#e23fa8"/>
<path d="M583.9,541.5 V554.2 M582.7,541.5 h2.4 M582.7,554.2 h2.4" stroke="#999" stroke-width="0.6" fill="none"/>
<rect x="587.5" y="559.0" width="5.0" height="19.5" fill="#e23fa8"/>
<path d="M590.0,569.2 V588.3 M588.8,569.2 h2.4 M588.8,588.3 h2.4" stroke="#999" stroke-width="0.6" fill="none"/>
<rect x="593.5" y="559.0" width="5.0" height="36.7" fill="#e23fa8"/>
<path d="M596.0,585.1 V607.5 M594.8,585.1 h2.4 M594.8,607.5 h2.4" stroke="#999" stroke-width="0.6" fill="none"/>
<rect x="599.6" y="528.4" width="5.0" height="30.6" fill="#e23fa8"/>
<path d="M602.1,521.5 V535.5 M600.9,521.5 h2.4 M600.9,535.5 h2.4" stroke="#999" stroke-width="0.6" fill="none"/>
<line x1="618.0" y1="559" x2="653.5" y2="559" stroke="#222" stroke-width="1.3"/>
<rect x="622.5" y="524.6" width="5.0" height="34.4" fill="#8a2565"/>
<path d="M625.0,519.0 V530.3 M623.8,519.0 h2.4 M623.8,530.3 h2.4" stroke="#999" stroke-width="0.6" fill="none"/>
<rect x="628.5" y="559.0" width="5.0" height="12.4" fill="#8a2565"/>
<path d="M631.0,564.5 V578.2 M629.8,564.5 h2.4 M629.8,578.2 h2.4" stroke="#999" stroke-width="0.6" fill="none"/>
<rect x="634.6" y="559.0" width="5.0" height="22.3" fill="#8a2565"/>
<path d="M637.1,572.5 V589.4 M635.9,572.5 h2.4 M635.9,589.4 h2.4" stroke="#999" stroke-width="0.6" fill="none"/>
<rect x="640.6" y="545.8" width="5.0" height="13.2" fill="#8a2565"/>
<path d="M643.1,542.0 V549.5 M641.9,542.0 h2.4 M641.9,549.5 h2.4" stroke="#999" stroke-width="0.6" fill="none"/>
<text x="0" y="0" font-size="7.8" transform="translate(50.3,619.3) rotate(-90)">SP</text>
<text x="0" y="0" font-size="7.8" transform="translate(57.5,619.3) rotate(-90)">CT</text>
<text x="0" y="0" font-size="7.8" transform="translate(65.4,619.3) rotate(-90)">CU</text>
<text x="0" y="0" font-size="7.8" transform="translate(72.6,619.3) rotate(-90)">R<tspan font-size="5" dy="1">1</tspan></text>
<text x="45.9" y="646.4" font-size="12" fill="#000" text-anchor="start" >Parameter</text>
<rect x="193" y="618.8" width="291.5" height="22.5" fill="none" stroke="#555" stroke-width="0.9" stroke-dasharray="1.6,1.2"/>
<text id="formula" x="200.8" y="634.3" font-size="12.2">SD = 1 + <tspan font-style="italic">β</tspan><tspan font-size="8.6" dy="2.2">1</tspan><tspan dy="-2.2">SP + </tspan><tspan font-style="italic">β</tspan><tspan font-size="8.6" dy="2.2">2</tspan><tspan dy="-2.2">CT + </tspan><tspan font-style="italic">β</tspan><tspan font-size="8.6" dy="2.2">3</tspan><tspan dy="-2.2"> CU + </tspan><tspan font-style="italic">β</tspan><tspan font-size="8.6" dy="2.2">4</tspan><tspan dy="-2.2"> R</tspan><tspan font-size="8.6" dy="2.2">1</tspan><tspan dy="-2.2"> + (1|Infant)</tspan></text>
<text x="4.0" y="667.1" font-size="12" fill="#000" text-anchor="start" >(d)</text>
<text x="43.7" y="700.9" font-size="11" fill="#000" text-anchor="start" >RMSE (mm):</text>
<text x="44.2" y="712.1" font-size="6.6" fill="#aeeef6" text-anchor="start" font-weight="bold" >0.66 ± 0.66</text>
<line x1="43.3" y1="763.7" x2="76.9" y2="763.7" stroke="#444" stroke-width="1.6"/>
<g fill="#aeeef6" stroke="#94cad1" stroke-width="0.35" opacity="0.9"><circle cx="56.3" cy="738.4" r="1.35"/><circle cx="68.4" cy="734.5" r="1.35"/><circle cx="64.5" cy="730.0" r="1.35"/><circle cx="66.5" cy="737.5" r="1.35"/><circle cx="58.1" cy="742.0" r="1.35"/><circle cx="70.7" cy="730.5" r="1.35"/><circle cx="69.9" cy="729.3" r="1.35"/><circle cx="69.7" cy="734.2" r="1.35"/><circle cx="61.0" cy="741.3" r="1.35"/><circle cx="63.6" cy="739.9" r="1.35"/><circle cx="67.6" cy="736.0" r="1.35"/><circle cx="70.5" cy="729.7" r="1.35"/><circle cx="68.3" cy="738.7" r="1.35"/><circle cx="57.7" cy="739.3" r="1.35"/><circle cx="66.8" cy="734.6" r="1.35"/><circle cx="63.3" cy="738.2" r="1.35"/><circle cx="67.1" cy="731.5" r="1.35"/><circle cx="68.7" cy="731.2" r="1.35"/><circle cx="70.5" cy="730.8" r="1.35"/><circle cx="68.6" cy="736.7" r="1.35"/><circle cx="71.9" cy="732.5" r="1.35"/><circle cx="72.9" cy="731.6" r="1.35"/><circle cx="65.4" cy="734.3" r="1.35"/><circle cx="61.2" cy="733.2" r="1.35"/><circle cx="59.6" cy="737.5" r="1.35"/><circle cx="61.1" cy="737.5" r="1.35"/><circle cx="67.9" cy="730.0" r="1.35"/><circle cx="69.9" cy="734.5" r="1.35"/><circle cx="71.2" cy="734.2" r="1.35"/><circle cx="59.3" cy="738.3" r="1.35"/><circle cx="72.0" cy="734.2" r="1.35"/><circle cx="66.5" cy="731.1" r="1.35"/><circle cx="62.1" cy="733.8" r="1.35"/><circle cx="59.8" cy="741.7" r="1.35"/><circle cx="67.8" cy="734.8" r="1.35"/><circle cx="67.1" cy="732.0" r="1.35"/><circle cx="67.9" cy="734.1" r="1.35"/><circle cx="66.3" cy="735.6" r="1.35"/><circle cx="59.6" cy="739.6" r="1.35"/><circle cx="69.2" cy="736.9" r="1.35"/><circle cx="66.3" cy="731.4" r="1.35"/><circle cx="57.0" cy="742.8" r="1.35"/><circle cx="60.1" cy="742.9" r="1.35"/><circle cx="69.9" cy="735.6" r="1.35"/><circle cx="56.9" cy="737.2" r="1.35"/><circle cx="66.2" cy="740.9" r="1.35"/><circle cx="65.3" cy="731.4" r="1.35"/><circle cx="62.2" cy="734.9" r="1.35"/></g>
<line x1="57.4" y1="744.5" x2="71.7" y2="728.6" stroke="#222" stroke-width="0.6"/>
<text x="84.4" y="712.1" font-size="6.6" fill="#9dbff2" text-anchor="start" font-weight="bold" >0.25 ± 0.25</text>
<line x1="84.4" y1="763.7" x2="119.0" y2="763.7" stroke="#444" stroke-width="1.6"/>
<g fill="#9dbff2" stroke="#85a2ce" stroke-width="0.35" opacity="0.9"><circle cx="110.5" cy="733.7" r="1.35"/><circle cx="114.4" cy="732.6" r="1.35"/><circle cx="108.7" cy="733.4" r="1.35"/><circle cx="106.6" cy="734.9" r="1.35"/><circle cx="107.4" cy="734.8" r="1.35"/><circle cx="112.6" cy="729.7" r="1.35"/><circle cx="105.9" cy="736.6" r="1.35"/><circle cx="111.7" cy="732.0" r="1.35"/><circle cx="107.5" cy="733.7" r="1.35"/><circle cx="110.5" cy="732.7" r="1.35"/><circle cx="108.7" cy="734.4" r="1.35"/><circle cx="108.4" cy="735.7" r="1.35"/><circle cx="106.6" cy="736.7" r="1.35"/><circle cx="109.6" cy="731.2" r="1.35"/><circle cx="111.8" cy="730.2" r="1.35"/><circle cx="109.1" cy="734.5" r="1.35"/><circle cx="108.4" cy="734.1" r="1.35"/><circle cx="108.9" cy="733.7" r="1.35"/><circle cx="109.4" cy="733.2" r="1.35"/><circle cx="111.0" cy="732.2" r="1.35"/><circle cx="104.9" cy="736.4" r="1.35"/><circle cx="105.3" cy="736.5" r="1.35"/><circle cx="107.0" cy="736.1" r="1.35"/><circle cx="110.9" cy="732.4" r="1.35"/><circle cx="110.4" cy="731.1" r="1.35"/><circle cx="109.8" cy="734.6" r="1.35"/><circle cx="109.7" cy="734.0" r="1.35"/><circle cx="111.8" cy="730.4" r="1.35"/><circle cx="110.8" cy="732.1" r="1.35"/><circle cx="105.8" cy="736.3" r="1.35"/><circle cx="104.5" cy="735.6" r="1.35"/><circle cx="113.7" cy="732.6" r="1.35"/><circle cx="112.8" cy="732.1" r="1.35"/><circle cx="112.2" cy="732.5" r="1.35"/><circle cx="111.9" cy="731.5" r="1.35"/><circle cx="106.3" cy="735.3" r="1.35"/><circle cx="111.5" cy="731.4" r="1.35"/><circle cx="107.3" cy="732.1" r="1.35"/><circle cx="113.5" cy="732.2" r="1.35"/><circle cx="113.7" cy="732.5" r="1.35"/><circle cx="108.8" cy="735.6" r="1.35"/><circle cx="111.1" cy="732.6" r="1.35"/><circle cx="108.6" cy="735.2" r="1.35"/><circle cx="112.1" cy="731.5" r="1.35"/><circle cx="106.4" cy="736.9" r="1.35"/><circle cx="106.7" cy="735.3" r="1.35"/><circle cx="107.6" cy="738.0" r="1.35"/><circle cx="107.6" cy="734.5" r="1.35"/></g>
<line x1="105.7" y1="736.8" x2="112.8" y2="730.2" stroke="#222" stroke-width="0.6"/>
<text x="126.9" y="712.1" font-size="6.6" fill="#5b8ef2" text-anchor="start" font-weight="bold" >0.22 ± 0.22</text>
<line x1="126.0" y1="763.7" x2="159.6" y2="763.7" stroke="#444" stroke-width="1.6"/>
<g fill="#5b8ef2" stroke="#4d79ce" stroke-width="0.35" opacity="0.9"><circle cx="144.5" cy="741.3" r="1.35"/><circle cx="150.1" cy="734.8" r="1.35"/><circle cx="148.5" cy="735.6" r="1.35"/><circle cx="149.9" cy="737.6" r="1.35"/><circle cx="142.7" cy="741.8" r="1.35"/><circle cx="148.4" cy="737.2" r="1.35"/><circle cx="152.0" cy="733.2" r="1.35"/><circle cx="144.8" cy="740.0" r="1.35"/><circle cx="145.3" cy="742.3" r="1.35"/><circle cx="148.2" cy="735.2" r="1.35"/><circle cx="147.2" cy="737.7" r="1.35"/><circle cx="148.7" cy="737.2" r="1.35"/><circle cx="144.0" cy="740.9" r="1.35"/><circle cx="149.2" cy="734.9" r="1.35"/><circle cx="146.6" cy="741.1" r="1.35"/><circle cx="150.7" cy="735.8" r="1.35"/><circle cx="148.5" cy="737.5" r="1.35"/><circle cx="146.4" cy="737.9" r="1.35"/><circle cx="152.7" cy="733.2" r="1.35"/><circle cx="149.8" cy="737.0" r="1.35"/><circle cx="148.6" cy="735.2" r="1.35"/><circle cx="148.3" cy="738.7" r="1.35"/><circle cx="151.4" cy="736.8" r="1.35"/><circle cx="148.7" cy="735.1" r="1.35"/><circle cx="149.1" cy="738.7" r="1.35"/><circle cx="149.3" cy="735.9" r="1.35"/><circle cx="151.6" cy="733.0" r="1.35"/><circle cx="149.9" cy="734.1" r="1.35"/><circle cx="150.5" cy="737.4" r="1.35"/><circle cx="148.1" cy="736.7" r="1.35"/><circle cx="152.1" cy="731.4" r="1.35"/><circle cx="152.5" cy="732.4" r="1.35"/><circle cx="152.9" cy="732.6" r="1.35"/><circle cx="152.2" cy="733.7" r="1.35"/><circle cx="151.6" cy="732.7" r="1.35"/><circle cx="150.7" cy="735.9" r="1.35"/><circle cx="152.9" cy="732.7" r="1.35"/><circle cx="151.0" cy="736.5" r="1.35"/><circle cx="145.2" cy="740.4" r="1.35"/><circle cx="148.5" cy="738.1" r="1.35"/><circle cx="146.6" cy="741.4" r="1.35"/><circle cx="145.4" cy="742.0" r="1.35"/><circle cx="145.2" cy="742.5" r="1.35"/><circle cx="147.4" cy="740.4" r="1.35"/><circle cx="150.0" cy="734.5" r="1.35"/><circle cx="145.7" cy="741.5" r="1.35"/><circle cx="146.4" cy="739.9" r="1.35"/><circle cx="147.4" cy="737.5" r="1.35"/></g>
<line x1="143.8" y1="743.8" x2="153.0" y2="731.4" stroke="#222" stroke-width="0.6"/>
<text x="168.0" y="712.1" font-size="6.6" fill="#3350e6" text-anchor="start" font-weight="bold" >0.42 ± 0.43</text>
<line x1="167.3" y1="763.7" x2="201.5" y2="763.7" stroke="#444" stroke-width="1.6"/>
<g fill="#3350e6" stroke="#2b44c4" stroke-width="0.35" opacity="0.9"><circle cx="192.1" cy="729.9" r="1.35"/><circle cx="192.6" cy="735.5" r="1.35"/><circle cx="188.4" cy="742.6" r="1.35"/><circle cx="186.6" cy="742.9" r="1.35"/><circle cx="190.7" cy="741.2" r="1.35"/><circle cx="183.5" cy="740.2" r="1.35"/><circle cx="185.7" cy="742.9" r="1.35"/><circle cx="187.4" cy="745.7" r="1.35"/><circle cx="187.3" cy="741.3" r="1.35"/><circle cx="190.3" cy="737.8" r="1.35"/><circle cx="184.1" cy="739.3" r="1.35"/><circle cx="193.2" cy="736.3" r="1.35"/><circle cx="189.1" cy="739.0" r="1.35"/><circle cx="190.9" cy="732.0" r="1.35"/><circle cx="185.5" cy="739.2" r="1.35"/><circle cx="195.6" cy="733.8" r="1.35"/><circle cx="189.6" cy="735.2" r="1.35"/><circle cx="187.4" cy="740.3" r="1.35"/><circle cx="189.8" cy="743.8" r="1.35"/><circle cx="193.3" cy="732.8" r="1.35"/><circle cx="189.5" cy="737.0" r="1.35"/><circle cx="188.0" cy="736.7" r="1.35"/><circle cx="184.8" cy="740.7" r="1.35"/><circle cx="185.9" cy="742.7" r="1.35"/><circle cx="196.2" cy="734.9" r="1.35"/><circle cx="193.2" cy="736.8" r="1.35"/><circle cx="180.1" cy="737.7" r="1.35"/><circle cx="195.0" cy="732.4" r="1.35"/><circle cx="190.5" cy="737.2" r="1.35"/><circle cx="184.9" cy="737.8" r="1.35"/><circle cx="188.7" cy="735.9" r="1.35"/><circle cx="191.9" cy="733.1" r="1.35"/><circle cx="188.9" cy="738.2" r="1.35"/><circle cx="188.4" cy="737.7" r="1.35"/><circle cx="182.9" cy="741.1" r="1.35"/><circle cx="187.4" cy="734.8" r="1.35"/><circle cx="189.4" cy="736.1" r="1.35"/><circle cx="187.5" cy="738.2" r="1.35"/><circle cx="189.4" cy="735.9" r="1.35"/><circle cx="188.1" cy="736.8" r="1.35"/><circle cx="185.5" cy="737.6" r="1.35"/><circle cx="186.9" cy="738.9" r="1.35"/><circle cx="192.5" cy="736.5" r="1.35"/><circle cx="192.9" cy="730.6" r="1.35"/><circle cx="188.4" cy="740.6" r="1.35"/><circle cx="187.6" cy="738.7" r="1.35"/><circle cx="194.9" cy="735.9" r="1.35"/><circle cx="193.8" cy="733.7" r="1.35"/></g>
<line x1="184.5" y1="743.8" x2="194.5" y2="731.4" stroke="#222" stroke-width="0.6"/>
<text x="210.9" y="712.1" font-size="6.6" fill="#a6e67e" text-anchor="start" font-weight="bold" >0.31 ± 0.31</text>
<line x1="209.5" y1="763.7" x2="245.2" y2="763.7" stroke="#444" stroke-width="1.6"/>
<g fill="#a6e67e" stroke="#8dc46b" stroke-width="0.35" opacity="0.9"><circle cx="236.5" cy="735.5" r="1.35"/><circle cx="227.1" cy="740.8" r="1.35"/><circle cx="228.9" cy="740.4" r="1.35"/><circle cx="224.5" cy="742.3" r="1.35"/><circle cx="228.1" cy="742.9" r="1.35"/><circle cx="232.1" cy="737.2" r="1.35"/><circle cx="228.1" cy="739.7" r="1.35"/><circle cx="230.1" cy="736.7" r="1.35"/><circle cx="229.3" cy="739.6" r="1.35"/><circle cx="233.5" cy="739.0" r="1.35"/><circle cx="228.8" cy="738.9" r="1.35"/><circle cx="228.9" cy="741.8" r="1.35"/><circle cx="227.4" cy="742.0" r="1.35"/><circle cx="231.7" cy="737.9" r="1.35"/><circle cx="234.2" cy="736.4" r="1.35"/><circle cx="229.4" cy="739.3" r="1.35"/><circle cx="233.2" cy="733.0" r="1.35"/><circle cx="230.6" cy="744.6" r="1.35"/><circle cx="235.7" cy="737.0" r="1.35"/><circle cx="234.3" cy="736.3" r="1.35"/><circle cx="229.9" cy="737.2" r="1.35"/><circle cx="234.1" cy="732.4" r="1.35"/><circle cx="227.6" cy="742.1" r="1.35"/><circle cx="229.7" cy="740.3" r="1.35"/><circle cx="228.3" cy="743.5" r="1.35"/><circle cx="228.1" cy="744.5" r="1.35"/><circle cx="229.5" cy="744.4" r="1.35"/><circle cx="228.6" cy="741.8" r="1.35"/><circle cx="225.6" cy="742.4" r="1.35"/><circle cx="231.1" cy="736.7" r="1.35"/><circle cx="229.8" cy="737.1" r="1.35"/><circle cx="228.8" cy="740.7" r="1.35"/><circle cx="233.6" cy="734.9" r="1.35"/><circle cx="232.8" cy="733.3" r="1.35"/><circle cx="233.0" cy="734.5" r="1.35"/><circle cx="233.1" cy="736.6" r="1.35"/><circle cx="234.0" cy="740.4" r="1.35"/><circle cx="228.4" cy="742.6" r="1.35"/><circle cx="230.4" cy="738.9" r="1.35"/><circle cx="231.8" cy="738.4" r="1.35"/><circle cx="232.4" cy="738.7" r="1.35"/><circle cx="227.8" cy="739.9" r="1.35"/><circle cx="233.0" cy="739.8" r="1.35"/><circle cx="233.9" cy="735.2" r="1.35"/><circle cx="226.0" cy="743.9" r="1.35"/><circle cx="227.0" cy="741.9" r="1.35"/><circle cx="229.5" cy="741.0" r="1.35"/><circle cx="228.5" cy="742.4" r="1.35"/></g>
<line x1="226.4" y1="744.5" x2="235.5" y2="733.7" stroke="#222" stroke-width="0.6"/>
<text x="251.8" y="712.1" font-size="6.6" fill="#72d3a0" text-anchor="start" font-weight="bold" >0.31 ± 0.31</text>
<line x1="249.9" y1="763.7" x2="286.6" y2="763.7" stroke="#444" stroke-width="1.6"/>
<g fill="#72d3a0" stroke="#61b388" stroke-width="0.35" opacity="0.9"><circle cx="275.4" cy="733.3" r="1.35"/><circle cx="278.9" cy="734.4" r="1.35"/><circle cx="270.8" cy="742.0" r="1.35"/><circle cx="268.2" cy="743.2" r="1.35"/><circle cx="271.1" cy="741.4" r="1.35"/><circle cx="273.7" cy="736.7" r="1.35"/><circle cx="271.7" cy="741.8" r="1.35"/><circle cx="272.5" cy="741.7" r="1.35"/><circle cx="274.1" cy="741.3" r="1.35"/><circle cx="268.1" cy="741.8" r="1.35"/><circle cx="275.5" cy="731.0" r="1.35"/><circle cx="274.1" cy="733.6" r="1.35"/><circle cx="272.9" cy="739.0" r="1.35"/><circle cx="280.4" cy="734.5" r="1.35"/><circle cx="275.5" cy="738.8" r="1.35"/><circle cx="276.8" cy="736.8" r="1.35"/><circle cx="279.6" cy="736.4" r="1.35"/><circle cx="274.6" cy="735.8" r="1.35"/><circle cx="270.2" cy="739.8" r="1.35"/><circle cx="275.1" cy="735.6" r="1.35"/><circle cx="274.6" cy="738.1" r="1.35"/><circle cx="272.4" cy="737.2" r="1.35"/><circle cx="278.1" cy="733.5" r="1.35"/><circle cx="272.2" cy="734.7" r="1.35"/><circle cx="268.0" cy="743.9" r="1.35"/><circle cx="270.7" cy="742.9" r="1.35"/><circle cx="269.8" cy="745.2" r="1.35"/><circle cx="276.4" cy="736.1" r="1.35"/><circle cx="277.9" cy="735.4" r="1.35"/><circle cx="267.3" cy="745.8" r="1.35"/><circle cx="271.6" cy="745.2" r="1.35"/><circle cx="271.6" cy="742.4" r="1.35"/><circle cx="273.5" cy="735.2" r="1.35"/><circle cx="276.7" cy="734.9" r="1.35"/><circle cx="275.7" cy="738.3" r="1.35"/><circle cx="271.9" cy="741.9" r="1.35"/><circle cx="277.5" cy="732.8" r="1.35"/><circle cx="277.8" cy="734.2" r="1.35"/><circle cx="273.5" cy="741.8" r="1.35"/><circle cx="278.0" cy="734.4" r="1.35"/><circle cx="273.7" cy="740.3" r="1.35"/><circle cx="272.9" cy="743.0" r="1.35"/><circle cx="272.2" cy="744.5" r="1.35"/><circle cx="270.5" cy="743.4" r="1.35"/><circle cx="267.6" cy="743.7" r="1.35"/><circle cx="279.1" cy="733.5" r="1.35"/><circle cx="269.0" cy="742.8" r="1.35"/><circle cx="275.8" cy="733.9" r="1.35"/></g>
<line x1="267.7" y1="746.9" x2="277.6" y2="731.8" stroke="#222" stroke-width="0.6"/>
<text x="292.6" y="712.1" font-size="6.6" fill="#4f9a97" text-anchor="start" font-weight="bold" >0.48 ± 0.48</text>
<line x1="292.6" y1="763.7" x2="330.0" y2="763.7" stroke="#444" stroke-width="1.6"/>
<g fill="#4f9a97" stroke="#438380" stroke-width="0.35" opacity="0.9"><circle cx="317.1" cy="735.6" r="1.35"/><circle cx="320.7" cy="731.0" r="1.35"/><circle cx="320.8" cy="735.2" r="1.35"/><circle cx="319.3" cy="734.4" r="1.35"/><circle cx="309.3" cy="746.4" r="1.35"/><circle cx="312.4" cy="740.3" r="1.35"/><circle cx="315.3" cy="735.9" r="1.35"/><circle cx="307.8" cy="742.1" r="1.35"/><circle cx="313.8" cy="740.4" r="1.35"/><circle cx="314.0" cy="740.3" r="1.35"/><circle cx="305.0" cy="746.5" r="1.35"/><circle cx="309.8" cy="747.2" r="1.35"/><circle cx="314.2" cy="742.5" r="1.35"/><circle cx="307.1" cy="747.5" r="1.35"/><circle cx="308.0" cy="745.5" r="1.35"/><circle cx="313.0" cy="737.3" r="1.35"/><circle cx="314.0" cy="736.3" r="1.35"/><circle cx="307.6" cy="746.1" r="1.35"/><circle cx="307.6" cy="746.5" r="1.35"/><circle cx="311.3" cy="743.7" r="1.35"/><circle cx="320.1" cy="732.2" r="1.35"/><circle cx="310.1" cy="744.4" r="1.35"/><circle cx="308.6" cy="747.8" r="1.35"/><circle cx="315.3" cy="732.1" r="1.35"/><circle cx="319.8" cy="729.8" r="1.35"/><circle cx="311.1" cy="741.3" r="1.35"/><circle cx="316.1" cy="736.7" r="1.35"/><circle cx="313.0" cy="742.9" r="1.35"/><circle cx="317.4" cy="737.4" r="1.35"/><circle cx="306.1" cy="745.3" r="1.35"/><circle cx="314.8" cy="737.6" r="1.35"/><circle cx="304.6" cy="746.5" r="1.35"/><circle cx="304.7" cy="745.6" r="1.35"/><circle cx="312.9" cy="739.2" r="1.35"/><circle cx="315.1" cy="733.3" r="1.35"/><circle cx="307.9" cy="744.3" r="1.35"/><circle cx="319.0" cy="733.2" r="1.35"/><circle cx="308.2" cy="744.2" r="1.35"/><circle cx="310.3" cy="743.8" r="1.35"/><circle cx="304.5" cy="746.3" r="1.35"/><circle cx="316.5" cy="734.3" r="1.35"/><circle cx="311.9" cy="745.7" r="1.35"/><circle cx="306.1" cy="746.5" r="1.35"/><circle cx="313.4" cy="741.9" r="1.35"/><circle cx="314.8" cy="739.5" r="1.35"/><circle cx="306.3" cy="748.8" r="1.35"/><circle cx="320.6" cy="729.4" r="1.35"/><circle cx="307.9" cy="745.9" r="1.35"/></g>
<line x1="304.4" y1="750.4" x2="322.4" y2="728.6" stroke="#222" stroke-width="0.6"/>
<text x="334.2" y="712.1" font-size="6.6" fill="#2d5f66" text-anchor="start" font-weight="bold" >0.34 ± 0.34</text>
<line x1="335.2" y1="763.7" x2="370.9" y2="763.7" stroke="#444" stroke-width="1.6"/>
<g fill="#2d5f66" stroke="#265157" stroke-width="0.35" opacity="0.9"><circle cx="350.1" cy="740.3" r="1.35"/><circle cx="356.2" cy="735.6" r="1.35"/><circle cx="355.5" cy="739.2" r="1.35"/><circle cx="362.4" cy="732.7" r="1.35"/><circle cx="358.9" cy="735.6" r="1.35"/><circle cx="360.0" cy="737.6" r="1.35"/><circle cx="360.5" cy="733.3" r="1.35"/><circle cx="353.4" cy="744.4" r="1.35"/><circle cx="358.8" cy="739.4" r="1.35"/><circle cx="350.8" cy="743.4" r="1.35"/><circle cx="355.1" cy="741.5" r="1.35"/><circle cx="356.2" cy="739.5" r="1.35"/><circle cx="351.8" cy="743.9" r="1.35"/><circle cx="356.0" cy="741.0" r="1.35"/><circle cx="360.2" cy="734.3" r="1.35"/><circle cx="356.5" cy="742.0" r="1.35"/><circle cx="352.9" cy="741.5" r="1.35"/><circle cx="362.0" cy="736.0" r="1.35"/><circle cx="360.2" cy="737.2" r="1.35"/><circle cx="352.3" cy="740.9" r="1.35"/><circle cx="351.3" cy="741.6" r="1.35"/><circle cx="358.6" cy="734.6" r="1.35"/><circle cx="361.7" cy="734.3" r="1.35"/><circle cx="354.8" cy="734.0" r="1.35"/><circle cx="358.5" cy="737.0" r="1.35"/><circle cx="358.0" cy="733.8" r="1.35"/><circle cx="359.2" cy="733.0" r="1.35"/><circle cx="354.5" cy="740.7" r="1.35"/><circle cx="355.9" cy="736.5" r="1.35"/><circle cx="354.1" cy="740.2" r="1.35"/><circle cx="357.6" cy="734.9" r="1.35"/><circle cx="358.7" cy="730.5" r="1.35"/><circle cx="348.7" cy="744.6" r="1.35"/><circle cx="357.6" cy="739.6" r="1.35"/><circle cx="357.3" cy="737.5" r="1.35"/><circle cx="361.4" cy="735.1" r="1.35"/><circle cx="359.9" cy="738.4" r="1.35"/><circle cx="358.9" cy="731.7" r="1.35"/><circle cx="362.5" cy="735.9" r="1.35"/><circle cx="359.6" cy="732.0" r="1.35"/><circle cx="353.8" cy="739.4" r="1.35"/><circle cx="359.8" cy="736.0" r="1.35"/><circle cx="360.9" cy="731.9" r="1.35"/><circle cx="349.9" cy="744.1" r="1.35"/><circle cx="352.3" cy="744.8" r="1.35"/><circle cx="350.4" cy="746.4" r="1.35"/><circle cx="353.8" cy="739.7" r="1.35"/><circle cx="354.8" cy="746.3" r="1.35"/></g>
<line x1="350.2" y1="746.9" x2="361.7" y2="731.4" stroke="#222" stroke-width="0.6"/>
<text x="374.8" y="712.1" font-size="6.6" fill="#ece85a" text-anchor="start" font-weight="bold" >0.42 ± 0.42</text>
<line x1="376.7" y1="763.7" x2="411.8" y2="763.7" stroke="#444" stroke-width="1.6"/>
<g fill="#ece85a" stroke="#c9c54c" stroke-width="0.35" opacity="0.9"><circle cx="394.1" cy="746.3" r="1.35"/><circle cx="393.7" cy="739.2" r="1.35"/><circle cx="395.0" cy="743.3" r="1.35"/><circle cx="394.6" cy="744.5" r="1.35"/><circle cx="394.4" cy="744.7" r="1.35"/><circle cx="393.0" cy="743.8" r="1.35"/><circle cx="403.9" cy="733.8" r="1.35"/><circle cx="395.1" cy="742.1" r="1.35"/><circle cx="402.6" cy="731.2" r="1.35"/><circle cx="401.5" cy="737.9" r="1.35"/><circle cx="401.7" cy="739.3" r="1.35"/><circle cx="402.6" cy="735.7" r="1.35"/><circle cx="395.8" cy="739.5" r="1.35"/><circle cx="405.9" cy="734.0" r="1.35"/><circle cx="404.2" cy="733.7" r="1.35"/><circle cx="399.8" cy="741.8" r="1.35"/><circle cx="405.6" cy="733.8" r="1.35"/><circle cx="402.7" cy="733.5" r="1.35"/><circle cx="403.8" cy="734.9" r="1.35"/><circle cx="404.5" cy="733.8" r="1.35"/><circle cx="392.5" cy="742.2" r="1.35"/><circle cx="396.5" cy="742.6" r="1.35"/><circle cx="402.2" cy="736.1" r="1.35"/><circle cx="400.1" cy="740.4" r="1.35"/><circle cx="392.2" cy="747.4" r="1.35"/><circle cx="400.0" cy="732.5" r="1.35"/><circle cx="393.0" cy="743.7" r="1.35"/><circle cx="400.6" cy="736.1" r="1.35"/><circle cx="399.8" cy="738.5" r="1.35"/><circle cx="394.1" cy="743.0" r="1.35"/><circle cx="393.9" cy="747.7" r="1.35"/><circle cx="392.2" cy="744.4" r="1.35"/><circle cx="399.6" cy="735.0" r="1.35"/><circle cx="401.9" cy="735.9" r="1.35"/><circle cx="399.6" cy="735.3" r="1.35"/><circle cx="396.4" cy="741.5" r="1.35"/><circle cx="396.6" cy="741.7" r="1.35"/><circle cx="399.3" cy="739.5" r="1.35"/><circle cx="402.7" cy="731.7" r="1.35"/><circle cx="390.9" cy="746.2" r="1.35"/><circle cx="402.8" cy="733.1" r="1.35"/><circle cx="401.6" cy="737.4" r="1.35"/><circle cx="403.1" cy="734.4" r="1.35"/><circle cx="394.4" cy="744.3" r="1.35"/><circle cx="403.6" cy="731.8" r="1.35"/><circle cx="399.7" cy="737.5" r="1.35"/><circle cx="398.2" cy="740.1" r="1.35"/><circle cx="396.4" cy="741.9" r="1.35"/></g>
<line x1="391.1" y1="748.1" x2="404.4" y2="731.4" stroke="#222" stroke-width="0.6"/>
<text x="417.1" y="712.1" font-size="6.6" fill="#eaa447" text-anchor="start" font-weight="bold" >0.34 ± 0.35</text>
<line x1="418.3" y1="763.7" x2="454.3" y2="763.7" stroke="#444" stroke-width="1.6"/>
<g fill="#eaa447" stroke="#c78b3c" stroke-width="0.35" opacity="0.9"><circle cx="434.4" cy="743.7" r="1.35"/><circle cx="433.7" cy="747.8" r="1.35"/><circle cx="439.9" cy="742.7" r="1.35"/><circle cx="438.5" cy="740.9" r="1.35"/><circle cx="441.6" cy="736.5" r="1.35"/><circle cx="443.3" cy="736.7" r="1.35"/><circle cx="435.9" cy="748.0" r="1.35"/><circle cx="437.8" cy="739.6" r="1.35"/><circle cx="439.4" cy="741.8" r="1.35"/><circle cx="442.4" cy="737.7" r="1.35"/><circle cx="441.2" cy="737.8" r="1.35"/><circle cx="441.1" cy="737.8" r="1.35"/><circle cx="446.1" cy="735.2" r="1.35"/><circle cx="436.8" cy="741.4" r="1.35"/><circle cx="437.8" cy="742.8" r="1.35"/><circle cx="445.0" cy="734.8" r="1.35"/><circle cx="436.3" cy="742.3" r="1.35"/><circle cx="445.7" cy="735.0" r="1.35"/><circle cx="443.4" cy="734.8" r="1.35"/><circle cx="437.2" cy="739.7" r="1.35"/><circle cx="441.0" cy="739.7" r="1.35"/><circle cx="431.2" cy="747.0" r="1.35"/><circle cx="436.8" cy="740.9" r="1.35"/><circle cx="443.5" cy="734.4" r="1.35"/><circle cx="441.3" cy="736.4" r="1.35"/><circle cx="442.9" cy="737.9" r="1.35"/><circle cx="441.3" cy="737.1" r="1.35"/><circle cx="440.9" cy="740.6" r="1.35"/><circle cx="437.5" cy="740.7" r="1.35"/><circle cx="435.7" cy="741.2" r="1.35"/><circle cx="440.2" cy="740.9" r="1.35"/><circle cx="443.0" cy="740.2" r="1.35"/><circle cx="439.7" cy="739.8" r="1.35"/><circle cx="435.7" cy="745.6" r="1.35"/><circle cx="435.6" cy="745.2" r="1.35"/><circle cx="441.9" cy="735.1" r="1.35"/><circle cx="444.2" cy="735.1" r="1.35"/><circle cx="442.1" cy="738.7" r="1.35"/><circle cx="438.2" cy="743.1" r="1.35"/><circle cx="434.0" cy="744.7" r="1.35"/><circle cx="444.4" cy="734.9" r="1.35"/><circle cx="439.4" cy="736.8" r="1.35"/><circle cx="444.8" cy="735.1" r="1.35"/><circle cx="432.8" cy="747.6" r="1.35"/><circle cx="432.5" cy="748.4" r="1.35"/><circle cx="440.1" cy="737.3" r="1.35"/><circle cx="434.3" cy="748.4" r="1.35"/><circle cx="442.1" cy="741.4" r="1.35"/></g>
<line x1="431.9" y1="749.9" x2="445.3" y2="733.2" stroke="#222" stroke-width="0.6"/>
<text x="462.0" y="712.1" font-size="6.6" fill="#c98a44" text-anchor="start" font-weight="bold" >0.58 ± 0.58</text>
<line x1="461.5" y1="763.7" x2="495.2" y2="763.7" stroke="#444" stroke-width="1.6"/>
<g fill="#c98a44" stroke="#ab753a" stroke-width="0.35" opacity="0.9"><circle cx="487.8" cy="728.9" r="1.35"/><circle cx="481.5" cy="743.9" r="1.35"/><circle cx="483.0" cy="738.2" r="1.35"/><circle cx="479.0" cy="746.9" r="1.35"/><circle cx="482.1" cy="739.3" r="1.35"/><circle cx="488.6" cy="733.1" r="1.35"/><circle cx="490.9" cy="732.3" r="1.35"/><circle cx="485.6" cy="739.1" r="1.35"/><circle cx="480.5" cy="737.7" r="1.35"/><circle cx="479.0" cy="740.8" r="1.35"/><circle cx="476.7" cy="736.2" r="1.35"/><circle cx="489.7" cy="730.7" r="1.35"/><circle cx="484.5" cy="730.6" r="1.35"/><circle cx="491.5" cy="730.8" r="1.35"/><circle cx="489.7" cy="732.1" r="1.35"/><circle cx="480.9" cy="744.0" r="1.35"/><circle cx="483.8" cy="739.9" r="1.35"/><circle cx="479.6" cy="739.7" r="1.35"/><circle cx="480.3" cy="745.3" r="1.35"/><circle cx="492.4" cy="732.4" r="1.35"/><circle cx="490.5" cy="732.6" r="1.35"/><circle cx="478.2" cy="744.2" r="1.35"/><circle cx="483.5" cy="739.2" r="1.35"/><circle cx="484.4" cy="740.4" r="1.35"/><circle cx="483.7" cy="734.3" r="1.35"/><circle cx="476.6" cy="745.6" r="1.35"/><circle cx="487.4" cy="728.3" r="1.35"/><circle cx="482.2" cy="742.2" r="1.35"/><circle cx="479.1" cy="746.5" r="1.35"/><circle cx="478.5" cy="743.6" r="1.35"/><circle cx="491.0" cy="730.9" r="1.35"/><circle cx="489.9" cy="730.2" r="1.35"/><circle cx="478.6" cy="744.8" r="1.35"/><circle cx="489.7" cy="732.3" r="1.35"/><circle cx="482.9" cy="734.4" r="1.35"/><circle cx="479.6" cy="740.9" r="1.35"/><circle cx="477.9" cy="746.3" r="1.35"/><circle cx="485.3" cy="737.1" r="1.35"/><circle cx="478.1" cy="746.1" r="1.35"/><circle cx="476.5" cy="746.6" r="1.35"/><circle cx="477.4" cy="746.0" r="1.35"/><circle cx="481.6" cy="741.4" r="1.35"/><circle cx="488.6" cy="732.1" r="1.35"/><circle cx="477.0" cy="745.2" r="1.35"/><circle cx="479.5" cy="739.4" r="1.35"/><circle cx="484.5" cy="737.8" r="1.35"/><circle cx="486.0" cy="733.7" r="1.35"/><circle cx="479.3" cy="741.2" r="1.35"/></g>
<line x1="475.7" y1="747.6" x2="491.3" y2="728.6" stroke="#222" stroke-width="0.6"/>
<text x="504.8" y="712.1" font-size="6.6" fill="#8c5a22" text-anchor="start" font-weight="bold" >0.51 ± 0.51</text>
<line x1="502.9" y1="763.7" x2="537.9" y2="763.7" stroke="#444" stroke-width="1.6"/>
<g fill="#8c5a22" stroke="#774c1d" stroke-width="0.35" opacity="0.9"><circle cx="523.9" cy="742.8" r="1.35"/><circle cx="521.9" cy="750.6" r="1.35"/><circle cx="516.1" cy="747.8" r="1.35"/><circle cx="513.2" cy="751.0" r="1.35"/><circle cx="517.5" cy="748.4" r="1.35"/><circle cx="519.4" cy="750.5" r="1.35"/><circle cx="516.4" cy="748.5" r="1.35"/><circle cx="522.6" cy="744.7" r="1.35"/><circle cx="522.5" cy="739.2" r="1.35"/><circle cx="517.9" cy="752.0" r="1.35"/><circle cx="522.2" cy="743.1" r="1.35"/><circle cx="519.0" cy="750.3" r="1.35"/><circle cx="523.8" cy="741.3" r="1.35"/><circle cx="511.7" cy="752.3" r="1.35"/><circle cx="518.0" cy="747.8" r="1.35"/><circle cx="526.0" cy="741.1" r="1.35"/><circle cx="525.1" cy="740.5" r="1.35"/><circle cx="520.2" cy="745.0" r="1.35"/><circle cx="526.7" cy="741.9" r="1.35"/><circle cx="520.2" cy="741.8" r="1.35"/><circle cx="514.9" cy="744.2" r="1.35"/><circle cx="512.8" cy="753.1" r="1.35"/><circle cx="520.8" cy="744.0" r="1.35"/><circle cx="521.3" cy="742.0" r="1.35"/><circle cx="516.1" cy="754.5" r="1.35"/><circle cx="517.1" cy="747.1" r="1.35"/><circle cx="521.0" cy="747.1" r="1.35"/><circle cx="513.7" cy="751.2" r="1.35"/><circle cx="521.8" cy="744.8" r="1.35"/><circle cx="521.6" cy="742.4" r="1.35"/><circle cx="516.0" cy="748.0" r="1.35"/><circle cx="523.2" cy="738.5" r="1.35"/><circle cx="523.4" cy="749.6" r="1.35"/><circle cx="512.0" cy="751.8" r="1.35"/><circle cx="524.7" cy="740.3" r="1.35"/><circle cx="518.5" cy="744.9" r="1.35"/><circle cx="515.5" cy="750.9" r="1.35"/><circle cx="516.5" cy="749.2" r="1.35"/><circle cx="525.6" cy="743.0" r="1.35"/><circle cx="524.7" cy="742.1" r="1.35"/><circle cx="515.9" cy="748.6" r="1.35"/><circle cx="520.0" cy="741.0" r="1.35"/><circle cx="519.6" cy="748.8" r="1.35"/><circle cx="513.9" cy="751.2" r="1.35"/><circle cx="512.8" cy="752.7" r="1.35"/><circle cx="525.5" cy="741.0" r="1.35"/><circle cx="514.4" cy="754.0" r="1.35"/><circle cx="515.6" cy="745.2" r="1.35"/></g>
<line x1="510.7" y1="755.5" x2="525.9" y2="738.4" stroke="#222" stroke-width="0.6"/>
<text x="545.6" y="712.1" font-size="6.6" fill="#eea8ee" text-anchor="start" font-weight="bold" >0.50 ± 0.51</text>
<line x1="544.9" y1="763.7" x2="579.3" y2="763.7" stroke="#444" stroke-width="1.6"/>
<g fill="#eea8ee" stroke="#ca8fca" stroke-width="0.35" opacity="0.9"><circle cx="564.9" cy="738.3" r="1.35"/><circle cx="567.6" cy="733.7" r="1.35"/><circle cx="572.6" cy="731.6" r="1.35"/><circle cx="561.1" cy="743.2" r="1.35"/><circle cx="562.6" cy="737.1" r="1.35"/><circle cx="572.3" cy="736.9" r="1.35"/><circle cx="565.2" cy="738.9" r="1.35"/><circle cx="568.8" cy="737.8" r="1.35"/><circle cx="573.7" cy="731.9" r="1.35"/><circle cx="565.3" cy="742.9" r="1.35"/><circle cx="568.0" cy="736.9" r="1.35"/><circle cx="569.6" cy="736.2" r="1.35"/><circle cx="561.3" cy="740.7" r="1.35"/><circle cx="564.9" cy="735.2" r="1.35"/><circle cx="572.9" cy="731.6" r="1.35"/><circle cx="561.8" cy="743.1" r="1.35"/><circle cx="568.7" cy="735.8" r="1.35"/><circle cx="571.3" cy="733.1" r="1.35"/><circle cx="566.9" cy="734.7" r="1.35"/><circle cx="561.9" cy="745.5" r="1.35"/><circle cx="568.5" cy="739.2" r="1.35"/><circle cx="574.9" cy="732.4" r="1.35"/><circle cx="561.7" cy="743.9" r="1.35"/><circle cx="574.1" cy="733.8" r="1.35"/><circle cx="559.6" cy="743.5" r="1.35"/><circle cx="562.4" cy="746.1" r="1.35"/><circle cx="559.6" cy="746.7" r="1.35"/><circle cx="565.4" cy="735.6" r="1.35"/><circle cx="568.4" cy="739.3" r="1.35"/><circle cx="567.1" cy="740.0" r="1.35"/><circle cx="566.8" cy="738.9" r="1.35"/><circle cx="567.0" cy="739.0" r="1.35"/><circle cx="567.6" cy="733.8" r="1.35"/><circle cx="561.2" cy="738.6" r="1.35"/><circle cx="563.7" cy="740.1" r="1.35"/><circle cx="570.5" cy="737.2" r="1.35"/><circle cx="573.6" cy="733.7" r="1.35"/><circle cx="571.5" cy="735.0" r="1.35"/><circle cx="569.6" cy="733.9" r="1.35"/><circle cx="563.8" cy="742.3" r="1.35"/><circle cx="568.0" cy="737.3" r="1.35"/><circle cx="562.5" cy="741.2" r="1.35"/><circle cx="568.1" cy="744.6" r="1.35"/><circle cx="565.3" cy="742.7" r="1.35"/><circle cx="568.0" cy="742.2" r="1.35"/><circle cx="562.3" cy="742.5" r="1.35"/><circle cx="574.0" cy="731.7" r="1.35"/><circle cx="563.7" cy="738.5" r="1.35"/></g>
<line x1="558.1" y1="749.2" x2="574.5" y2="728.6" stroke="#222" stroke-width="0.6"/>
<text x="588.1" y="712.1" font-size="6.6" fill="#e23fa8" text-anchor="start" font-weight="bold" >0.57 ± 0.57</text>
<line x1="587.7" y1="763.7" x2="621.1" y2="763.7" stroke="#444" stroke-width="1.6"/>
<g fill="#e23fa8" stroke="#c0368f" stroke-width="0.35" opacity="0.9"><circle cx="598.6" cy="755.2" r="1.35"/><circle cx="594.3" cy="751.9" r="1.35"/><circle cx="605.6" cy="743.9" r="1.35"/><circle cx="614.1" cy="741.1" r="1.35"/><circle cx="599.5" cy="746.9" r="1.35"/><circle cx="599.6" cy="747.7" r="1.35"/><circle cx="601.8" cy="744.5" r="1.35"/><circle cx="613.3" cy="737.1" r="1.35"/><circle cx="610.0" cy="741.6" r="1.35"/><circle cx="612.8" cy="736.0" r="1.35"/><circle cx="606.8" cy="737.8" r="1.35"/><circle cx="606.0" cy="739.7" r="1.35"/><circle cx="597.7" cy="749.9" r="1.35"/><circle cx="600.1" cy="751.2" r="1.35"/><circle cx="608.8" cy="742.0" r="1.35"/><circle cx="608.3" cy="740.8" r="1.35"/><circle cx="610.0" cy="736.1" r="1.35"/><circle cx="613.4" cy="741.2" r="1.35"/><circle cx="599.6" cy="752.0" r="1.35"/><circle cx="603.5" cy="744.6" r="1.35"/><circle cx="599.7" cy="754.5" r="1.35"/><circle cx="611.7" cy="739.4" r="1.35"/><circle cx="596.8" cy="751.0" r="1.35"/><circle cx="608.3" cy="744.7" r="1.35"/><circle cx="598.1" cy="751.2" r="1.35"/><circle cx="611.0" cy="735.6" r="1.35"/><circle cx="605.2" cy="739.5" r="1.35"/><circle cx="596.6" cy="746.6" r="1.35"/><circle cx="596.8" cy="747.9" r="1.35"/><circle cx="609.0" cy="734.0" r="1.35"/><circle cx="608.1" cy="737.8" r="1.35"/><circle cx="608.3" cy="738.2" r="1.35"/><circle cx="609.0" cy="743.9" r="1.35"/><circle cx="602.3" cy="742.9" r="1.35"/><circle cx="607.4" cy="742.2" r="1.35"/><circle cx="610.4" cy="740.8" r="1.35"/><circle cx="609.1" cy="741.8" r="1.35"/><circle cx="603.4" cy="746.3" r="1.35"/><circle cx="604.7" cy="742.3" r="1.35"/><circle cx="613.4" cy="737.4" r="1.35"/><circle cx="598.6" cy="743.2" r="1.35"/><circle cx="603.0" cy="749.2" r="1.35"/><circle cx="606.7" cy="745.6" r="1.35"/><circle cx="613.0" cy="741.1" r="1.35"/><circle cx="599.1" cy="748.8" r="1.35"/><circle cx="609.2" cy="737.3" r="1.35"/><circle cx="603.4" cy="743.8" r="1.35"/><circle cx="608.9" cy="749.0" r="1.35"/></g>
<line x1="595.5" y1="755.5" x2="613.5" y2="733.7" stroke="#222" stroke-width="0.6"/>
<text x="627.5" y="712.1" font-size="6.6" fill="#8a2565" text-anchor="start" font-weight="bold" >0.34 ± 0.35</text>
<line x1="629.3" y1="763.7" x2="659.5" y2="763.7" stroke="#444" stroke-width="1.6"/>
<g fill="#8a2565" stroke="#751f56" stroke-width="0.35" opacity="0.9"><circle cx="640.4" cy="754.9" r="1.35"/><circle cx="640.0" cy="754.5" r="1.35"/><circle cx="645.2" cy="750.7" r="1.35"/><circle cx="646.6" cy="750.9" r="1.35"/><circle cx="641.6" cy="754.9" r="1.35"/><circle cx="647.4" cy="746.5" r="1.35"/><circle cx="642.6" cy="754.8" r="1.35"/><circle cx="648.4" cy="747.6" r="1.35"/><circle cx="643.0" cy="752.3" r="1.35"/><circle cx="648.6" cy="745.9" r="1.35"/><circle cx="638.1" cy="751.3" r="1.35"/><circle cx="646.5" cy="749.1" r="1.35"/><circle cx="646.1" cy="744.8" r="1.35"/><circle cx="646.5" cy="744.5" r="1.35"/><circle cx="646.2" cy="747.4" r="1.35"/><circle cx="638.9" cy="752.1" r="1.35"/><circle cx="647.9" cy="745.2" r="1.35"/><circle cx="636.9" cy="755.3" r="1.35"/><circle cx="637.3" cy="754.4" r="1.35"/><circle cx="637.4" cy="753.8" r="1.35"/><circle cx="643.5" cy="751.4" r="1.35"/><circle cx="636.9" cy="755.2" r="1.35"/><circle cx="637.5" cy="754.5" r="1.35"/><circle cx="639.6" cy="754.9" r="1.35"/><circle cx="636.7" cy="755.1" r="1.35"/><circle cx="639.3" cy="754.7" r="1.35"/><circle cx="635.4" cy="753.8" r="1.35"/><circle cx="639.5" cy="751.5" r="1.35"/><circle cx="637.1" cy="754.8" r="1.35"/><circle cx="638.0" cy="755.1" r="1.35"/><circle cx="639.5" cy="753.6" r="1.35"/><circle cx="641.6" cy="750.4" r="1.35"/><circle cx="634.4" cy="754.4" r="1.35"/><circle cx="648.4" cy="748.8" r="1.35"/><circle cx="641.5" cy="750.7" r="1.35"/><circle cx="643.4" cy="750.8" r="1.35"/><circle cx="641.2" cy="751.2" r="1.35"/><circle cx="645.5" cy="747.3" r="1.35"/><circle cx="649.0" cy="745.7" r="1.35"/><circle cx="640.5" cy="751.3" r="1.35"/><circle cx="638.8" cy="756.3" r="1.35"/><circle cx="636.9" cy="755.6" r="1.35"/><circle cx="646.2" cy="743.7" r="1.35"/><circle cx="640.8" cy="748.5" r="1.35"/><circle cx="639.3" cy="754.5" r="1.35"/><circle cx="640.3" cy="748.6" r="1.35"/><circle cx="648.3" cy="746.3" r="1.35"/><circle cx="645.5" cy="752.0" r="1.35"/></g>
<line x1="636.3" y1="757.0" x2="647.6" y2="743.9" stroke="#222" stroke-width="0.6"/>
<line x1="44" y1="724.6" x2="44" y2="763.9" stroke="#333" stroke-width="1.3"/>
<text x="39.0" y="732.5" font-size="10" fill="#000" text-anchor="end" >8</text>
<text x="39.0" y="763.5" font-size="10" fill="#000" text-anchor="end" >0</text>
<text x="46.3" y="775.6" font-size="10" fill="#000" text-anchor="middle" >0</text>
<text x="72.4" y="775.6" font-size="10" fill="#000" text-anchor="middle" >8</text>
<text x="42.7" y="798.0" font-size="12" fill="#000" text-anchor="start" >Actual SD [mm]</text>
<text x="0" y="0" font-size="12" text-anchor="middle" transform="translate(24.3,742.3) rotate(-90)">Predicted SD [mm]</text>
</svg>
</body></html>
